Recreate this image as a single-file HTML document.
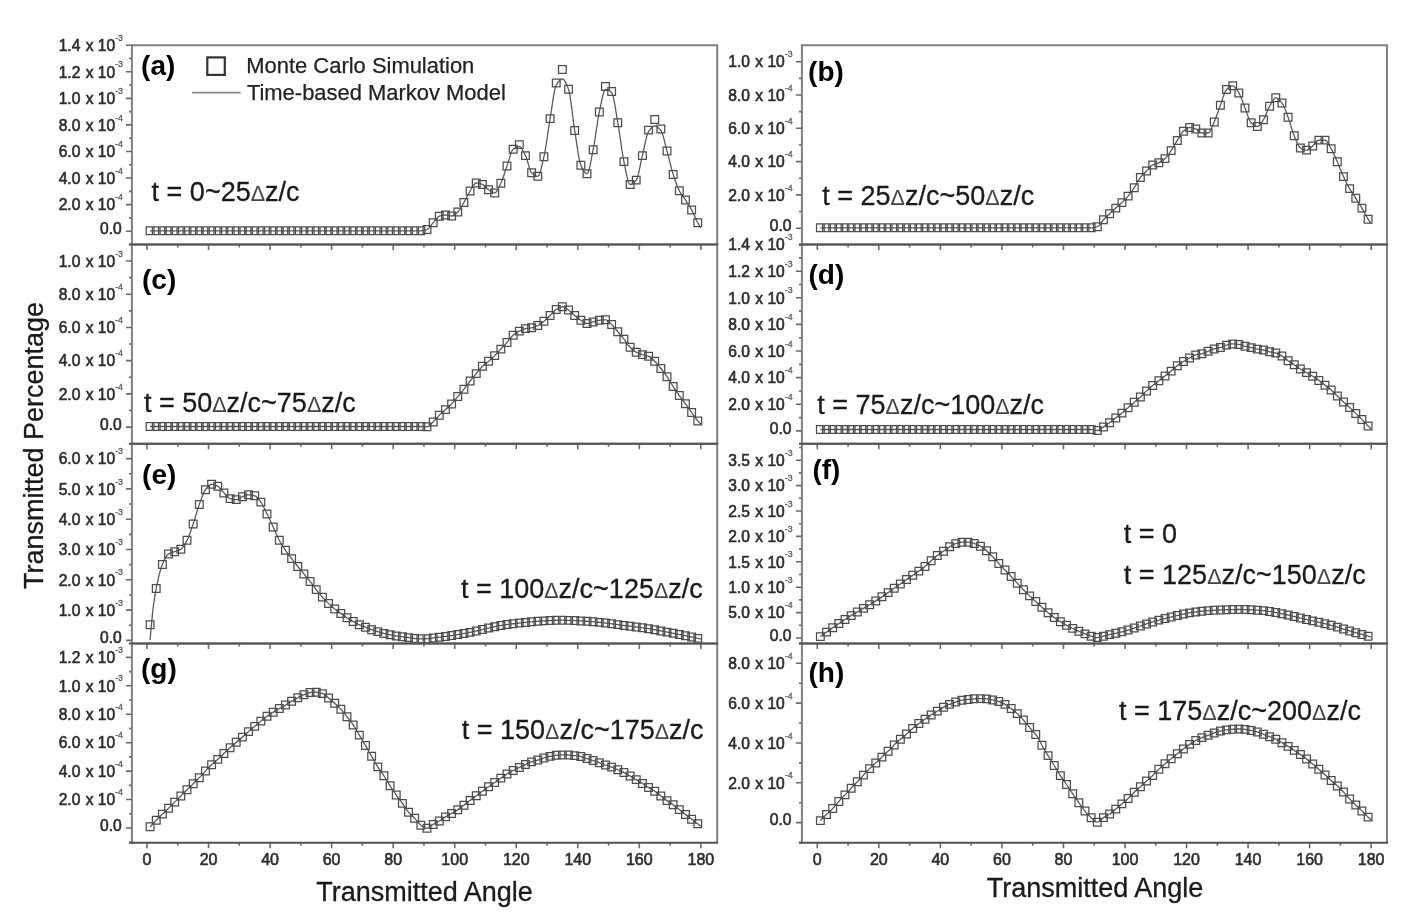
<!DOCTYPE html>
<html><head><meta charset="utf-8"><style>html,body{margin:0;padding:0;background:#fff;width:1410px;height:917px;overflow:hidden}svg{display:block;filter:blur(0.35px)}</style></head>
<body><svg width="1410" height="917" viewBox="0 0 1410 917" font-family='"Liberation Sans", sans-serif'>
<rect width="1410" height="917" fill="#fff"/>
<g><path d="M150.08,230.80 L150.85,230.80 L151.62,230.80 L152.38,230.80 L153.15,230.80 L153.92,230.80 L154.69,230.80 L155.46,230.80 L156.23,230.80 L157.00,230.80 L157.77,230.80 L158.54,230.80 L159.31,230.80 L160.08,230.80 L160.85,230.80 L161.62,230.80 L162.38,230.80 L163.15,230.80 L163.92,230.80 L164.69,230.80 L165.46,230.80 L166.23,230.80 L167.00,230.80 L167.77,230.80 L168.54,230.80 L169.31,230.80 L170.08,230.80 L170.85,230.80 L171.62,230.80 L172.39,230.80 L173.15,230.80 L173.92,230.80 L174.69,230.80 L175.46,230.80 L176.23,230.80 L177.00,230.80 L177.77,230.80 L178.54,230.80 L179.31,230.80 L180.08,230.80 L180.85,230.80 L181.62,230.80 L182.39,230.80 L183.15,230.80 L183.92,230.80 L184.69,230.80 L185.46,230.80 L186.23,230.80 L187.00,230.80 L187.77,230.80 L188.54,230.80 L189.31,230.80 L190.08,230.80 L190.85,230.80 L191.62,230.80 L192.39,230.80 L193.16,230.80 L193.92,230.80 L194.69,230.80 L195.46,230.80 L196.23,230.80 L197.00,230.80 L197.77,230.80 L198.54,230.80 L199.31,230.80 L200.08,230.80 L200.85,230.80 L201.62,230.80 L202.39,230.80 L203.16,230.80 L203.92,230.80 L204.69,230.80 L205.46,230.80 L206.23,230.80 L207.00,230.80 L207.77,230.80 L208.54,230.80 L209.31,230.80 L210.08,230.80 L210.85,230.80 L211.62,230.80 L212.39,230.80 L213.16,230.80 L213.92,230.80 L214.69,230.80 L215.46,230.80 L216.23,230.80 L217.00,230.80 L217.77,230.80 L218.54,230.80 L219.31,230.80 L220.08,230.80 L220.85,230.80 L221.62,230.80 L222.39,230.80 L223.16,230.80 L223.93,230.80 L224.69,230.80 L225.46,230.80 L226.23,230.80 L227.00,230.80 L227.77,230.80 L228.54,230.80 L229.31,230.80 L230.08,230.80 L230.85,230.80 L231.62,230.80 L232.39,230.80 L233.16,230.80 L233.93,230.80 L234.69,230.80 L235.46,230.80 L236.23,230.80 L237.00,230.80 L237.77,230.80 L238.54,230.80 L239.31,230.80 L240.08,230.80 L240.85,230.80 L241.62,230.80 L242.39,230.80 L243.16,230.80 L243.93,230.80 L244.69,230.80 L245.46,230.80 L246.23,230.80 L247.00,230.80 L247.77,230.80 L248.54,230.80 L249.31,230.80 L250.08,230.80 L250.85,230.80 L251.62,230.80 L252.39,230.80 L253.16,230.80 L253.93,230.80 L254.69,230.80 L255.46,230.80 L256.23,230.80 L257.00,230.80 L257.77,230.80 L258.54,230.80 L259.31,230.80 L260.08,230.80 L260.85,230.80 L261.62,230.80 L262.39,230.80 L263.16,230.80 L263.93,230.80 L264.70,230.80 L265.46,230.80 L266.23,230.80 L267.00,230.80 L267.77,230.80 L268.54,230.80 L269.31,230.80 L270.08,230.80 L270.85,230.80 L271.62,230.80 L272.39,230.80 L273.16,230.80 L273.93,230.80 L274.70,230.80 L275.46,230.80 L276.23,230.80 L277.00,230.80 L277.77,230.80 L278.54,230.80 L279.31,230.80 L280.08,230.80 L280.85,230.80 L281.62,230.80 L282.39,230.80 L283.16,230.80 L283.93,230.80 L284.70,230.80 L285.47,230.80 L286.23,230.80 L287.00,230.80 L287.77,230.80 L288.54,230.80 L289.31,230.80 L290.08,230.80 L290.85,230.80 L291.62,230.80 L292.39,230.80 L293.16,230.80 L293.93,230.80 L294.70,230.80 L295.47,230.80 L296.23,230.80 L297.00,230.80 L297.77,230.80 L298.54,230.80 L299.31,230.80 L300.08,230.80 L300.85,230.80 L301.62,230.80 L302.39,230.80 L303.16,230.80 L303.93,230.80 L304.70,230.80 L305.47,230.80 L306.23,230.80 L307.00,230.80 L307.77,230.80 L308.54,230.80 L309.31,230.80 L310.08,230.80 L310.85,230.80 L311.62,230.80 L312.39,230.80 L313.16,230.80 L313.93,230.80 L314.70,230.80 L315.47,230.80 L316.24,230.80 L317.00,230.80 L317.77,230.80 L318.54,230.80 L319.31,230.80 L320.08,230.80 L320.85,230.80 L321.62,230.80 L322.39,230.80 L323.16,230.80 L323.93,230.80 L324.70,230.80 L325.47,230.80 L326.24,230.80 L327.00,230.80 L327.77,230.80 L328.54,230.80 L329.31,230.80 L330.08,230.80 L330.85,230.80 L331.62,230.80 L332.39,230.80 L333.16,230.80 L333.93,230.80 L334.70,230.80 L335.47,230.80 L336.24,230.80 L337.00,230.80 L337.77,230.80 L338.54,230.80 L339.31,230.80 L340.08,230.80 L340.85,230.80 L341.62,230.80 L342.39,230.80 L343.16,230.80 L343.93,230.80 L344.70,230.80 L345.47,230.80 L346.24,230.80 L347.00,230.80 L347.77,230.80 L348.54,230.80 L349.31,230.80 L350.08,230.80 L350.85,230.80 L351.62,230.80 L352.39,230.80 L353.16,230.80 L353.93,230.80 L354.70,230.80 L355.47,230.80 L356.24,230.80 L357.01,230.80 L357.77,230.80 L358.54,230.80 L359.31,230.80 L360.08,230.80 L360.85,230.80 L361.62,230.80 L362.39,230.80 L363.16,230.80 L363.93,230.80 L364.70,230.80 L365.47,230.80 L366.24,230.80 L367.01,230.80 L367.77,230.80 L368.54,230.80 L369.31,230.80 L370.08,230.80 L370.85,230.80 L371.62,230.80 L372.39,230.80 L373.16,230.80 L373.93,230.80 L374.70,230.80 L375.47,230.80 L376.24,230.80 L377.01,230.80 L377.77,230.80 L378.54,230.80 L379.31,230.80 L380.08,230.80 L380.85,230.80 L381.62,230.80 L382.39,230.80 L383.16,230.80 L383.93,230.80 L384.70,230.80 L385.47,230.80 L386.24,230.80 L387.01,230.80 L387.78,230.80 L388.54,230.80 L389.31,230.80 L390.08,230.80 L390.85,230.80 L391.62,230.80 L392.39,230.80 L393.16,230.80 L393.93,230.80 L394.70,230.80 L395.47,230.80 L396.24,230.80 L397.01,230.80 L397.78,230.80 L398.54,230.80 L399.31,230.80 L400.08,230.80 L400.85,230.80 L401.62,230.80 L402.39,230.80 L403.16,230.80 L403.93,230.80 L404.70,230.80 L405.47,230.80 L406.24,230.80 L407.01,230.80 L407.78,230.80 L408.55,230.80 L409.31,230.80 L410.08,230.80 L410.85,230.80 L411.62,230.80 L412.39,230.80 L413.16,230.80 L413.93,230.80 L414.70,230.80 L415.47,230.80 L416.24,230.80 L417.01,230.80 L417.78,230.80 L418.55,230.80 L419.31,230.80 L420.08,230.80 L420.85,230.80 L421.62,230.77 L422.39,230.70 L423.16,230.58 L423.93,230.42 L424.70,230.23 L425.47,230.01 L426.24,229.76 L427.01,229.50 L427.78,229.09 L428.55,228.44 L429.31,227.61 L430.08,226.66 L430.85,225.63 L431.62,224.59 L432.39,223.60 L433.16,222.70 L433.93,221.81 L434.70,220.84 L435.47,219.85 L436.24,218.87 L437.01,217.97 L437.78,217.19 L438.55,216.58 L439.31,216.20 L440.08,215.95 L440.85,215.73 L441.62,215.52 L442.39,215.35 L443.16,215.20 L443.93,215.09 L444.70,215.02 L445.47,215.00 L446.24,215.04 L447.01,215.16 L447.78,215.32 L448.55,215.50 L449.32,215.68 L450.08,215.84 L450.85,215.96 L451.62,216.00 L452.39,215.91 L453.16,215.64 L453.93,215.23 L454.70,214.71 L455.47,214.09 L456.24,213.42 L457.01,212.71 L457.78,212.00 L458.55,211.19 L459.32,210.19 L460.08,209.05 L460.85,207.80 L461.62,206.47 L462.39,205.10 L463.16,203.73 L463.93,202.40 L464.70,201.04 L465.47,199.59 L466.24,198.09 L467.01,196.57 L467.78,195.07 L468.55,193.61 L469.32,192.25 L470.08,191.00 L470.85,189.76 L471.62,188.43 L472.39,187.09 L473.16,185.82 L473.93,184.70 L474.70,183.81 L475.47,183.22 L476.24,183.00 L477.01,183.03 L477.78,183.11 L478.55,183.25 L479.32,183.42 L480.09,183.63 L480.85,183.87 L481.62,184.13 L482.39,184.40 L483.16,184.79 L483.93,185.35 L484.70,186.05 L485.47,186.83 L486.24,187.63 L487.01,188.41 L487.78,189.12 L488.55,189.70 L489.32,190.22 L490.09,190.76 L490.85,191.30 L491.62,191.80 L492.39,192.24 L493.16,192.59 L493.93,192.82 L494.70,192.90 L495.47,192.66 L496.24,191.98 L497.01,190.95 L497.78,189.65 L498.55,188.15 L499.32,186.54 L500.09,184.90 L500.86,183.30 L501.62,181.60 L502.39,179.64 L503.16,177.48 L503.93,175.18 L504.70,172.81 L505.47,170.43 L506.24,168.10 L507.01,165.90 L507.78,163.63 L508.55,161.14 L509.32,158.58 L510.09,156.08 L510.86,153.76 L511.62,151.77 L512.39,150.24 L513.16,149.30 L513.93,148.72 L514.70,148.19 L515.47,147.71 L516.24,147.30 L517.01,146.96 L517.78,146.71 L518.55,146.55 L519.32,146.50 L520.09,146.73 L520.86,147.37 L521.62,148.34 L522.39,149.57 L523.16,150.98 L523.93,152.51 L524.70,154.07 L525.47,155.60 L526.24,157.39 L527.01,159.66 L527.78,162.23 L528.55,164.89 L529.32,167.46 L530.09,169.75 L530.86,171.56 L531.62,172.70 L532.39,173.42 L533.16,174.10 L533.93,174.71 L534.70,175.24 L535.47,175.68 L536.24,176.02 L537.01,176.23 L537.78,176.30 L538.55,175.81 L539.32,174.45 L540.09,172.37 L540.86,169.74 L541.63,166.69 L542.39,163.40 L543.16,160.02 L543.93,156.70 L544.70,153.07 L545.47,148.78 L546.24,143.99 L547.01,138.88 L547.78,133.61 L548.55,128.36 L549.32,123.30 L550.09,118.60 L550.86,113.88 L551.63,108.81 L552.39,103.63 L553.16,98.61 L553.93,93.98 L554.70,90.01 L555.47,86.93 L556.24,85.00 L557.01,83.77 L557.78,82.63 L558.55,81.61 L559.32,80.73 L560.09,80.00 L560.86,79.46 L561.63,79.12 L562.39,79.00 L563.16,79.22 L563.93,79.86 L564.70,80.85 L565.47,82.16 L566.24,83.73 L567.01,85.51 L567.78,87.45 L568.55,89.50 L569.32,92.35 L570.09,96.50 L570.86,101.62 L571.63,107.39 L572.40,113.49 L573.16,119.59 L573.93,125.37 L574.70,130.50 L575.47,135.40 L576.24,140.57 L577.01,145.79 L577.78,150.84 L578.55,155.52 L579.32,159.62 L580.09,162.92 L580.86,165.20 L581.63,166.87 L582.40,168.45 L583.16,169.89 L583.93,171.16 L584.70,172.21 L585.47,173.01 L586.24,173.52 L587.01,173.70 L587.78,173.07 L588.55,171.32 L589.32,168.68 L590.09,165.37 L590.86,161.59 L591.63,157.57 L592.40,153.54 L593.16,149.70 L593.93,145.66 L594.70,141.01 L595.47,135.95 L596.24,130.71 L597.01,125.48 L597.78,120.48 L598.55,115.92 L599.32,112.00 L600.09,108.34 L600.86,104.52 L601.63,100.75 L602.40,97.23 L603.17,94.14 L603.93,91.69 L604.70,90.08 L605.47,89.50 L606.24,89.55 L607.01,89.71 L607.78,89.97 L608.55,90.32 L609.32,90.75 L610.09,91.26 L610.86,91.85 L611.63,92.50 L612.40,93.86 L613.17,96.39 L613.93,99.87 L614.70,104.03 L615.47,108.64 L616.24,113.46 L617.01,118.22 L617.78,122.70 L618.55,127.23 L619.32,132.21 L620.09,137.46 L620.86,142.81 L621.63,148.07 L622.40,153.07 L623.17,157.64 L623.93,161.60 L624.70,165.33 L625.47,169.21 L626.24,173.03 L627.01,176.59 L627.78,179.71 L628.55,182.19 L629.32,183.81 L630.09,184.40 L630.86,184.32 L631.63,184.07 L632.40,183.68 L633.17,183.16 L633.94,182.53 L634.70,181.80 L635.47,180.98 L636.24,180.10 L637.01,178.68 L637.78,176.38 L638.55,173.41 L639.32,169.97 L640.09,166.27 L640.86,162.50 L641.63,158.88 L642.40,155.60 L643.17,152.36 L643.94,148.84 L644.70,145.20 L645.47,141.63 L646.24,138.30 L647.01,135.39 L647.78,133.06 L648.55,131.50 L649.32,130.41 L650.09,129.38 L650.86,128.45 L651.63,127.63 L652.40,126.95 L653.17,126.44 L653.94,126.11 L654.70,126.00 L655.47,126.09 L656.24,126.36 L657.01,126.78 L657.78,127.33 L658.55,128.00 L659.32,128.76 L660.09,129.60 L660.86,130.50 L661.63,131.79 L662.40,133.72 L663.17,136.15 L663.94,138.94 L664.71,141.96 L665.47,145.07 L666.24,148.13 L667.01,151.00 L667.78,153.83 L668.55,156.83 L669.32,159.92 L670.09,163.03 L670.86,166.10 L671.63,169.07 L672.40,171.85 L673.17,174.40 L673.94,176.78 L674.71,179.10 L675.47,181.34 L676.24,183.48 L677.01,185.51 L677.78,187.40 L678.55,189.14 L679.32,190.70 L680.09,192.09 L680.86,193.34 L681.63,194.49 L682.40,195.57 L683.17,196.62 L683.94,197.67 L684.71,198.75 L685.48,199.90 L686.24,201.09 L687.01,202.28 L687.78,203.48 L688.55,204.69 L689.32,205.93 L690.09,207.21 L690.86,208.53 L691.63,209.90 L692.40,211.37 L693.17,212.94 L693.94,214.59 L694.71,216.27 L695.48,217.96 L696.24,219.61 L697.01,221.21 L697.78,222.70 L698.55,224.10 L699.32,225.45 L700.09,226.75 L700.86,228.00" fill="none" stroke="#5a5a5a" stroke-width="1.3" stroke-linejoin="round"/><path d="M146.23,226.95h7.7v7.7h-7.7zM152.38,226.95h7.7v7.7h-7.7zM158.53,226.95h7.7v7.7h-7.7zM164.69,226.95h7.7v7.7h-7.7zM170.84,226.95h7.7v7.7h-7.7zM177.00,226.95h7.7v7.7h-7.7zM183.15,226.95h7.7v7.7h-7.7zM189.31,226.95h7.7v7.7h-7.7zM195.46,226.95h7.7v7.7h-7.7zM201.61,226.95h7.7v7.7h-7.7zM207.77,226.95h7.7v7.7h-7.7zM213.92,226.95h7.7v7.7h-7.7zM220.08,226.95h7.7v7.7h-7.7zM226.23,226.95h7.7v7.7h-7.7zM232.38,226.95h7.7v7.7h-7.7zM238.54,226.95h7.7v7.7h-7.7zM244.69,226.95h7.7v7.7h-7.7zM250.84,226.95h7.7v7.7h-7.7zM257.00,226.95h7.7v7.7h-7.7zM263.15,226.95h7.7v7.7h-7.7zM269.31,226.95h7.7v7.7h-7.7zM275.46,226.95h7.7v7.7h-7.7zM281.62,226.95h7.7v7.7h-7.7zM287.77,226.95h7.7v7.7h-7.7zM293.92,226.95h7.7v7.7h-7.7zM300.08,226.95h7.7v7.7h-7.7zM306.23,226.95h7.7v7.7h-7.7zM312.38,226.95h7.7v7.7h-7.7zM318.54,226.95h7.7v7.7h-7.7zM324.69,226.95h7.7v7.7h-7.7zM330.85,226.95h7.7v7.7h-7.7zM337.00,226.95h7.7v7.7h-7.7zM343.15,226.95h7.7v7.7h-7.7zM349.31,226.95h7.7v7.7h-7.7zM355.46,226.95h7.7v7.7h-7.7zM361.62,226.95h7.7v7.7h-7.7zM367.77,226.95h7.7v7.7h-7.7zM373.92,226.95h7.7v7.7h-7.7zM380.08,226.95h7.7v7.7h-7.7zM386.23,226.95h7.7v7.7h-7.7zM392.39,226.95h7.7v7.7h-7.7zM398.54,226.95h7.7v7.7h-7.7zM404.69,226.95h7.7v7.7h-7.7zM410.85,226.95h7.7v7.7h-7.7zM417.00,226.95h7.7v7.7h-7.7zM423.16,225.65h7.7v7.7h-7.7zM429.31,218.85h7.7v7.7h-7.7zM435.46,212.35h7.7v7.7h-7.7zM441.62,211.15h7.7v7.7h-7.7zM447.77,212.15h7.7v7.7h-7.7zM453.93,208.15h7.7v7.7h-7.7zM460.08,198.55h7.7v7.7h-7.7zM466.23,187.15h7.7v7.7h-7.7zM472.39,179.15h7.7v7.7h-7.7zM478.54,180.55h7.7v7.7h-7.7zM484.70,185.85h7.7v7.7h-7.7zM490.85,189.05h7.7v7.7h-7.7zM497.00,179.45h7.7v7.7h-7.7zM503.16,162.05h7.7v7.7h-7.7zM509.31,145.45h7.7v7.7h-7.7zM515.47,140.75h7.7v7.7h-7.7zM521.62,151.75h7.7v7.7h-7.7zM527.77,168.85h7.7v7.7h-7.7zM533.93,172.45h7.7v7.7h-7.7zM540.08,152.85h7.7v7.7h-7.7zM546.24,114.75h7.7v7.7h-7.7zM552.39,79.05h7.7v7.7h-7.7zM558.54,65.65h7.7v7.7h-7.7zM564.70,85.45h7.7v7.7h-7.7zM570.85,126.65h7.7v7.7h-7.7zM577.01,161.35h7.7v7.7h-7.7zM583.16,169.85h7.7v7.7h-7.7zM589.31,145.85h7.7v7.7h-7.7zM595.47,108.15h7.7v7.7h-7.7zM601.62,82.65h7.7v7.7h-7.7zM607.78,87.55h7.7v7.7h-7.7zM613.93,118.85h7.7v7.7h-7.7zM620.08,157.75h7.7v7.7h-7.7zM626.24,180.55h7.7v7.7h-7.7zM632.39,176.25h7.7v7.7h-7.7zM638.55,151.75h7.7v7.7h-7.7zM644.70,126.25h7.7v7.7h-7.7zM650.85,115.65h7.7v7.7h-7.7zM657.01,125.15h7.7v7.7h-7.7zM663.16,147.15h7.7v7.7h-7.7zM669.32,170.55h7.7v7.7h-7.7zM675.47,186.85h7.7v7.7h-7.7zM681.62,196.05h7.7v7.7h-7.7zM687.78,206.05h7.7v7.7h-7.7zM693.93,218.85h7.7v7.7h-7.7z" fill="none" stroke="#4d4d4d" stroke-width="1.25"/><path d="M131.9,45.2H717.2V244.6" fill="none" stroke="#808080" stroke-width="2"/><path d="M131.9,44.2V245.6" fill="none" stroke="#808080" stroke-width="2"/><path d="M147.00,244.6v5.5M177.77,244.6v3.0M208.54,244.6v5.5M239.31,244.6v3.0M270.08,244.6v5.5M300.85,244.6v3.0M331.62,244.6v5.5M362.39,244.6v3.0M393.16,244.6v5.5M423.93,244.6v3.0M454.70,244.6v5.5M485.47,244.6v3.0M516.24,244.6v5.5M547.01,244.6v3.0M577.78,244.6v5.5M608.55,244.6v3.0M639.32,244.6v5.5M670.09,244.6v3.0M700.86,244.6v5.5M131.90,244.48h-2.9M131.90,231.20h-6M131.90,217.91h-2.9M131.90,204.63h-6M131.90,191.34h-2.9M131.90,178.06h-6M131.90,164.77h-2.9M131.90,151.49h-6M131.90,138.20h-2.9M131.90,124.92h-6M131.90,111.63h-2.9M131.90,98.35h-6M131.90,85.06h-2.9M131.90,71.78h-6M131.90,58.49h-2.9M131.90,45.21h-6" fill="none" stroke="#6a6a6a" stroke-width="1.6"/><text x="121.8" y="233.9" font-size="15.6" text-anchor="end" fill="#2e2e2e" stroke="#2e2e2e" stroke-width="0.6">0.0</text><text x="123.0" y="210.3" font-size="15.6" text-anchor="end" fill="#2e2e2e" stroke="#2e2e2e" stroke-width="0.6">2.0 <tspan dx="1">x</tspan> 10<tspan font-size="8.8" dy="-10.1" fill="#5a5a5a" stroke="#5a5a5a" stroke-width="0.3">-4</tspan></text><text x="123.0" y="183.8" font-size="15.6" text-anchor="end" fill="#2e2e2e" stroke="#2e2e2e" stroke-width="0.6">4.0 <tspan dx="1">x</tspan> 10<tspan font-size="8.8" dy="-10.1" fill="#5a5a5a" stroke="#5a5a5a" stroke-width="0.3">-4</tspan></text><text x="123.0" y="157.2" font-size="15.6" text-anchor="end" fill="#2e2e2e" stroke="#2e2e2e" stroke-width="0.6">6.0 <tspan dx="1">x</tspan> 10<tspan font-size="8.8" dy="-10.1" fill="#5a5a5a" stroke="#5a5a5a" stroke-width="0.3">-4</tspan></text><text x="123.0" y="130.6" font-size="15.6" text-anchor="end" fill="#2e2e2e" stroke="#2e2e2e" stroke-width="0.6">8.0 <tspan dx="1">x</tspan> 10<tspan font-size="8.8" dy="-10.1" fill="#5a5a5a" stroke="#5a5a5a" stroke-width="0.3">-4</tspan></text><text x="123.0" y="104.0" font-size="15.6" text-anchor="end" fill="#2e2e2e" stroke="#2e2e2e" stroke-width="0.6">1.0 <tspan dx="1">x</tspan> 10<tspan font-size="8.8" dy="-10.1" fill="#5a5a5a" stroke="#5a5a5a" stroke-width="0.3">-3</tspan></text><text x="123.0" y="77.5" font-size="15.6" text-anchor="end" fill="#2e2e2e" stroke="#2e2e2e" stroke-width="0.6">1.2 <tspan dx="1">x</tspan> 10<tspan font-size="8.8" dy="-10.1" fill="#5a5a5a" stroke="#5a5a5a" stroke-width="0.3">-3</tspan></text><text x="123.0" y="50.9" font-size="15.6" text-anchor="end" fill="#2e2e2e" stroke="#2e2e2e" stroke-width="0.6">1.4 <tspan dx="1">x</tspan> 10<tspan font-size="8.8" dy="-10.1" fill="#5a5a5a" stroke="#5a5a5a" stroke-width="0.3">-3</tspan></text></g>
<g><path d="M820.38,227.80 L821.15,227.80 L821.92,227.80 L822.68,227.80 L823.45,227.80 L824.22,227.80 L824.99,227.80 L825.76,227.80 L826.53,227.80 L827.30,227.80 L828.07,227.80 L828.84,227.80 L829.61,227.80 L830.38,227.80 L831.15,227.80 L831.92,227.80 L832.68,227.80 L833.45,227.80 L834.22,227.80 L834.99,227.80 L835.76,227.80 L836.53,227.80 L837.30,227.80 L838.07,227.80 L838.84,227.80 L839.61,227.80 L840.38,227.80 L841.15,227.80 L841.92,227.80 L842.69,227.80 L843.45,227.80 L844.22,227.80 L844.99,227.80 L845.76,227.80 L846.53,227.80 L847.30,227.80 L848.07,227.80 L848.84,227.80 L849.61,227.80 L850.38,227.80 L851.15,227.80 L851.92,227.80 L852.69,227.80 L853.45,227.80 L854.22,227.80 L854.99,227.80 L855.76,227.80 L856.53,227.80 L857.30,227.80 L858.07,227.80 L858.84,227.80 L859.61,227.80 L860.38,227.80 L861.15,227.80 L861.92,227.80 L862.69,227.80 L863.45,227.80 L864.22,227.80 L864.99,227.80 L865.76,227.80 L866.53,227.80 L867.30,227.80 L868.07,227.80 L868.84,227.80 L869.61,227.80 L870.38,227.80 L871.15,227.80 L871.92,227.80 L872.69,227.80 L873.46,227.80 L874.22,227.80 L874.99,227.80 L875.76,227.80 L876.53,227.80 L877.30,227.80 L878.07,227.80 L878.84,227.80 L879.61,227.80 L880.38,227.80 L881.15,227.80 L881.92,227.80 L882.69,227.80 L883.46,227.80 L884.22,227.80 L884.99,227.80 L885.76,227.80 L886.53,227.80 L887.30,227.80 L888.07,227.80 L888.84,227.80 L889.61,227.80 L890.38,227.80 L891.15,227.80 L891.92,227.80 L892.69,227.80 L893.46,227.80 L894.22,227.80 L894.99,227.80 L895.76,227.80 L896.53,227.80 L897.30,227.80 L898.07,227.80 L898.84,227.80 L899.61,227.80 L900.38,227.80 L901.15,227.80 L901.92,227.80 L902.69,227.80 L903.46,227.80 L904.23,227.80 L904.99,227.80 L905.76,227.80 L906.53,227.80 L907.30,227.80 L908.07,227.80 L908.84,227.80 L909.61,227.80 L910.38,227.80 L911.15,227.80 L911.92,227.80 L912.69,227.80 L913.46,227.80 L914.23,227.80 L914.99,227.80 L915.76,227.80 L916.53,227.80 L917.30,227.80 L918.07,227.80 L918.84,227.80 L919.61,227.80 L920.38,227.80 L921.15,227.80 L921.92,227.80 L922.69,227.80 L923.46,227.80 L924.23,227.80 L924.99,227.80 L925.76,227.80 L926.53,227.80 L927.30,227.80 L928.07,227.80 L928.84,227.80 L929.61,227.80 L930.38,227.80 L931.15,227.80 L931.92,227.80 L932.69,227.80 L933.46,227.80 L934.23,227.80 L935.00,227.80 L935.76,227.80 L936.53,227.80 L937.30,227.80 L938.07,227.80 L938.84,227.80 L939.61,227.80 L940.38,227.80 L941.15,227.80 L941.92,227.80 L942.69,227.80 L943.46,227.80 L944.23,227.80 L945.00,227.80 L945.76,227.80 L946.53,227.80 L947.30,227.80 L948.07,227.80 L948.84,227.80 L949.61,227.80 L950.38,227.80 L951.15,227.80 L951.92,227.80 L952.69,227.80 L953.46,227.80 L954.23,227.80 L955.00,227.80 L955.76,227.80 L956.53,227.80 L957.30,227.80 L958.07,227.80 L958.84,227.80 L959.61,227.80 L960.38,227.80 L961.15,227.80 L961.92,227.80 L962.69,227.80 L963.46,227.80 L964.23,227.80 L965.00,227.80 L965.77,227.80 L966.53,227.80 L967.30,227.80 L968.07,227.80 L968.84,227.80 L969.61,227.80 L970.38,227.80 L971.15,227.80 L971.92,227.80 L972.69,227.80 L973.46,227.80 L974.23,227.80 L975.00,227.80 L975.77,227.80 L976.53,227.80 L977.30,227.80 L978.07,227.80 L978.84,227.80 L979.61,227.80 L980.38,227.80 L981.15,227.80 L981.92,227.80 L982.69,227.80 L983.46,227.80 L984.23,227.80 L985.00,227.80 L985.77,227.80 L986.53,227.80 L987.30,227.80 L988.07,227.80 L988.84,227.80 L989.61,227.80 L990.38,227.80 L991.15,227.80 L991.92,227.80 L992.69,227.80 L993.46,227.80 L994.23,227.80 L995.00,227.80 L995.77,227.80 L996.54,227.80 L997.30,227.80 L998.07,227.80 L998.84,227.80 L999.61,227.80 L1000.38,227.80 L1001.15,227.80 L1001.92,227.80 L1002.69,227.80 L1003.46,227.80 L1004.23,227.80 L1005.00,227.80 L1005.77,227.80 L1006.54,227.80 L1007.30,227.80 L1008.07,227.80 L1008.84,227.80 L1009.61,227.80 L1010.38,227.80 L1011.15,227.80 L1011.92,227.80 L1012.69,227.80 L1013.46,227.80 L1014.23,227.80 L1015.00,227.80 L1015.77,227.80 L1016.54,227.80 L1017.30,227.80 L1018.07,227.80 L1018.84,227.80 L1019.61,227.80 L1020.38,227.80 L1021.15,227.80 L1021.92,227.80 L1022.69,227.80 L1023.46,227.80 L1024.23,227.80 L1025.00,227.80 L1025.77,227.80 L1026.54,227.80 L1027.31,227.80 L1028.07,227.80 L1028.84,227.80 L1029.61,227.80 L1030.38,227.80 L1031.15,227.80 L1031.92,227.80 L1032.69,227.80 L1033.46,227.80 L1034.23,227.80 L1035.00,227.80 L1035.77,227.80 L1036.54,227.80 L1037.31,227.80 L1038.07,227.80 L1038.84,227.80 L1039.61,227.80 L1040.38,227.80 L1041.15,227.80 L1041.92,227.80 L1042.69,227.80 L1043.46,227.80 L1044.23,227.80 L1045.00,227.80 L1045.77,227.80 L1046.54,227.80 L1047.31,227.80 L1048.08,227.80 L1048.84,227.80 L1049.61,227.80 L1050.38,227.80 L1051.15,227.80 L1051.92,227.80 L1052.69,227.80 L1053.46,227.80 L1054.23,227.80 L1055.00,227.80 L1055.77,227.80 L1056.54,227.80 L1057.31,227.80 L1058.08,227.80 L1058.84,227.80 L1059.61,227.80 L1060.38,227.80 L1061.15,227.80 L1061.92,227.80 L1062.69,227.80 L1063.46,227.80 L1064.23,227.80 L1065.00,227.80 L1065.77,227.80 L1066.54,227.80 L1067.31,227.80 L1068.08,227.80 L1068.84,227.80 L1069.61,227.80 L1070.38,227.80 L1071.15,227.80 L1071.92,227.80 L1072.69,227.80 L1073.46,227.80 L1074.23,227.80 L1075.00,227.80 L1075.77,227.80 L1076.54,227.80 L1077.31,227.80 L1078.08,227.80 L1078.85,227.80 L1079.61,227.80 L1080.38,227.80 L1081.15,227.80 L1081.92,227.80 L1082.69,227.80 L1083.46,227.80 L1084.23,227.80 L1085.00,227.80 L1085.77,227.80 L1086.54,227.80 L1087.31,227.80 L1088.08,227.80 L1088.85,227.80 L1089.61,227.80 L1090.38,227.80 L1091.15,227.80 L1091.92,227.78 L1092.69,227.72 L1093.46,227.62 L1094.23,227.49 L1095.00,227.33 L1095.77,227.14 L1096.54,226.93 L1097.31,226.70 L1098.08,226.31 L1098.85,225.66 L1099.61,224.81 L1100.38,223.82 L1101.15,222.76 L1101.92,221.70 L1102.69,220.69 L1103.46,219.80 L1104.23,219.00 L1105.00,218.21 L1105.77,217.43 L1106.54,216.67 L1107.31,215.92 L1108.08,215.17 L1108.85,214.43 L1109.62,213.70 L1110.38,212.98 L1111.15,212.26 L1111.92,211.56 L1112.69,210.86 L1113.46,210.17 L1114.23,209.48 L1115.00,208.79 L1115.77,208.10 L1116.54,207.41 L1117.31,206.74 L1118.08,206.07 L1118.85,205.40 L1119.62,204.73 L1120.38,204.04 L1121.15,203.33 L1121.92,202.60 L1122.69,201.85 L1123.46,201.09 L1124.23,200.31 L1125.00,199.52 L1125.77,198.71 L1126.54,197.87 L1127.31,197.00 L1128.08,196.10 L1128.85,195.16 L1129.62,194.19 L1130.38,193.18 L1131.15,192.14 L1131.92,191.06 L1132.69,189.96 L1133.46,188.84 L1134.23,187.70 L1135.00,186.49 L1135.77,185.18 L1136.54,183.82 L1137.31,182.44 L1138.08,181.08 L1138.85,179.78 L1139.62,178.57 L1140.38,177.50 L1141.15,176.55 L1141.92,175.66 L1142.69,174.83 L1143.46,174.04 L1144.23,173.28 L1145.00,172.53 L1145.77,171.77 L1146.54,171.00 L1147.31,170.18 L1148.08,169.31 L1148.85,168.43 L1149.62,167.57 L1150.39,166.75 L1151.15,166.01 L1151.92,165.39 L1152.69,164.90 L1153.46,164.54 L1154.23,164.24 L1155.00,163.98 L1155.77,163.75 L1156.54,163.53 L1157.31,163.29 L1158.08,163.02 L1158.85,162.70 L1159.62,162.32 L1160.39,161.91 L1161.15,161.46 L1161.92,160.97 L1162.69,160.44 L1163.46,159.87 L1164.23,159.26 L1165.00,158.60 L1165.77,157.86 L1166.54,157.01 L1167.31,156.06 L1168.08,155.04 L1168.85,153.97 L1169.62,152.86 L1170.39,151.73 L1171.15,150.60 L1171.92,149.44 L1172.69,148.20 L1173.46,146.91 L1174.23,145.59 L1175.00,144.26 L1175.77,142.93 L1176.54,141.64 L1177.31,140.40 L1178.08,139.15 L1178.85,137.85 L1179.62,136.54 L1180.39,135.25 L1181.16,134.03 L1181.92,132.93 L1182.69,131.97 L1183.46,131.20 L1184.23,130.54 L1185.00,129.88 L1185.77,129.26 L1186.54,128.69 L1187.31,128.21 L1188.08,127.83 L1188.85,127.59 L1189.62,127.50 L1190.39,127.53 L1191.16,127.63 L1191.92,127.78 L1192.69,127.98 L1193.46,128.21 L1194.23,128.46 L1195.00,128.73 L1195.77,129.00 L1196.54,129.38 L1197.31,129.93 L1198.08,130.59 L1198.85,131.27 L1199.62,131.93 L1200.39,132.48 L1201.16,132.86 L1201.92,133.00 L1202.69,133.00 L1203.46,133.00 L1204.23,133.00 L1205.00,133.00 L1205.77,133.00 L1206.54,133.00 L1207.31,133.00 L1208.08,133.00 L1208.85,132.71 L1209.62,131.89 L1210.39,130.66 L1211.16,129.12 L1211.93,127.37 L1212.69,125.51 L1213.46,123.65 L1214.23,121.90 L1215.00,120.13 L1215.77,118.17 L1216.54,116.08 L1217.31,113.91 L1218.08,111.68 L1218.85,109.46 L1219.62,107.28 L1220.39,105.20 L1221.16,103.06 L1221.93,100.75 L1222.69,98.39 L1223.46,96.08 L1224.23,93.92 L1225.00,92.04 L1225.77,90.53 L1226.54,89.50 L1227.31,88.77 L1228.08,88.08 L1228.85,87.45 L1229.62,86.90 L1230.39,86.44 L1231.16,86.10 L1231.93,85.88 L1232.69,85.80 L1233.46,85.97 L1234.23,86.46 L1235.00,87.20 L1235.77,88.14 L1236.54,89.24 L1237.31,90.43 L1238.08,91.67 L1238.85,92.90 L1239.62,94.27 L1240.39,95.92 L1241.16,97.78 L1241.93,99.79 L1242.70,101.88 L1243.46,103.99 L1244.23,106.05 L1245.00,108.00 L1245.77,109.99 L1246.54,112.14 L1247.31,114.35 L1248.08,116.53 L1248.85,118.56 L1249.62,120.36 L1250.39,121.80 L1251.16,122.80 L1251.93,123.53 L1252.70,124.21 L1253.46,124.84 L1254.23,125.39 L1255.00,125.85 L1255.77,126.20 L1256.54,126.42 L1257.31,126.50 L1258.08,126.33 L1258.85,125.86 L1259.62,125.14 L1260.39,124.23 L1261.16,123.18 L1261.93,122.03 L1262.70,120.86 L1263.46,119.70 L1264.23,118.40 L1265.00,116.80 L1265.77,115.01 L1266.54,113.11 L1267.31,111.19 L1268.08,109.34 L1268.85,107.65 L1269.62,106.20 L1270.39,104.85 L1271.16,103.43 L1271.93,102.03 L1272.70,100.71 L1273.47,99.55 L1274.23,98.63 L1275.00,98.02 L1275.77,97.80 L1276.54,97.92 L1277.31,98.25 L1278.08,98.78 L1278.85,99.45 L1279.62,100.24 L1280.39,101.11 L1281.16,102.05 L1281.93,103.00 L1282.70,104.12 L1283.47,105.55 L1284.23,107.22 L1285.00,109.09 L1285.77,111.08 L1286.54,113.15 L1287.31,115.25 L1288.08,117.30 L1288.85,119.44 L1289.62,121.77 L1290.39,124.23 L1291.16,126.74 L1291.93,129.22 L1292.70,131.61 L1293.47,133.83 L1294.23,135.80 L1295.00,137.67 L1295.77,139.57 L1296.54,141.44 L1297.31,143.21 L1298.08,144.81 L1298.85,146.17 L1299.62,147.22 L1300.39,147.90 L1301.16,148.35 L1301.93,148.77 L1302.70,149.14 L1303.47,149.47 L1304.24,149.73 L1305.00,149.93 L1305.77,150.06 L1306.54,150.10 L1307.31,149.99 L1308.08,149.69 L1308.85,149.23 L1309.62,148.65 L1310.39,148.01 L1311.16,147.32 L1311.93,146.64 L1312.70,146.00 L1313.47,145.28 L1314.24,144.40 L1315.00,143.42 L1315.77,142.45 L1316.54,141.54 L1317.31,140.80 L1318.08,140.29 L1318.85,140.10 L1319.62,140.10 L1320.39,140.10 L1321.16,140.10 L1321.93,140.10 L1322.70,140.10 L1323.47,140.10 L1324.24,140.10 L1325.00,140.10 L1325.77,140.33 L1326.54,140.97 L1327.31,141.94 L1328.08,143.15 L1328.85,144.52 L1329.62,145.97 L1330.39,147.43 L1331.16,148.80 L1331.93,150.17 L1332.70,151.65 L1333.47,153.22 L1334.24,154.87 L1335.01,156.58 L1335.77,158.31 L1336.54,160.06 L1337.31,161.80 L1338.08,163.58 L1338.85,165.44 L1339.62,167.35 L1340.39,169.27 L1341.16,171.19 L1341.93,173.07 L1342.70,174.88 L1343.47,176.60 L1344.24,178.24 L1345.01,179.84 L1345.77,181.40 L1346.54,182.92 L1347.31,184.40 L1348.08,185.84 L1348.85,187.24 L1349.62,188.60 L1350.39,189.91 L1351.16,191.17 L1351.93,192.38 L1352.70,193.57 L1353.47,194.75 L1354.24,195.92 L1355.01,197.10 L1355.78,198.30 L1356.54,199.51 L1357.31,200.71 L1358.08,201.91 L1358.85,203.12 L1359.62,204.33 L1360.39,205.56 L1361.16,206.82 L1361.93,208.10 L1362.70,209.44 L1363.47,210.83 L1364.24,212.25 L1365.01,213.69 L1365.78,215.13 L1366.54,216.54 L1367.31,217.90 L1368.08,219.20 L1368.85,220.44 L1369.62,221.63 L1370.39,222.78 L1371.16,223.90" fill="none" stroke="#5a5a5a" stroke-width="1.3" stroke-linejoin="round"/><path d="M816.53,223.95h7.7v7.7h-7.7zM822.68,223.95h7.7v7.7h-7.7zM828.83,223.95h7.7v7.7h-7.7zM834.99,223.95h7.7v7.7h-7.7zM841.14,223.95h7.7v7.7h-7.7zM847.30,223.95h7.7v7.7h-7.7zM853.45,223.95h7.7v7.7h-7.7zM859.60,223.95h7.7v7.7h-7.7zM865.76,223.95h7.7v7.7h-7.7zM871.91,223.95h7.7v7.7h-7.7zM878.07,223.95h7.7v7.7h-7.7zM884.22,223.95h7.7v7.7h-7.7zM890.37,223.95h7.7v7.7h-7.7zM896.53,223.95h7.7v7.7h-7.7zM902.68,223.95h7.7v7.7h-7.7zM908.84,223.95h7.7v7.7h-7.7zM914.99,223.95h7.7v7.7h-7.7zM921.14,223.95h7.7v7.7h-7.7zM927.30,223.95h7.7v7.7h-7.7zM933.45,223.95h7.7v7.7h-7.7zM939.61,223.95h7.7v7.7h-7.7zM945.76,223.95h7.7v7.7h-7.7zM951.91,223.95h7.7v7.7h-7.7zM958.07,223.95h7.7v7.7h-7.7zM964.22,223.95h7.7v7.7h-7.7zM970.38,223.95h7.7v7.7h-7.7zM976.53,223.95h7.7v7.7h-7.7zM982.68,223.95h7.7v7.7h-7.7zM988.84,223.95h7.7v7.7h-7.7zM994.99,223.95h7.7v7.7h-7.7zM1001.15,223.95h7.7v7.7h-7.7zM1007.30,223.95h7.7v7.7h-7.7zM1013.45,223.95h7.7v7.7h-7.7zM1019.61,223.95h7.7v7.7h-7.7zM1025.76,223.95h7.7v7.7h-7.7zM1031.92,223.95h7.7v7.7h-7.7zM1038.07,223.95h7.7v7.7h-7.7zM1044.23,223.95h7.7v7.7h-7.7zM1050.38,223.95h7.7v7.7h-7.7zM1056.53,223.95h7.7v7.7h-7.7zM1062.69,223.95h7.7v7.7h-7.7zM1068.84,223.95h7.7v7.7h-7.7zM1075.00,223.95h7.7v7.7h-7.7zM1081.15,223.95h7.7v7.7h-7.7zM1087.30,223.95h7.7v7.7h-7.7zM1093.46,222.85h7.7v7.7h-7.7zM1099.61,215.95h7.7v7.7h-7.7zM1105.77,209.85h7.7v7.7h-7.7zM1111.92,204.25h7.7v7.7h-7.7zM1118.07,198.75h7.7v7.7h-7.7zM1124.23,192.25h7.7v7.7h-7.7zM1130.38,183.85h7.7v7.7h-7.7zM1136.54,173.65h7.7v7.7h-7.7zM1142.69,167.15h7.7v7.7h-7.7zM1148.84,161.05h7.7v7.7h-7.7zM1155.00,158.85h7.7v7.7h-7.7zM1161.15,154.75h7.7v7.7h-7.7zM1167.31,146.75h7.7v7.7h-7.7zM1173.46,136.55h7.7v7.7h-7.7zM1179.61,127.35h7.7v7.7h-7.7zM1185.77,123.65h7.7v7.7h-7.7zM1191.92,125.15h7.7v7.7h-7.7zM1198.08,129.15h7.7v7.7h-7.7zM1204.23,129.15h7.7v7.7h-7.7zM1210.38,118.05h7.7v7.7h-7.7zM1216.54,101.35h7.7v7.7h-7.7zM1222.69,85.65h7.7v7.7h-7.7zM1228.85,81.95h7.7v7.7h-7.7zM1235.00,89.05h7.7v7.7h-7.7zM1241.15,104.15h7.7v7.7h-7.7zM1247.31,118.95h7.7v7.7h-7.7zM1253.46,122.65h7.7v7.7h-7.7zM1259.62,115.85h7.7v7.7h-7.7zM1265.77,102.35h7.7v7.7h-7.7zM1271.92,93.95h7.7v7.7h-7.7zM1278.08,99.15h7.7v7.7h-7.7zM1284.23,113.45h7.7v7.7h-7.7zM1290.38,131.95h7.7v7.7h-7.7zM1296.54,144.05h7.7v7.7h-7.7zM1302.69,146.25h7.7v7.7h-7.7zM1308.85,142.15h7.7v7.7h-7.7zM1315.00,136.25h7.7v7.7h-7.7zM1321.15,136.25h7.7v7.7h-7.7zM1327.31,144.95h7.7v7.7h-7.7zM1333.46,157.95h7.7v7.7h-7.7zM1339.62,172.75h7.7v7.7h-7.7zM1345.77,184.75h7.7v7.7h-7.7zM1351.93,194.45h7.7v7.7h-7.7zM1358.08,204.25h7.7v7.7h-7.7zM1364.23,215.35h7.7v7.7h-7.7z" fill="none" stroke="#4d4d4d" stroke-width="1.25"/><path d="M801.9,45.2H1387.0V244.6" fill="none" stroke="#808080" stroke-width="2"/><path d="M801.9,44.2V245.6" fill="none" stroke="#808080" stroke-width="2"/><path d="M817.30,244.6v5.5M848.07,244.6v3.0M878.84,244.6v5.5M909.61,244.6v3.0M940.38,244.6v5.5M971.15,244.6v3.0M1001.92,244.6v5.5M1032.69,244.6v3.0M1063.46,244.6v5.5M1094.23,244.6v3.0M1125.00,244.6v5.5M1155.77,244.6v3.0M1186.54,244.6v5.5M1217.31,244.6v3.0M1248.08,244.6v5.5M1278.85,244.6v3.0M1309.62,244.6v5.5M1340.39,244.6v3.0M1371.16,244.6v5.5M801.90,244.85h-2.9M801.90,228.20h-6M801.90,211.55h-2.9M801.90,194.90h-6M801.90,178.25h-2.9M801.90,161.60h-6M801.90,144.95h-2.9M801.90,128.30h-6M801.90,111.65h-2.9M801.90,95.00h-6M801.90,78.35h-2.9M801.90,61.70h-6" fill="none" stroke="#6a6a6a" stroke-width="1.6"/><text x="791.4" y="230.9" font-size="15.6" text-anchor="end" fill="#2e2e2e" stroke="#2e2e2e" stroke-width="0.6">0.0</text><text x="792.6" y="200.6" font-size="15.6" text-anchor="end" fill="#2e2e2e" stroke="#2e2e2e" stroke-width="0.6">2.0 <tspan dx="1">x</tspan> 10<tspan font-size="8.8" dy="-10.1" fill="#5a5a5a" stroke="#5a5a5a" stroke-width="0.3">-4</tspan></text><text x="792.6" y="167.3" font-size="15.6" text-anchor="end" fill="#2e2e2e" stroke="#2e2e2e" stroke-width="0.6">4.0 <tspan dx="1">x</tspan> 10<tspan font-size="8.8" dy="-10.1" fill="#5a5a5a" stroke="#5a5a5a" stroke-width="0.3">-4</tspan></text><text x="792.6" y="134.0" font-size="15.6" text-anchor="end" fill="#2e2e2e" stroke="#2e2e2e" stroke-width="0.6">6.0 <tspan dx="1">x</tspan> 10<tspan font-size="8.8" dy="-10.1" fill="#5a5a5a" stroke="#5a5a5a" stroke-width="0.3">-4</tspan></text><text x="792.6" y="100.7" font-size="15.6" text-anchor="end" fill="#2e2e2e" stroke="#2e2e2e" stroke-width="0.6">8.0 <tspan dx="1">x</tspan> 10<tspan font-size="8.8" dy="-10.1" fill="#5a5a5a" stroke="#5a5a5a" stroke-width="0.3">-4</tspan></text><text x="792.6" y="67.4" font-size="15.6" text-anchor="end" fill="#2e2e2e" stroke="#2e2e2e" stroke-width="0.6">1.0 <tspan dx="1">x</tspan> 10<tspan font-size="8.8" dy="-10.1" fill="#5a5a5a" stroke="#5a5a5a" stroke-width="0.3">-3</tspan></text></g>
<g><path d="M150.08,426.50 L150.85,426.50 L151.62,426.50 L152.38,426.50 L153.15,426.50 L153.92,426.50 L154.69,426.50 L155.46,426.50 L156.23,426.50 L157.00,426.50 L157.77,426.50 L158.54,426.50 L159.31,426.50 L160.08,426.50 L160.85,426.50 L161.62,426.50 L162.38,426.50 L163.15,426.50 L163.92,426.50 L164.69,426.50 L165.46,426.50 L166.23,426.50 L167.00,426.50 L167.77,426.50 L168.54,426.50 L169.31,426.50 L170.08,426.50 L170.85,426.50 L171.62,426.50 L172.39,426.50 L173.15,426.50 L173.92,426.50 L174.69,426.50 L175.46,426.50 L176.23,426.50 L177.00,426.50 L177.77,426.50 L178.54,426.50 L179.31,426.50 L180.08,426.50 L180.85,426.50 L181.62,426.50 L182.39,426.50 L183.15,426.50 L183.92,426.50 L184.69,426.50 L185.46,426.50 L186.23,426.50 L187.00,426.50 L187.77,426.50 L188.54,426.50 L189.31,426.50 L190.08,426.50 L190.85,426.50 L191.62,426.50 L192.39,426.50 L193.16,426.50 L193.92,426.50 L194.69,426.50 L195.46,426.50 L196.23,426.50 L197.00,426.50 L197.77,426.50 L198.54,426.50 L199.31,426.50 L200.08,426.50 L200.85,426.50 L201.62,426.50 L202.39,426.50 L203.16,426.50 L203.92,426.50 L204.69,426.50 L205.46,426.50 L206.23,426.50 L207.00,426.50 L207.77,426.50 L208.54,426.50 L209.31,426.50 L210.08,426.50 L210.85,426.50 L211.62,426.50 L212.39,426.50 L213.16,426.50 L213.92,426.50 L214.69,426.50 L215.46,426.50 L216.23,426.50 L217.00,426.50 L217.77,426.50 L218.54,426.50 L219.31,426.50 L220.08,426.50 L220.85,426.50 L221.62,426.50 L222.39,426.50 L223.16,426.50 L223.93,426.50 L224.69,426.50 L225.46,426.50 L226.23,426.50 L227.00,426.50 L227.77,426.50 L228.54,426.50 L229.31,426.50 L230.08,426.50 L230.85,426.50 L231.62,426.50 L232.39,426.50 L233.16,426.50 L233.93,426.50 L234.69,426.50 L235.46,426.50 L236.23,426.50 L237.00,426.50 L237.77,426.50 L238.54,426.50 L239.31,426.50 L240.08,426.50 L240.85,426.50 L241.62,426.50 L242.39,426.50 L243.16,426.50 L243.93,426.50 L244.69,426.50 L245.46,426.50 L246.23,426.50 L247.00,426.50 L247.77,426.50 L248.54,426.50 L249.31,426.50 L250.08,426.50 L250.85,426.50 L251.62,426.50 L252.39,426.50 L253.16,426.50 L253.93,426.50 L254.69,426.50 L255.46,426.50 L256.23,426.50 L257.00,426.50 L257.77,426.50 L258.54,426.50 L259.31,426.50 L260.08,426.50 L260.85,426.50 L261.62,426.50 L262.39,426.50 L263.16,426.50 L263.93,426.50 L264.70,426.50 L265.46,426.50 L266.23,426.50 L267.00,426.50 L267.77,426.50 L268.54,426.50 L269.31,426.50 L270.08,426.50 L270.85,426.50 L271.62,426.50 L272.39,426.50 L273.16,426.50 L273.93,426.50 L274.70,426.50 L275.46,426.50 L276.23,426.50 L277.00,426.50 L277.77,426.50 L278.54,426.50 L279.31,426.50 L280.08,426.50 L280.85,426.50 L281.62,426.50 L282.39,426.50 L283.16,426.50 L283.93,426.50 L284.70,426.50 L285.47,426.50 L286.23,426.50 L287.00,426.50 L287.77,426.50 L288.54,426.50 L289.31,426.50 L290.08,426.50 L290.85,426.50 L291.62,426.50 L292.39,426.50 L293.16,426.50 L293.93,426.50 L294.70,426.50 L295.47,426.50 L296.23,426.50 L297.00,426.50 L297.77,426.50 L298.54,426.50 L299.31,426.50 L300.08,426.50 L300.85,426.50 L301.62,426.50 L302.39,426.50 L303.16,426.50 L303.93,426.50 L304.70,426.50 L305.47,426.50 L306.23,426.50 L307.00,426.50 L307.77,426.50 L308.54,426.50 L309.31,426.50 L310.08,426.50 L310.85,426.50 L311.62,426.50 L312.39,426.50 L313.16,426.50 L313.93,426.50 L314.70,426.50 L315.47,426.50 L316.24,426.50 L317.00,426.50 L317.77,426.50 L318.54,426.50 L319.31,426.50 L320.08,426.50 L320.85,426.50 L321.62,426.50 L322.39,426.50 L323.16,426.50 L323.93,426.50 L324.70,426.50 L325.47,426.50 L326.24,426.50 L327.00,426.50 L327.77,426.50 L328.54,426.50 L329.31,426.50 L330.08,426.50 L330.85,426.50 L331.62,426.50 L332.39,426.50 L333.16,426.50 L333.93,426.50 L334.70,426.50 L335.47,426.50 L336.24,426.50 L337.00,426.50 L337.77,426.50 L338.54,426.50 L339.31,426.50 L340.08,426.50 L340.85,426.50 L341.62,426.50 L342.39,426.50 L343.16,426.50 L343.93,426.50 L344.70,426.50 L345.47,426.50 L346.24,426.50 L347.00,426.50 L347.77,426.50 L348.54,426.50 L349.31,426.50 L350.08,426.50 L350.85,426.50 L351.62,426.50 L352.39,426.50 L353.16,426.50 L353.93,426.50 L354.70,426.50 L355.47,426.50 L356.24,426.50 L357.01,426.50 L357.77,426.50 L358.54,426.50 L359.31,426.50 L360.08,426.50 L360.85,426.50 L361.62,426.50 L362.39,426.50 L363.16,426.50 L363.93,426.50 L364.70,426.50 L365.47,426.50 L366.24,426.50 L367.01,426.50 L367.77,426.50 L368.54,426.50 L369.31,426.50 L370.08,426.50 L370.85,426.50 L371.62,426.50 L372.39,426.50 L373.16,426.50 L373.93,426.50 L374.70,426.50 L375.47,426.50 L376.24,426.50 L377.01,426.50 L377.77,426.50 L378.54,426.50 L379.31,426.50 L380.08,426.50 L380.85,426.50 L381.62,426.50 L382.39,426.50 L383.16,426.50 L383.93,426.50 L384.70,426.50 L385.47,426.50 L386.24,426.50 L387.01,426.50 L387.78,426.50 L388.54,426.50 L389.31,426.50 L390.08,426.50 L390.85,426.50 L391.62,426.50 L392.39,426.50 L393.16,426.50 L393.93,426.50 L394.70,426.50 L395.47,426.50 L396.24,426.50 L397.01,426.50 L397.78,426.50 L398.54,426.50 L399.31,426.50 L400.08,426.50 L400.85,426.50 L401.62,426.50 L402.39,426.50 L403.16,426.50 L403.93,426.50 L404.70,426.50 L405.47,426.50 L406.24,426.50 L407.01,426.50 L407.78,426.50 L408.55,426.50 L409.31,426.50 L410.08,426.50 L410.85,426.50 L411.62,426.50 L412.39,426.50 L413.16,426.50 L413.93,426.50 L414.70,426.50 L415.47,426.50 L416.24,426.50 L417.01,426.50 L417.78,426.50 L418.55,426.50 L419.31,426.50 L420.08,426.50 L420.85,426.50 L421.62,426.51 L422.39,426.55 L423.16,426.59 L423.93,426.65 L424.70,426.71 L425.47,426.75 L426.24,426.79 L427.01,426.80 L427.78,426.67 L428.55,426.30 L429.31,425.74 L430.08,425.05 L430.85,424.27 L431.62,423.46 L432.39,422.65 L433.16,421.90 L433.93,421.16 L434.70,420.36 L435.47,419.53 L436.24,418.66 L437.01,417.79 L437.78,416.93 L438.55,416.09 L439.31,415.30 L440.08,414.55 L440.85,413.82 L441.62,413.10 L442.39,412.40 L443.16,411.70 L443.93,411.01 L444.70,410.31 L445.47,409.60 L446.24,408.90 L447.01,408.21 L447.78,407.53 L448.55,406.84 L449.32,406.15 L450.08,405.43 L450.85,404.68 L451.62,403.90 L452.39,403.07 L453.16,402.18 L453.93,401.26 L454.70,400.31 L455.47,399.35 L456.24,398.39 L457.01,397.43 L457.78,396.50 L458.55,395.59 L459.32,394.69 L460.08,393.79 L460.85,392.90 L461.62,392.00 L462.39,391.08 L463.16,390.15 L463.93,389.20 L464.70,388.21 L465.47,387.20 L466.24,386.16 L467.01,385.11 L467.78,384.06 L468.55,383.01 L469.32,381.99 L470.08,381.00 L470.85,380.04 L471.62,379.09 L472.39,378.16 L473.16,377.25 L473.93,376.33 L474.70,375.43 L475.47,374.51 L476.24,373.60 L477.01,372.66 L477.78,371.70 L478.55,370.74 L479.32,369.77 L480.09,368.83 L480.85,367.93 L481.62,367.08 L482.39,366.30 L483.16,365.59 L483.93,364.93 L484.70,364.32 L485.47,363.72 L486.24,363.14 L487.01,362.55 L487.78,361.94 L488.55,361.30 L489.32,360.63 L490.09,359.94 L490.85,359.25 L491.62,358.54 L492.39,357.83 L493.16,357.10 L493.93,356.35 L494.70,355.60 L495.47,354.83 L496.24,354.04 L497.01,353.23 L497.78,352.41 L498.55,351.58 L499.32,350.75 L500.09,349.92 L500.86,349.10 L501.62,348.28 L502.39,347.47 L503.16,346.66 L503.93,345.85 L504.70,345.03 L505.47,344.20 L506.24,343.36 L507.01,342.50 L507.78,341.59 L508.55,340.63 L509.32,339.64 L510.09,338.64 L510.86,337.67 L511.62,336.75 L512.39,335.92 L513.16,335.20 L513.93,334.56 L514.70,333.97 L515.47,333.41 L516.24,332.88 L517.01,332.39 L517.78,331.93 L518.55,331.50 L519.32,331.10 L520.09,330.71 L520.86,330.33 L521.62,329.96 L522.39,329.61 L523.16,329.30 L523.93,329.02 L524.70,328.78 L525.47,328.60 L526.24,328.47 L527.01,328.36 L527.78,328.27 L528.55,328.20 L529.32,328.12 L530.09,328.04 L530.86,327.93 L531.62,327.80 L532.39,327.62 L533.16,327.40 L533.93,327.13 L534.70,326.83 L535.47,326.50 L536.24,326.14 L537.01,325.78 L537.78,325.40 L538.55,325.00 L539.32,324.56 L540.09,324.08 L540.86,323.57 L541.63,323.03 L542.39,322.47 L543.16,321.89 L543.93,321.30 L544.70,320.67 L545.47,320.00 L546.24,319.28 L547.01,318.54 L547.78,317.78 L548.55,317.02 L549.32,316.25 L550.09,315.50 L550.86,314.72 L551.63,313.89 L552.39,313.03 L553.16,312.17 L553.93,311.36 L554.70,310.60 L555.47,309.94 L556.24,309.40 L557.01,308.93 L557.78,308.45 L558.55,308.00 L559.32,307.58 L560.09,307.23 L560.86,306.95 L561.63,306.76 L562.39,306.70 L563.16,306.79 L563.93,307.02 L564.70,307.38 L565.47,307.84 L566.24,308.36 L567.01,308.91 L567.78,309.47 L568.55,310.00 L569.32,310.55 L570.09,311.18 L570.86,311.86 L571.63,312.57 L572.40,313.30 L573.16,314.03 L573.93,314.73 L574.70,315.40 L575.47,316.05 L576.24,316.71 L577.01,317.36 L577.78,318.01 L578.55,318.63 L579.32,319.23 L580.09,319.79 L580.86,320.30 L581.63,320.81 L582.40,321.34 L583.16,321.88 L583.93,322.38 L584.70,322.83 L585.47,323.18 L586.24,323.42 L587.01,323.50 L587.78,323.45 L588.55,323.32 L589.32,323.13 L590.09,322.90 L590.86,322.64 L591.63,322.37 L592.40,322.12 L593.16,321.90 L593.93,321.69 L594.70,321.46 L595.47,321.23 L596.24,321.00 L597.01,320.78 L597.78,320.58 L598.55,320.42 L599.32,320.30 L600.09,320.21 L600.86,320.11 L601.63,320.03 L602.40,319.95 L603.17,319.89 L603.93,319.84 L604.70,319.81 L605.47,319.80 L606.24,319.92 L607.01,320.25 L607.78,320.76 L608.55,321.39 L609.32,322.12 L610.09,322.89 L610.86,323.66 L611.63,324.40 L612.40,325.15 L613.17,325.99 L613.93,326.89 L614.70,327.84 L615.47,328.81 L616.24,329.79 L617.01,330.76 L617.78,331.70 L618.55,332.61 L619.32,333.53 L620.09,334.43 L620.86,335.35 L621.63,336.26 L622.40,337.19 L623.17,338.14 L623.93,339.10 L624.70,340.11 L625.47,341.19 L626.24,342.29 L627.01,343.41 L627.78,344.49 L628.55,345.52 L629.32,346.47 L630.09,347.30 L630.86,348.05 L631.63,348.78 L632.40,349.47 L633.17,350.11 L633.94,350.72 L634.70,351.27 L635.47,351.76 L636.24,352.20 L637.01,352.58 L637.78,352.93 L638.55,353.26 L639.32,353.55 L640.09,353.83 L640.86,354.10 L641.63,354.35 L642.40,354.60 L643.17,354.83 L643.94,355.03 L644.70,355.21 L645.47,355.38 L646.24,355.57 L647.01,355.77 L647.78,356.01 L648.55,356.30 L649.32,356.67 L650.09,357.15 L650.86,357.70 L651.63,358.33 L652.40,359.01 L653.17,359.73 L653.94,360.46 L654.70,361.20 L655.47,361.97 L656.24,362.80 L657.01,363.69 L657.78,364.62 L658.55,365.57 L659.32,366.55 L660.09,367.53 L660.86,368.50 L661.63,369.47 L662.40,370.45 L663.17,371.44 L663.94,372.45 L664.71,373.48 L665.47,374.53 L666.24,375.60 L667.01,376.70 L667.78,377.85 L668.55,379.05 L669.32,380.28 L670.09,381.54 L670.86,382.81 L671.63,384.07 L672.40,385.30 L673.17,386.50 L673.94,387.67 L674.71,388.82 L675.47,389.97 L676.24,391.10 L677.01,392.22 L677.78,393.33 L678.55,394.42 L679.32,395.50 L680.09,396.56 L680.86,397.59 L681.63,398.61 L682.40,399.62 L683.17,400.62 L683.94,401.63 L684.71,402.66 L685.48,403.70 L686.24,404.76 L687.01,405.84 L687.78,406.93 L688.55,408.03 L689.32,409.13 L690.09,410.23 L690.86,411.32 L691.63,412.40 L692.40,413.49 L693.17,414.61 L693.94,415.73 L694.71,416.84 L695.48,417.93 L696.24,418.98 L697.01,419.98 L697.78,420.90 L698.55,421.75 L699.32,422.55 L700.09,423.30 L700.86,424.00" fill="none" stroke="#5a5a5a" stroke-width="1.3" stroke-linejoin="round"/><path d="M146.23,422.65h7.7v7.7h-7.7zM152.38,422.65h7.7v7.7h-7.7zM158.53,422.65h7.7v7.7h-7.7zM164.69,422.65h7.7v7.7h-7.7zM170.84,422.65h7.7v7.7h-7.7zM177.00,422.65h7.7v7.7h-7.7zM183.15,422.65h7.7v7.7h-7.7zM189.31,422.65h7.7v7.7h-7.7zM195.46,422.65h7.7v7.7h-7.7zM201.61,422.65h7.7v7.7h-7.7zM207.77,422.65h7.7v7.7h-7.7zM213.92,422.65h7.7v7.7h-7.7zM220.08,422.65h7.7v7.7h-7.7zM226.23,422.65h7.7v7.7h-7.7zM232.38,422.65h7.7v7.7h-7.7zM238.54,422.65h7.7v7.7h-7.7zM244.69,422.65h7.7v7.7h-7.7zM250.84,422.65h7.7v7.7h-7.7zM257.00,422.65h7.7v7.7h-7.7zM263.15,422.65h7.7v7.7h-7.7zM269.31,422.65h7.7v7.7h-7.7zM275.46,422.65h7.7v7.7h-7.7zM281.62,422.65h7.7v7.7h-7.7zM287.77,422.65h7.7v7.7h-7.7zM293.92,422.65h7.7v7.7h-7.7zM300.08,422.65h7.7v7.7h-7.7zM306.23,422.65h7.7v7.7h-7.7zM312.38,422.65h7.7v7.7h-7.7zM318.54,422.65h7.7v7.7h-7.7zM324.69,422.65h7.7v7.7h-7.7zM330.85,422.65h7.7v7.7h-7.7zM337.00,422.65h7.7v7.7h-7.7zM343.15,422.65h7.7v7.7h-7.7zM349.31,422.65h7.7v7.7h-7.7zM355.46,422.65h7.7v7.7h-7.7zM361.62,422.65h7.7v7.7h-7.7zM367.77,422.65h7.7v7.7h-7.7zM373.92,422.65h7.7v7.7h-7.7zM380.08,422.65h7.7v7.7h-7.7zM386.23,422.65h7.7v7.7h-7.7zM392.39,422.65h7.7v7.7h-7.7zM398.54,422.65h7.7v7.7h-7.7zM404.69,422.65h7.7v7.7h-7.7zM410.85,422.65h7.7v7.7h-7.7zM417.00,422.65h7.7v7.7h-7.7zM423.16,422.95h7.7v7.7h-7.7zM429.31,418.05h7.7v7.7h-7.7zM435.46,411.45h7.7v7.7h-7.7zM441.62,405.75h7.7v7.7h-7.7zM447.77,400.05h7.7v7.7h-7.7zM453.93,392.65h7.7v7.7h-7.7zM460.08,385.35h7.7v7.7h-7.7zM466.23,377.15h7.7v7.7h-7.7zM472.39,369.75h7.7v7.7h-7.7zM478.54,362.45h7.7v7.7h-7.7zM484.70,357.45h7.7v7.7h-7.7zM490.85,351.75h7.7v7.7h-7.7zM497.00,345.25h7.7v7.7h-7.7zM503.16,338.65h7.7v7.7h-7.7zM509.31,331.35h7.7v7.7h-7.7zM515.47,327.25h7.7v7.7h-7.7zM521.62,324.75h7.7v7.7h-7.7zM527.77,323.95h7.7v7.7h-7.7zM533.93,321.55h7.7v7.7h-7.7zM540.08,317.45h7.7v7.7h-7.7zM546.24,311.65h7.7v7.7h-7.7zM552.39,305.55h7.7v7.7h-7.7zM558.54,302.85h7.7v7.7h-7.7zM564.70,306.15h7.7v7.7h-7.7zM570.85,311.55h7.7v7.7h-7.7zM577.01,316.45h7.7v7.7h-7.7zM583.16,319.65h7.7v7.7h-7.7zM589.31,318.05h7.7v7.7h-7.7zM595.47,316.45h7.7v7.7h-7.7zM601.62,315.95h7.7v7.7h-7.7zM607.78,320.55h7.7v7.7h-7.7zM613.93,327.85h7.7v7.7h-7.7zM620.08,335.25h7.7v7.7h-7.7zM626.24,343.45h7.7v7.7h-7.7zM632.39,348.35h7.7v7.7h-7.7zM638.55,350.75h7.7v7.7h-7.7zM644.70,352.45h7.7v7.7h-7.7zM650.85,357.35h7.7v7.7h-7.7zM657.01,364.65h7.7v7.7h-7.7zM663.16,372.85h7.7v7.7h-7.7zM669.32,382.65h7.7v7.7h-7.7zM675.47,391.65h7.7v7.7h-7.7zM681.62,399.85h7.7v7.7h-7.7zM687.78,408.55h7.7v7.7h-7.7zM693.93,417.05h7.7v7.7h-7.7z" fill="none" stroke="#4d4d4d" stroke-width="1.25"/><path d="M131.9,244.6H717.2V443.7" fill="none" stroke="#808080" stroke-width="2"/><path d="M131.9,243.6V444.7" fill="none" stroke="#808080" stroke-width="2"/><path d="M147.00,443.7v5.5M177.77,443.7v3.0M208.54,443.7v5.5M239.31,443.7v3.0M270.08,443.7v5.5M300.85,443.7v3.0M331.62,443.7v5.5M362.39,443.7v3.0M393.16,443.7v5.5M423.93,443.7v3.0M454.70,443.7v5.5M485.47,443.7v3.0M516.24,443.7v5.5M547.01,443.7v3.0M577.78,443.7v5.5M608.55,443.7v3.0M639.32,443.7v5.5M670.09,443.7v3.0M700.86,443.7v5.5M131.90,443.71h-2.9M131.90,427.10h-6M131.90,410.49h-2.9M131.90,393.88h-6M131.90,377.27h-2.9M131.90,360.66h-6M131.90,344.05h-2.9M131.90,327.44h-6M131.90,310.83h-2.9M131.90,294.22h-6M131.90,277.61h-2.9M131.90,261.00h-6" fill="none" stroke="#6a6a6a" stroke-width="1.6"/><text x="121.8" y="429.8" font-size="15.6" text-anchor="end" fill="#2e2e2e" stroke="#2e2e2e" stroke-width="0.6">0.0</text><text x="123.0" y="399.6" font-size="15.6" text-anchor="end" fill="#2e2e2e" stroke="#2e2e2e" stroke-width="0.6">2.0 <tspan dx="1">x</tspan> 10<tspan font-size="8.8" dy="-10.1" fill="#5a5a5a" stroke="#5a5a5a" stroke-width="0.3">-4</tspan></text><text x="123.0" y="366.4" font-size="15.6" text-anchor="end" fill="#2e2e2e" stroke="#2e2e2e" stroke-width="0.6">4.0 <tspan dx="1">x</tspan> 10<tspan font-size="8.8" dy="-10.1" fill="#5a5a5a" stroke="#5a5a5a" stroke-width="0.3">-4</tspan></text><text x="123.0" y="333.1" font-size="15.6" text-anchor="end" fill="#2e2e2e" stroke="#2e2e2e" stroke-width="0.6">6.0 <tspan dx="1">x</tspan> 10<tspan font-size="8.8" dy="-10.1" fill="#5a5a5a" stroke="#5a5a5a" stroke-width="0.3">-4</tspan></text><text x="123.0" y="299.9" font-size="15.6" text-anchor="end" fill="#2e2e2e" stroke="#2e2e2e" stroke-width="0.6">8.0 <tspan dx="1">x</tspan> 10<tspan font-size="8.8" dy="-10.1" fill="#5a5a5a" stroke="#5a5a5a" stroke-width="0.3">-4</tspan></text><text x="123.0" y="266.7" font-size="15.6" text-anchor="end" fill="#2e2e2e" stroke="#2e2e2e" stroke-width="0.6">1.0 <tspan dx="1">x</tspan> 10<tspan font-size="8.8" dy="-10.1" fill="#5a5a5a" stroke="#5a5a5a" stroke-width="0.3">-3</tspan></text></g>
<g><path d="M820.38,429.50 L821.15,429.50 L821.92,429.50 L822.68,429.50 L823.45,429.50 L824.22,429.50 L824.99,429.50 L825.76,429.50 L826.53,429.50 L827.30,429.50 L828.07,429.50 L828.84,429.50 L829.61,429.50 L830.38,429.50 L831.15,429.50 L831.92,429.50 L832.68,429.50 L833.45,429.50 L834.22,429.50 L834.99,429.50 L835.76,429.50 L836.53,429.50 L837.30,429.50 L838.07,429.50 L838.84,429.50 L839.61,429.50 L840.38,429.50 L841.15,429.50 L841.92,429.50 L842.69,429.50 L843.45,429.50 L844.22,429.50 L844.99,429.50 L845.76,429.50 L846.53,429.50 L847.30,429.50 L848.07,429.50 L848.84,429.50 L849.61,429.50 L850.38,429.50 L851.15,429.50 L851.92,429.50 L852.69,429.50 L853.45,429.50 L854.22,429.50 L854.99,429.50 L855.76,429.50 L856.53,429.50 L857.30,429.50 L858.07,429.50 L858.84,429.50 L859.61,429.50 L860.38,429.50 L861.15,429.50 L861.92,429.50 L862.69,429.50 L863.45,429.50 L864.22,429.50 L864.99,429.50 L865.76,429.50 L866.53,429.50 L867.30,429.50 L868.07,429.50 L868.84,429.50 L869.61,429.50 L870.38,429.50 L871.15,429.50 L871.92,429.50 L872.69,429.50 L873.46,429.50 L874.22,429.50 L874.99,429.50 L875.76,429.50 L876.53,429.50 L877.30,429.50 L878.07,429.50 L878.84,429.50 L879.61,429.50 L880.38,429.50 L881.15,429.50 L881.92,429.50 L882.69,429.50 L883.46,429.50 L884.22,429.50 L884.99,429.50 L885.76,429.50 L886.53,429.50 L887.30,429.50 L888.07,429.50 L888.84,429.50 L889.61,429.50 L890.38,429.50 L891.15,429.50 L891.92,429.50 L892.69,429.50 L893.46,429.50 L894.22,429.50 L894.99,429.50 L895.76,429.50 L896.53,429.50 L897.30,429.50 L898.07,429.50 L898.84,429.50 L899.61,429.50 L900.38,429.50 L901.15,429.50 L901.92,429.50 L902.69,429.50 L903.46,429.50 L904.23,429.50 L904.99,429.50 L905.76,429.50 L906.53,429.50 L907.30,429.50 L908.07,429.50 L908.84,429.50 L909.61,429.50 L910.38,429.50 L911.15,429.50 L911.92,429.50 L912.69,429.50 L913.46,429.50 L914.23,429.50 L914.99,429.50 L915.76,429.50 L916.53,429.50 L917.30,429.50 L918.07,429.50 L918.84,429.50 L919.61,429.50 L920.38,429.50 L921.15,429.50 L921.92,429.50 L922.69,429.50 L923.46,429.50 L924.23,429.50 L924.99,429.50 L925.76,429.50 L926.53,429.50 L927.30,429.50 L928.07,429.50 L928.84,429.50 L929.61,429.50 L930.38,429.50 L931.15,429.50 L931.92,429.50 L932.69,429.50 L933.46,429.50 L934.23,429.50 L935.00,429.50 L935.76,429.50 L936.53,429.50 L937.30,429.50 L938.07,429.50 L938.84,429.50 L939.61,429.50 L940.38,429.50 L941.15,429.50 L941.92,429.50 L942.69,429.50 L943.46,429.50 L944.23,429.50 L945.00,429.50 L945.76,429.50 L946.53,429.50 L947.30,429.50 L948.07,429.50 L948.84,429.50 L949.61,429.50 L950.38,429.50 L951.15,429.50 L951.92,429.50 L952.69,429.50 L953.46,429.50 L954.23,429.50 L955.00,429.50 L955.76,429.50 L956.53,429.50 L957.30,429.50 L958.07,429.50 L958.84,429.50 L959.61,429.50 L960.38,429.50 L961.15,429.50 L961.92,429.50 L962.69,429.50 L963.46,429.50 L964.23,429.50 L965.00,429.50 L965.77,429.50 L966.53,429.50 L967.30,429.50 L968.07,429.50 L968.84,429.50 L969.61,429.50 L970.38,429.50 L971.15,429.50 L971.92,429.50 L972.69,429.50 L973.46,429.50 L974.23,429.50 L975.00,429.50 L975.77,429.50 L976.53,429.50 L977.30,429.50 L978.07,429.50 L978.84,429.50 L979.61,429.50 L980.38,429.50 L981.15,429.50 L981.92,429.50 L982.69,429.50 L983.46,429.50 L984.23,429.50 L985.00,429.50 L985.77,429.50 L986.53,429.50 L987.30,429.50 L988.07,429.50 L988.84,429.50 L989.61,429.50 L990.38,429.50 L991.15,429.50 L991.92,429.50 L992.69,429.50 L993.46,429.50 L994.23,429.50 L995.00,429.50 L995.77,429.50 L996.54,429.50 L997.30,429.50 L998.07,429.50 L998.84,429.50 L999.61,429.50 L1000.38,429.50 L1001.15,429.50 L1001.92,429.50 L1002.69,429.50 L1003.46,429.50 L1004.23,429.50 L1005.00,429.50 L1005.77,429.50 L1006.54,429.50 L1007.30,429.50 L1008.07,429.50 L1008.84,429.50 L1009.61,429.50 L1010.38,429.50 L1011.15,429.50 L1011.92,429.50 L1012.69,429.50 L1013.46,429.50 L1014.23,429.50 L1015.00,429.50 L1015.77,429.50 L1016.54,429.50 L1017.30,429.50 L1018.07,429.50 L1018.84,429.50 L1019.61,429.50 L1020.38,429.50 L1021.15,429.50 L1021.92,429.50 L1022.69,429.50 L1023.46,429.50 L1024.23,429.50 L1025.00,429.50 L1025.77,429.50 L1026.54,429.50 L1027.31,429.50 L1028.07,429.50 L1028.84,429.50 L1029.61,429.50 L1030.38,429.50 L1031.15,429.50 L1031.92,429.50 L1032.69,429.50 L1033.46,429.50 L1034.23,429.50 L1035.00,429.50 L1035.77,429.50 L1036.54,429.50 L1037.31,429.50 L1038.07,429.50 L1038.84,429.50 L1039.61,429.50 L1040.38,429.50 L1041.15,429.50 L1041.92,429.50 L1042.69,429.50 L1043.46,429.50 L1044.23,429.50 L1045.00,429.50 L1045.77,429.50 L1046.54,429.50 L1047.31,429.50 L1048.08,429.50 L1048.84,429.50 L1049.61,429.50 L1050.38,429.50 L1051.15,429.50 L1051.92,429.50 L1052.69,429.50 L1053.46,429.50 L1054.23,429.50 L1055.00,429.50 L1055.77,429.50 L1056.54,429.50 L1057.31,429.50 L1058.08,429.50 L1058.84,429.50 L1059.61,429.50 L1060.38,429.50 L1061.15,429.50 L1061.92,429.50 L1062.69,429.50 L1063.46,429.50 L1064.23,429.50 L1065.00,429.50 L1065.77,429.50 L1066.54,429.50 L1067.31,429.50 L1068.08,429.50 L1068.84,429.50 L1069.61,429.50 L1070.38,429.50 L1071.15,429.50 L1071.92,429.50 L1072.69,429.50 L1073.46,429.50 L1074.23,429.50 L1075.00,429.50 L1075.77,429.50 L1076.54,429.50 L1077.31,429.50 L1078.08,429.50 L1078.85,429.50 L1079.61,429.50 L1080.38,429.50 L1081.15,429.50 L1081.92,429.50 L1082.69,429.50 L1083.46,429.50 L1084.23,429.50 L1085.00,429.50 L1085.77,429.50 L1086.54,429.50 L1087.31,429.50 L1088.08,429.50 L1088.85,429.50 L1089.61,429.50 L1090.38,429.50 L1091.15,429.50 L1091.92,429.54 L1092.69,429.66 L1093.46,429.82 L1094.23,430.00 L1095.00,430.18 L1095.77,430.34 L1096.54,430.46 L1097.31,430.50 L1098.08,430.40 L1098.85,430.12 L1099.61,429.70 L1100.38,429.18 L1101.15,428.61 L1101.92,428.01 L1102.69,427.43 L1103.46,426.90 L1104.23,426.41 L1105.00,425.91 L1105.77,425.40 L1106.54,424.88 L1107.31,424.34 L1108.08,423.80 L1108.85,423.26 L1109.62,422.70 L1110.38,422.13 L1111.15,421.54 L1111.92,420.95 L1112.69,420.34 L1113.46,419.73 L1114.23,419.11 L1115.00,418.50 L1115.77,417.90 L1116.54,417.30 L1117.31,416.71 L1118.08,416.12 L1118.85,415.54 L1119.62,414.94 L1120.38,414.34 L1121.15,413.73 L1121.92,413.10 L1122.69,412.46 L1123.46,411.79 L1124.23,411.12 L1125.00,410.44 L1125.77,409.75 L1126.54,409.06 L1127.31,408.38 L1128.08,407.70 L1128.85,407.02 L1129.62,406.35 L1130.38,405.68 L1131.15,405.00 L1131.92,404.33 L1132.69,403.65 L1133.46,402.97 L1134.23,402.30 L1135.00,401.63 L1135.77,400.96 L1136.54,400.30 L1137.31,399.64 L1138.08,398.97 L1138.85,398.29 L1139.62,397.60 L1140.38,396.90 L1141.15,396.18 L1141.92,395.43 L1142.69,394.67 L1143.46,393.90 L1144.23,393.13 L1145.00,392.37 L1145.77,391.62 L1146.54,390.90 L1147.31,390.19 L1148.08,389.50 L1148.85,388.81 L1149.62,388.12 L1150.39,387.45 L1151.15,386.79 L1151.92,386.14 L1152.69,385.50 L1153.46,384.87 L1154.23,384.26 L1155.00,383.66 L1155.77,383.06 L1156.54,382.48 L1157.31,381.89 L1158.08,381.30 L1158.85,380.70 L1159.62,380.10 L1160.39,379.50 L1161.15,378.90 L1161.92,378.30 L1162.69,377.70 L1163.46,377.10 L1164.23,376.50 L1165.00,375.90 L1165.77,375.30 L1166.54,374.71 L1167.31,374.12 L1168.08,373.54 L1168.85,372.94 L1169.62,372.34 L1170.39,371.73 L1171.15,371.10 L1171.92,370.45 L1172.69,369.76 L1173.46,369.06 L1174.23,368.36 L1175.00,367.65 L1175.77,366.97 L1176.54,366.31 L1177.31,365.70 L1178.08,365.12 L1178.85,364.56 L1179.62,364.02 L1180.39,363.49 L1181.16,362.98 L1181.92,362.48 L1182.69,361.99 L1183.46,361.50 L1184.23,361.02 L1185.00,360.55 L1185.77,360.08 L1186.54,359.62 L1187.31,359.18 L1188.08,358.74 L1188.85,358.31 L1189.62,357.90 L1190.39,357.48 L1191.16,357.05 L1191.92,356.62 L1192.69,356.21 L1193.46,355.81 L1194.23,355.46 L1195.00,355.15 L1195.77,354.90 L1196.54,354.71 L1197.31,354.55 L1198.08,354.41 L1198.85,354.29 L1199.62,354.16 L1200.39,354.03 L1201.16,353.88 L1201.92,353.70 L1202.69,353.48 L1203.46,353.21 L1204.23,352.92 L1205.00,352.60 L1205.77,352.27 L1206.54,351.94 L1207.31,351.61 L1208.08,351.30 L1208.85,350.99 L1209.62,350.67 L1210.39,350.34 L1211.16,350.02 L1211.93,349.71 L1212.69,349.41 L1213.46,349.14 L1214.23,348.90 L1215.00,348.69 L1215.77,348.52 L1216.54,348.35 L1217.31,348.20 L1218.08,348.05 L1218.85,347.88 L1219.62,347.71 L1220.39,347.50 L1221.16,347.25 L1221.93,346.95 L1222.69,346.62 L1223.46,346.28 L1224.23,345.94 L1225.00,345.62 L1225.77,345.33 L1226.54,345.10 L1227.31,344.90 L1228.08,344.69 L1228.85,344.49 L1229.62,344.30 L1230.39,344.14 L1231.16,344.01 L1231.93,343.93 L1232.69,343.90 L1233.46,343.91 L1234.23,343.94 L1235.00,343.99 L1235.77,344.05 L1236.54,344.13 L1237.31,344.21 L1238.08,344.30 L1238.85,344.40 L1239.62,344.54 L1240.39,344.74 L1241.16,344.98 L1241.93,345.26 L1242.70,345.54 L1243.46,345.82 L1244.23,346.08 L1245.00,346.30 L1245.77,346.48 L1246.54,346.65 L1247.31,346.82 L1248.08,346.97 L1248.85,347.12 L1249.62,347.27 L1250.39,347.43 L1251.16,347.60 L1251.93,347.78 L1252.70,347.98 L1253.46,348.18 L1254.23,348.38 L1255.00,348.58 L1255.77,348.77 L1256.54,348.95 L1257.31,349.10 L1258.08,349.23 L1258.85,349.34 L1259.62,349.44 L1260.39,349.54 L1261.16,349.64 L1261.93,349.74 L1262.70,349.86 L1263.46,350.00 L1264.23,350.17 L1265.00,350.38 L1265.77,350.62 L1266.54,350.87 L1267.31,351.13 L1268.08,351.37 L1268.85,351.60 L1269.62,351.80 L1270.39,351.97 L1271.16,352.11 L1271.93,352.24 L1272.70,352.37 L1273.47,352.50 L1274.23,352.64 L1275.00,352.80 L1275.77,353.00 L1276.54,353.24 L1277.31,353.54 L1278.08,353.88 L1278.85,354.26 L1279.62,354.66 L1280.39,355.10 L1281.16,355.54 L1281.93,356.00 L1282.70,356.49 L1283.47,357.04 L1284.23,357.64 L1285.00,358.26 L1285.77,358.89 L1286.54,359.52 L1287.31,360.13 L1288.08,360.70 L1288.85,361.24 L1289.62,361.76 L1290.39,362.27 L1291.16,362.78 L1291.93,363.28 L1292.70,363.78 L1293.47,364.29 L1294.23,364.80 L1295.00,365.32 L1295.77,365.86 L1296.54,366.40 L1297.31,366.93 L1298.08,367.47 L1298.85,367.99 L1299.62,368.51 L1300.39,369.00 L1301.16,369.48 L1301.93,369.94 L1302.70,370.39 L1303.47,370.83 L1304.24,371.27 L1305.00,371.71 L1305.77,372.15 L1306.54,372.60 L1307.31,373.05 L1308.08,373.49 L1308.85,373.93 L1309.62,374.37 L1310.39,374.81 L1311.16,375.26 L1311.93,375.72 L1312.70,376.20 L1313.47,376.69 L1314.24,377.19 L1315.00,377.70 L1315.77,378.22 L1316.54,378.76 L1317.31,379.30 L1318.08,379.84 L1318.85,380.40 L1319.62,380.97 L1320.39,381.56 L1321.16,382.15 L1321.93,382.76 L1322.70,383.37 L1323.47,383.99 L1324.24,384.60 L1325.00,385.20 L1325.77,385.79 L1326.54,386.37 L1327.31,386.95 L1328.08,387.53 L1328.85,388.12 L1329.62,388.73 L1330.39,389.35 L1331.16,390.00 L1331.93,390.69 L1332.70,391.41 L1333.47,392.15 L1334.24,392.92 L1335.01,393.69 L1335.77,394.47 L1336.54,395.24 L1337.31,396.00 L1338.08,396.75 L1338.85,397.51 L1339.62,398.28 L1340.39,399.04 L1341.16,399.80 L1341.93,400.54 L1342.70,401.28 L1343.47,402.00 L1344.24,402.70 L1345.01,403.38 L1345.77,404.04 L1346.54,404.70 L1347.31,405.36 L1348.08,406.02 L1348.85,406.70 L1349.62,407.40 L1350.39,408.12 L1351.16,408.86 L1351.93,409.60 L1352.70,410.36 L1353.47,411.12 L1354.24,411.89 L1355.01,412.65 L1355.78,413.40 L1356.54,414.15 L1357.31,414.89 L1358.08,415.62 L1358.85,416.36 L1359.62,417.11 L1360.39,417.86 L1361.16,418.62 L1361.93,419.40 L1362.70,420.20 L1363.47,421.02 L1364.24,421.86 L1365.01,422.70 L1365.78,423.55 L1366.54,424.38 L1367.31,425.20 L1368.08,426.00 L1368.85,426.77 L1369.62,427.53 L1370.39,428.27 L1371.16,429.00" fill="none" stroke="#5a5a5a" stroke-width="1.3" stroke-linejoin="round"/><path d="M816.53,425.65h7.7v7.7h-7.7zM822.68,425.65h7.7v7.7h-7.7zM828.83,425.65h7.7v7.7h-7.7zM834.99,425.65h7.7v7.7h-7.7zM841.14,425.65h7.7v7.7h-7.7zM847.30,425.65h7.7v7.7h-7.7zM853.45,425.65h7.7v7.7h-7.7zM859.60,425.65h7.7v7.7h-7.7zM865.76,425.65h7.7v7.7h-7.7zM871.91,425.65h7.7v7.7h-7.7zM878.07,425.65h7.7v7.7h-7.7zM884.22,425.65h7.7v7.7h-7.7zM890.37,425.65h7.7v7.7h-7.7zM896.53,425.65h7.7v7.7h-7.7zM902.68,425.65h7.7v7.7h-7.7zM908.84,425.65h7.7v7.7h-7.7zM914.99,425.65h7.7v7.7h-7.7zM921.14,425.65h7.7v7.7h-7.7zM927.30,425.65h7.7v7.7h-7.7zM933.45,425.65h7.7v7.7h-7.7zM939.61,425.65h7.7v7.7h-7.7zM945.76,425.65h7.7v7.7h-7.7zM951.91,425.65h7.7v7.7h-7.7zM958.07,425.65h7.7v7.7h-7.7zM964.22,425.65h7.7v7.7h-7.7zM970.38,425.65h7.7v7.7h-7.7zM976.53,425.65h7.7v7.7h-7.7zM982.68,425.65h7.7v7.7h-7.7zM988.84,425.65h7.7v7.7h-7.7zM994.99,425.65h7.7v7.7h-7.7zM1001.15,425.65h7.7v7.7h-7.7zM1007.30,425.65h7.7v7.7h-7.7zM1013.45,425.65h7.7v7.7h-7.7zM1019.61,425.65h7.7v7.7h-7.7zM1025.76,425.65h7.7v7.7h-7.7zM1031.92,425.65h7.7v7.7h-7.7zM1038.07,425.65h7.7v7.7h-7.7zM1044.23,425.65h7.7v7.7h-7.7zM1050.38,425.65h7.7v7.7h-7.7zM1056.53,425.65h7.7v7.7h-7.7zM1062.69,425.65h7.7v7.7h-7.7zM1068.84,425.65h7.7v7.7h-7.7zM1075.00,425.65h7.7v7.7h-7.7zM1081.15,425.65h7.7v7.7h-7.7zM1087.30,425.65h7.7v7.7h-7.7zM1093.46,426.65h7.7v7.7h-7.7zM1099.61,423.05h7.7v7.7h-7.7zM1105.77,418.85h7.7v7.7h-7.7zM1111.92,414.05h7.7v7.7h-7.7zM1118.07,409.25h7.7v7.7h-7.7zM1124.23,403.85h7.7v7.7h-7.7zM1130.38,398.45h7.7v7.7h-7.7zM1136.54,393.05h7.7v7.7h-7.7zM1142.69,387.05h7.7v7.7h-7.7zM1148.84,381.65h7.7v7.7h-7.7zM1155.00,376.85h7.7v7.7h-7.7zM1161.15,372.05h7.7v7.7h-7.7zM1167.31,367.25h7.7v7.7h-7.7zM1173.46,361.85h7.7v7.7h-7.7zM1179.61,357.65h7.7v7.7h-7.7zM1185.77,354.05h7.7v7.7h-7.7zM1191.92,351.05h7.7v7.7h-7.7zM1198.08,349.85h7.7v7.7h-7.7zM1204.23,347.45h7.7v7.7h-7.7zM1210.38,345.05h7.7v7.7h-7.7zM1216.54,343.65h7.7v7.7h-7.7zM1222.69,341.25h7.7v7.7h-7.7zM1228.85,340.05h7.7v7.7h-7.7zM1235.00,340.55h7.7v7.7h-7.7zM1241.15,342.45h7.7v7.7h-7.7zM1247.31,343.75h7.7v7.7h-7.7zM1253.46,345.25h7.7v7.7h-7.7zM1259.62,346.15h7.7v7.7h-7.7zM1265.77,347.95h7.7v7.7h-7.7zM1271.92,349.15h7.7v7.7h-7.7zM1278.08,352.15h7.7v7.7h-7.7zM1284.23,356.85h7.7v7.7h-7.7zM1290.38,360.95h7.7v7.7h-7.7zM1296.54,365.15h7.7v7.7h-7.7zM1302.69,368.75h7.7v7.7h-7.7zM1308.85,372.35h7.7v7.7h-7.7zM1315.00,376.55h7.7v7.7h-7.7zM1321.15,381.35h7.7v7.7h-7.7zM1327.31,386.15h7.7v7.7h-7.7zM1333.46,392.15h7.7v7.7h-7.7zM1339.62,398.15h7.7v7.7h-7.7zM1345.77,403.55h7.7v7.7h-7.7zM1351.93,409.55h7.7v7.7h-7.7zM1358.08,415.55h7.7v7.7h-7.7zM1364.23,422.15h7.7v7.7h-7.7z" fill="none" stroke="#4d4d4d" stroke-width="1.25"/><path d="M801.9,244.6H1387.0V443.7" fill="none" stroke="#808080" stroke-width="2"/><path d="M801.9,243.6V444.7" fill="none" stroke="#808080" stroke-width="2"/><path d="M817.30,443.7v5.5M848.07,443.7v3.0M878.84,443.7v5.5M909.61,443.7v3.0M940.38,443.7v5.5M971.15,443.7v3.0M1001.92,443.7v5.5M1032.69,443.7v3.0M1063.46,443.7v5.5M1094.23,443.7v3.0M1125.00,443.7v5.5M1155.77,443.7v3.0M1186.54,443.7v5.5M1217.31,443.7v3.0M1248.08,443.7v5.5M1278.85,443.7v3.0M1309.62,443.7v5.5M1340.39,443.7v3.0M1371.16,443.7v5.5M801.90,430.90h-6M801.90,417.59h-2.9M801.90,404.28h-6M801.90,390.97h-2.9M801.90,377.66h-6M801.90,364.35h-2.9M801.90,351.04h-6M801.90,337.73h-2.9M801.90,324.42h-6M801.90,311.11h-2.9M801.90,297.80h-6M801.90,284.49h-2.9M801.90,271.18h-6M801.90,257.87h-2.9" fill="none" stroke="#6a6a6a" stroke-width="1.6"/><text x="791.4" y="433.6" font-size="15.6" text-anchor="end" fill="#2e2e2e" stroke="#2e2e2e" stroke-width="0.6">0.0</text><text x="792.6" y="410.0" font-size="15.6" text-anchor="end" fill="#2e2e2e" stroke="#2e2e2e" stroke-width="0.6">2.0 <tspan dx="1">x</tspan> 10<tspan font-size="8.8" dy="-10.1" fill="#5a5a5a" stroke="#5a5a5a" stroke-width="0.3">-4</tspan></text><text x="792.6" y="383.4" font-size="15.6" text-anchor="end" fill="#2e2e2e" stroke="#2e2e2e" stroke-width="0.6">4.0 <tspan dx="1">x</tspan> 10<tspan font-size="8.8" dy="-10.1" fill="#5a5a5a" stroke="#5a5a5a" stroke-width="0.3">-4</tspan></text><text x="792.6" y="356.7" font-size="15.6" text-anchor="end" fill="#2e2e2e" stroke="#2e2e2e" stroke-width="0.6">6.0 <tspan dx="1">x</tspan> 10<tspan font-size="8.8" dy="-10.1" fill="#5a5a5a" stroke="#5a5a5a" stroke-width="0.3">-4</tspan></text><text x="792.6" y="330.1" font-size="15.6" text-anchor="end" fill="#2e2e2e" stroke="#2e2e2e" stroke-width="0.6">8.0 <tspan dx="1">x</tspan> 10<tspan font-size="8.8" dy="-10.1" fill="#5a5a5a" stroke="#5a5a5a" stroke-width="0.3">-4</tspan></text><text x="792.6" y="303.5" font-size="15.6" text-anchor="end" fill="#2e2e2e" stroke="#2e2e2e" stroke-width="0.6">1.0 <tspan dx="1">x</tspan> 10<tspan font-size="8.8" dy="-10.1" fill="#5a5a5a" stroke="#5a5a5a" stroke-width="0.3">-3</tspan></text><text x="792.6" y="276.9" font-size="15.6" text-anchor="end" fill="#2e2e2e" stroke="#2e2e2e" stroke-width="0.6">1.2 <tspan dx="1">x</tspan> 10<tspan font-size="8.8" dy="-10.1" fill="#5a5a5a" stroke="#5a5a5a" stroke-width="0.3">-3</tspan></text><text x="792.6" y="250.3" font-size="15.6" text-anchor="end" fill="#2e2e2e" stroke="#2e2e2e" stroke-width="0.6">1.4 <tspan dx="1">x</tspan> 10<tspan font-size="8.8" dy="-10.1" fill="#5a5a5a" stroke="#5a5a5a" stroke-width="0.3">-3</tspan></text></g>
<g><path d="M150.08,640.00 L150.85,631.03 L151.62,622.75 L152.38,614.85 L153.15,608.00 L153.92,602.26 L154.69,597.09 L155.46,592.48 L156.23,588.40 L157.00,584.65 L157.77,581.06 L158.54,577.65 L159.31,574.46 L160.08,571.52 L160.85,568.86 L161.62,566.51 L162.38,564.50 L163.15,562.70 L163.92,560.98 L164.69,559.37 L165.46,557.90 L166.23,556.59 L167.00,555.49 L167.77,554.61 L168.54,554.00 L169.31,553.57 L170.08,553.22 L170.85,552.93 L171.62,552.68 L172.39,552.45 L173.15,552.22 L173.92,551.98 L174.69,551.70 L175.46,551.42 L176.23,551.16 L177.00,550.90 L177.77,550.64 L178.54,550.35 L179.31,550.03 L180.08,549.65 L180.85,549.20 L181.62,548.60 L182.39,547.80 L183.15,546.82 L183.92,545.70 L184.69,544.46 L185.46,543.13 L186.23,541.73 L187.00,540.30 L187.77,538.74 L188.54,536.97 L189.31,535.02 L190.08,532.94 L190.85,530.75 L191.62,528.51 L192.39,526.25 L193.16,524.00 L193.92,521.68 L194.69,519.22 L195.46,516.67 L196.23,514.08 L197.00,511.50 L197.77,508.99 L198.54,506.61 L199.31,504.40 L200.08,502.27 L200.85,500.11 L201.62,497.98 L202.39,495.94 L203.16,494.03 L203.92,492.32 L204.69,490.86 L205.46,489.70 L206.23,488.71 L207.00,487.75 L207.77,486.83 L208.54,486.01 L209.31,485.31 L210.08,484.77 L210.85,484.42 L211.62,484.30 L212.39,484.34 L213.16,484.46 L213.92,484.64 L214.69,484.88 L215.46,485.17 L216.23,485.49 L217.00,485.84 L217.77,486.20 L218.54,486.69 L219.31,487.37 L220.08,488.21 L220.85,489.15 L221.62,490.14 L222.39,491.13 L223.16,492.06 L223.93,492.90 L224.69,493.71 L225.46,494.58 L226.23,495.46 L227.00,496.31 L227.77,497.09 L228.54,497.76 L229.31,498.28 L230.08,498.60 L230.85,498.81 L231.62,499.00 L232.39,499.17 L233.16,499.31 L233.93,499.43 L234.69,499.52 L235.46,499.58 L236.23,499.60 L237.00,499.51 L237.77,499.25 L238.54,498.88 L239.31,498.44 L240.08,497.95 L240.85,497.48 L241.62,497.04 L242.39,496.70 L243.16,496.40 L243.93,496.08 L244.69,495.76 L245.46,495.46 L246.23,495.20 L247.00,494.99 L247.77,494.85 L248.54,494.80 L249.31,494.82 L250.08,494.88 L250.85,494.96 L251.62,495.08 L252.39,495.23 L253.16,495.40 L253.93,495.59 L254.69,495.80 L255.46,496.12 L256.23,496.64 L257.00,497.32 L257.77,498.14 L258.54,499.06 L259.31,500.04 L260.08,501.07 L260.85,502.10 L261.62,503.22 L262.39,504.52 L263.16,505.95 L263.93,507.48 L264.70,509.08 L265.46,510.70 L266.23,512.32 L267.00,513.90 L267.77,515.46 L268.54,517.05 L269.31,518.67 L270.08,520.30 L270.85,521.94 L271.62,523.59 L272.39,525.25 L273.16,526.90 L273.93,528.58 L274.70,530.32 L275.46,532.07 L276.23,533.83 L277.00,535.55 L277.77,537.22 L278.54,538.81 L279.31,540.30 L280.08,541.69 L280.85,543.02 L281.62,544.30 L282.39,545.54 L283.16,546.74 L283.93,547.91 L284.70,549.06 L285.47,550.20 L286.23,551.32 L287.00,552.41 L287.77,553.48 L288.54,554.52 L289.31,555.56 L290.08,556.58 L290.85,557.59 L291.62,558.60 L292.39,559.60 L293.16,560.60 L293.93,561.58 L294.70,562.56 L295.47,563.52 L296.23,564.49 L297.00,565.44 L297.77,566.40 L298.54,567.35 L299.31,568.30 L300.08,569.23 L300.85,570.17 L301.62,571.10 L302.39,572.03 L303.16,572.96 L303.93,573.90 L304.70,574.83 L305.47,575.76 L306.23,576.68 L307.00,577.61 L307.77,578.54 L308.54,579.48 L309.31,580.43 L310.08,581.40 L310.85,582.40 L311.62,583.42 L312.39,584.45 L313.16,585.50 L313.93,586.55 L314.70,587.58 L315.47,588.60 L316.24,589.60 L317.00,590.58 L317.77,591.55 L318.54,592.52 L319.31,593.47 L320.08,594.41 L320.85,595.33 L321.62,596.23 L322.39,597.10 L323.16,597.94 L323.93,598.77 L324.70,599.58 L325.47,600.36 L326.24,601.14 L327.00,601.90 L327.77,602.66 L328.54,603.40 L329.31,604.14 L330.08,604.88 L330.85,605.61 L331.62,606.33 L332.39,607.03 L333.16,607.71 L333.93,608.37 L334.70,609.00 L335.47,609.60 L336.24,610.17 L337.00,610.73 L337.77,611.27 L338.54,611.80 L339.31,612.32 L340.08,612.86 L340.85,613.40 L341.62,613.96 L342.39,614.52 L343.16,615.08 L343.93,615.65 L344.70,616.21 L345.47,616.75 L346.24,617.29 L347.00,617.80 L347.77,618.30 L348.54,618.78 L349.31,619.26 L350.08,619.72 L350.85,620.18 L351.62,620.63 L352.39,621.07 L353.16,621.50 L353.93,621.93 L354.70,622.35 L355.47,622.77 L356.24,623.18 L357.01,623.58 L357.77,623.97 L358.54,624.34 L359.31,624.70 L360.08,625.04 L360.85,625.37 L361.62,625.68 L362.39,625.99 L363.16,626.29 L363.93,626.59 L364.70,626.89 L365.47,627.20 L366.24,627.52 L367.01,627.84 L367.77,628.17 L368.54,628.49 L369.31,628.81 L370.08,629.12 L370.85,629.42 L371.62,629.70 L372.39,629.96 L373.16,630.21 L373.93,630.45 L374.70,630.69 L375.47,630.92 L376.24,631.14 L377.01,631.37 L377.77,631.60 L378.54,631.83 L379.31,632.07 L380.08,632.31 L380.85,632.54 L381.62,632.77 L382.39,632.99 L383.16,633.20 L383.93,633.40 L384.70,633.58 L385.47,633.75 L386.24,633.92 L387.01,634.08 L387.78,634.23 L388.54,634.38 L389.31,634.54 L390.08,634.70 L390.85,634.87 L391.62,635.04 L392.39,635.21 L393.16,635.39 L393.93,635.56 L394.70,635.72 L395.47,635.87 L396.24,636.00 L397.01,636.12 L397.78,636.23 L398.54,636.33 L399.31,636.42 L400.08,636.52 L400.85,636.61 L401.62,636.70 L402.39,636.80 L403.16,636.90 L403.93,637.00 L404.70,637.10 L405.47,637.19 L406.24,637.29 L407.01,637.39 L407.78,637.50 L408.55,637.60 L409.31,637.71 L410.08,637.84 L410.85,637.97 L411.62,638.10 L412.39,638.22 L413.16,638.34 L413.93,638.43 L414.70,638.50 L415.47,638.56 L416.24,638.61 L417.01,638.66 L417.78,638.71 L418.55,638.74 L419.31,638.77 L420.08,638.79 L420.85,638.80 L421.62,638.80 L422.39,638.79 L423.16,638.78 L423.93,638.77 L424.70,638.76 L425.47,638.74 L426.24,638.72 L427.01,638.70 L427.78,638.66 L428.55,638.59 L429.31,638.49 L430.08,638.37 L430.85,638.25 L431.62,638.12 L432.39,638.01 L433.16,637.90 L433.93,637.81 L434.70,637.71 L435.47,637.62 L436.24,637.53 L437.01,637.44 L437.78,637.35 L438.55,637.26 L439.31,637.17 L440.08,637.07 L440.85,636.98 L441.62,636.89 L442.39,636.79 L443.16,636.70 L443.93,636.60 L444.70,636.50 L445.47,636.40 L446.24,636.30 L447.01,636.19 L447.78,636.08 L448.55,635.97 L449.32,635.86 L450.08,635.75 L450.85,635.63 L451.62,635.52 L452.39,635.40 L453.16,635.28 L453.93,635.16 L454.70,635.05 L455.47,634.92 L456.24,634.80 L457.01,634.68 L457.78,634.55 L458.55,634.43 L459.32,634.30 L460.08,634.17 L460.85,634.04 L461.62,633.91 L462.39,633.78 L463.16,633.64 L463.93,633.50 L464.70,633.37 L465.47,633.23 L466.24,633.09 L467.01,632.95 L467.78,632.81 L468.55,632.66 L469.32,632.51 L470.08,632.36 L470.85,632.20 L471.62,632.04 L472.39,631.88 L473.16,631.71 L473.93,631.54 L474.70,631.37 L475.47,631.20 L476.24,631.02 L477.01,630.84 L477.78,630.66 L478.55,630.47 L479.32,630.28 L480.09,630.09 L480.85,629.89 L481.62,629.70 L482.39,629.52 L483.16,629.33 L483.93,629.15 L484.70,628.97 L485.47,628.78 L486.24,628.60 L487.01,628.42 L487.78,628.24 L488.55,628.06 L489.32,627.88 L490.09,627.70 L490.85,627.52 L491.62,627.34 L492.39,627.16 L493.16,626.99 L493.93,626.82 L494.70,626.65 L495.47,626.49 L496.24,626.33 L497.01,626.17 L497.78,626.01 L498.55,625.86 L499.32,625.72 L500.09,625.58 L500.86,625.44 L501.62,625.32 L502.39,625.20 L503.16,625.08 L503.93,624.97 L504.70,624.86 L505.47,624.75 L506.24,624.65 L507.01,624.54 L507.78,624.44 L508.55,624.33 L509.32,624.23 L510.09,624.13 L510.86,624.03 L511.62,623.93 L512.39,623.83 L513.16,623.74 L513.93,623.64 L514.70,623.55 L515.47,623.45 L516.24,623.36 L517.01,623.27 L517.78,623.18 L518.55,623.09 L519.32,623.01 L520.09,622.93 L520.86,622.85 L521.62,622.77 L522.39,622.69 L523.16,622.62 L523.93,622.54 L524.70,622.47 L525.47,622.40 L526.24,622.32 L527.01,622.25 L527.78,622.18 L528.55,622.10 L529.32,622.03 L530.09,621.96 L530.86,621.89 L531.62,621.82 L532.39,621.76 L533.16,621.69 L533.93,621.62 L534.70,621.55 L535.47,621.49 L536.24,621.42 L537.01,621.36 L537.78,621.30 L538.55,621.24 L539.32,621.18 L540.09,621.12 L540.86,621.06 L541.63,621.01 L542.39,620.96 L543.16,620.90 L543.93,620.86 L544.70,620.81 L545.47,620.76 L546.24,620.72 L547.01,620.68 L547.78,620.64 L548.55,620.60 L549.32,620.56 L550.09,620.53 L550.86,620.49 L551.63,620.45 L552.39,620.42 L553.16,620.38 L553.93,620.35 L554.70,620.32 L555.47,620.30 L556.24,620.28 L557.01,620.27 L557.78,620.26 L558.55,620.24 L559.32,620.23 L560.09,620.22 L560.86,620.21 L561.63,620.21 L562.39,620.21 L563.16,620.21 L563.93,620.22 L564.70,620.24 L565.47,620.26 L566.24,620.28 L567.01,620.31 L567.78,620.33 L568.55,620.35 L569.32,620.38 L570.09,620.40 L570.86,620.43 L571.63,620.45 L572.40,620.48 L573.16,620.51 L573.93,620.54 L574.70,620.57 L575.47,620.61 L576.24,620.64 L577.01,620.68 L577.78,620.72 L578.55,620.77 L579.32,620.81 L580.09,620.86 L580.86,620.90 L581.63,620.95 L582.40,621.00 L583.16,621.05 L583.93,621.10 L584.70,621.15 L585.47,621.20 L586.24,621.26 L587.01,621.31 L587.78,621.37 L588.55,621.42 L589.32,621.48 L590.09,621.53 L590.86,621.59 L591.63,621.65 L592.40,621.71 L593.16,621.78 L593.93,621.84 L594.70,621.91 L595.47,621.98 L596.24,622.05 L597.01,622.12 L597.78,622.19 L598.55,622.27 L599.32,622.35 L600.09,622.43 L600.86,622.51 L601.63,622.60 L602.40,622.69 L603.17,622.78 L603.93,622.87 L604.70,622.96 L605.47,623.05 L606.24,623.15 L607.01,623.24 L607.78,623.33 L608.55,623.42 L609.32,623.52 L610.09,623.61 L610.86,623.71 L611.63,623.81 L612.40,623.91 L613.17,624.01 L613.93,624.11 L614.70,624.22 L615.47,624.33 L616.24,624.43 L617.01,624.54 L617.78,624.64 L618.55,624.75 L619.32,624.85 L620.09,624.96 L620.86,625.07 L621.63,625.17 L622.40,625.28 L623.17,625.38 L623.93,625.48 L624.70,625.58 L625.47,625.68 L626.24,625.77 L627.01,625.87 L627.78,625.96 L628.55,626.06 L629.32,626.15 L630.09,626.25 L630.86,626.34 L631.63,626.43 L632.40,626.53 L633.17,626.62 L633.94,626.71 L634.70,626.80 L635.47,626.90 L636.24,626.99 L637.01,627.09 L637.78,627.19 L638.55,627.28 L639.32,627.38 L640.09,627.48 L640.86,627.58 L641.63,627.68 L642.40,627.78 L643.17,627.89 L643.94,628.00 L644.70,628.11 L645.47,628.22 L646.24,628.33 L647.01,628.45 L647.78,628.57 L648.55,628.69 L649.32,628.81 L650.09,628.94 L650.86,629.07 L651.63,629.20 L652.40,629.33 L653.17,629.47 L653.94,629.60 L654.70,629.74 L655.47,629.88 L656.24,630.02 L657.01,630.17 L657.78,630.31 L658.55,630.46 L659.32,630.61 L660.09,630.75 L660.86,630.90 L661.63,631.05 L662.40,631.20 L663.17,631.35 L663.94,631.50 L664.71,631.65 L665.47,631.80 L666.24,631.95 L667.01,632.10 L667.78,632.25 L668.55,632.40 L669.32,632.55 L670.09,632.70 L670.86,632.85 L671.63,633.00 L672.40,633.15 L673.17,633.30 L673.94,633.45 L674.71,633.60 L675.47,633.75 L676.24,633.90 L677.01,634.06 L677.78,634.21 L678.55,634.36 L679.32,634.52 L680.09,634.67 L680.86,634.83 L681.63,634.98 L682.40,635.14 L683.17,635.30 L683.94,635.45 L684.71,635.61 L685.48,635.77 L686.24,635.93 L687.01,636.09 L687.78,636.24 L688.55,636.40 L689.32,636.56 L690.09,636.72 L690.86,636.88 L691.63,637.05 L692.40,637.21 L693.17,637.38 L693.94,637.54 L694.71,637.71 L695.48,637.88 L696.24,638.04 L697.01,638.21 L697.78,638.37 L698.55,638.53 L699.32,638.69 L700.09,638.84 L700.86,639.00" fill="none" stroke="#5a5a5a" stroke-width="1.3" stroke-linejoin="round"/><path d="M146.23,620.85h7.7v7.7h-7.7zM152.38,584.55h7.7v7.7h-7.7zM158.53,560.65h7.7v7.7h-7.7zM164.69,550.15h7.7v7.7h-7.7zM170.84,547.85h7.7v7.7h-7.7zM177.00,545.35h7.7v7.7h-7.7zM183.15,536.45h7.7v7.7h-7.7zM189.31,520.15h7.7v7.7h-7.7zM195.46,500.55h7.7v7.7h-7.7zM201.61,485.85h7.7v7.7h-7.7zM207.77,480.45h7.7v7.7h-7.7zM213.92,482.35h7.7v7.7h-7.7zM220.08,489.05h7.7v7.7h-7.7zM226.23,494.75h7.7v7.7h-7.7zM232.38,495.75h7.7v7.7h-7.7zM238.54,492.85h7.7v7.7h-7.7zM244.69,490.95h7.7v7.7h-7.7zM250.84,491.95h7.7v7.7h-7.7zM257.00,498.25h7.7v7.7h-7.7zM263.15,510.05h7.7v7.7h-7.7zM269.31,523.05h7.7v7.7h-7.7zM275.46,536.45h7.7v7.7h-7.7zM281.62,546.35h7.7v7.7h-7.7zM287.77,554.75h7.7v7.7h-7.7zM293.92,562.55h7.7v7.7h-7.7zM300.08,570.05h7.7v7.7h-7.7zM306.23,577.55h7.7v7.7h-7.7zM312.38,585.75h7.7v7.7h-7.7zM318.54,593.25h7.7v7.7h-7.7zM324.69,599.55h7.7v7.7h-7.7zM330.85,605.15h7.7v7.7h-7.7zM337.00,609.55h7.7v7.7h-7.7zM343.15,613.95h7.7v7.7h-7.7zM349.31,617.65h7.7v7.7h-7.7zM355.46,620.85h7.7v7.7h-7.7zM361.62,623.35h7.7v7.7h-7.7zM367.77,625.85h7.7v7.7h-7.7zM373.92,627.75h7.7v7.7h-7.7zM380.08,629.55h7.7v7.7h-7.7zM386.23,630.85h7.7v7.7h-7.7zM392.39,632.15h7.7v7.7h-7.7zM398.54,632.95h7.7v7.7h-7.7zM404.69,633.75h7.7v7.7h-7.7zM410.85,634.65h7.7v7.7h-7.7zM417.00,634.95h7.7v7.7h-7.7zM423.16,634.85h7.7v7.7h-7.7zM429.31,634.05h7.7v7.7h-7.7zM435.46,633.32h7.7v7.7h-7.7zM441.62,632.55h7.7v7.7h-7.7zM447.77,631.67h7.7v7.7h-7.7zM453.93,630.70h7.7v7.7h-7.7zM460.08,629.65h7.7v7.7h-7.7zM466.23,628.51h7.7v7.7h-7.7zM472.39,627.17h7.7v7.7h-7.7zM478.54,625.67h7.7v7.7h-7.7zM484.70,624.21h7.7v7.7h-7.7zM490.85,622.80h7.7v7.7h-7.7zM497.00,621.59h7.7v7.7h-7.7zM503.16,620.69h7.7v7.7h-7.7zM509.31,619.89h7.7v7.7h-7.7zM515.47,619.16h7.7v7.7h-7.7zM521.62,618.55h7.7v7.7h-7.7zM527.77,617.97h7.7v7.7h-7.7zM533.93,617.45h7.7v7.7h-7.7zM540.08,617.01h7.7v7.7h-7.7zM546.24,616.68h7.7v7.7h-7.7zM552.39,616.43h7.7v7.7h-7.7zM558.54,616.36h7.7v7.7h-7.7zM564.70,616.50h7.7v7.7h-7.7zM570.85,616.72h7.7v7.7h-7.7zM577.01,617.05h7.7v7.7h-7.7zM583.16,617.46h7.7v7.7h-7.7zM589.31,617.93h7.7v7.7h-7.7zM595.47,618.50h7.7v7.7h-7.7zM601.62,619.20h7.7v7.7h-7.7zM607.78,619.96h7.7v7.7h-7.7zM613.93,620.79h7.7v7.7h-7.7zM620.08,621.63h7.7v7.7h-7.7zM626.24,622.40h7.7v7.7h-7.7zM632.39,623.14h7.7v7.7h-7.7zM638.55,623.93h7.7v7.7h-7.7zM644.70,624.84h7.7v7.7h-7.7zM650.85,625.89h7.7v7.7h-7.7zM657.01,627.05h7.7v7.7h-7.7zM663.16,628.25h7.7v7.7h-7.7zM669.32,629.45h7.7v7.7h-7.7zM675.47,630.67h7.7v7.7h-7.7zM681.62,631.92h7.7v7.7h-7.7zM687.78,633.20h7.7v7.7h-7.7zM693.93,634.52h7.7v7.7h-7.7z" fill="none" stroke="#4d4d4d" stroke-width="1.25"/><path d="M131.9,443.7H717.2V643.4" fill="none" stroke="#808080" stroke-width="2"/><path d="M131.9,442.7V644.4" fill="none" stroke="#808080" stroke-width="2"/><path d="M147.00,643.4v5.5M177.77,643.4v3.0M208.54,643.4v5.5M239.31,643.4v3.0M270.08,643.4v5.5M300.85,643.4v3.0M331.62,643.4v5.5M362.39,643.4v3.0M393.16,643.4v5.5M423.93,643.4v3.0M454.70,643.4v5.5M485.47,643.4v3.0M516.24,643.4v5.5M547.01,643.4v3.0M577.78,643.4v5.5M608.55,643.4v3.0M639.32,643.4v5.5M670.09,643.4v3.0M700.86,643.4v5.5M131.90,640.40h-6M131.90,625.25h-2.9M131.90,610.10h-6M131.90,594.95h-2.9M131.90,579.80h-6M131.90,564.65h-2.9M131.90,549.50h-6M131.90,534.35h-2.9M131.90,519.20h-6M131.90,504.05h-2.9M131.90,488.90h-6M131.90,473.75h-2.9M131.90,458.60h-6" fill="none" stroke="#6a6a6a" stroke-width="1.6"/><text x="121.8" y="643.1" font-size="15.6" text-anchor="end" fill="#2e2e2e" stroke="#2e2e2e" stroke-width="0.6">0.0</text><text x="123.0" y="615.8" font-size="15.6" text-anchor="end" fill="#2e2e2e" stroke="#2e2e2e" stroke-width="0.6">1.0 <tspan dx="1">x</tspan> 10<tspan font-size="8.8" dy="-10.1" fill="#5a5a5a" stroke="#5a5a5a" stroke-width="0.3">-3</tspan></text><text x="123.0" y="585.5" font-size="15.6" text-anchor="end" fill="#2e2e2e" stroke="#2e2e2e" stroke-width="0.6">2.0 <tspan dx="1">x</tspan> 10<tspan font-size="8.8" dy="-10.1" fill="#5a5a5a" stroke="#5a5a5a" stroke-width="0.3">-3</tspan></text><text x="123.0" y="555.2" font-size="15.6" text-anchor="end" fill="#2e2e2e" stroke="#2e2e2e" stroke-width="0.6">3.0 <tspan dx="1">x</tspan> 10<tspan font-size="8.8" dy="-10.1" fill="#5a5a5a" stroke="#5a5a5a" stroke-width="0.3">-3</tspan></text><text x="123.0" y="524.9" font-size="15.6" text-anchor="end" fill="#2e2e2e" stroke="#2e2e2e" stroke-width="0.6">4.0 <tspan dx="1">x</tspan> 10<tspan font-size="8.8" dy="-10.1" fill="#5a5a5a" stroke="#5a5a5a" stroke-width="0.3">-3</tspan></text><text x="123.0" y="494.6" font-size="15.6" text-anchor="end" fill="#2e2e2e" stroke="#2e2e2e" stroke-width="0.6">5.0 <tspan dx="1">x</tspan> 10<tspan font-size="8.8" dy="-10.1" fill="#5a5a5a" stroke="#5a5a5a" stroke-width="0.3">-3</tspan></text><text x="123.0" y="464.3" font-size="15.6" text-anchor="end" fill="#2e2e2e" stroke="#2e2e2e" stroke-width="0.6">6.0 <tspan dx="1">x</tspan> 10<tspan font-size="8.8" dy="-10.1" fill="#5a5a5a" stroke="#5a5a5a" stroke-width="0.3">-3</tspan></text></g>
<g><path d="M820.38,636.60 L821.15,636.03 L821.92,635.46 L822.68,634.89 L823.45,634.32 L824.22,633.76 L824.99,633.21 L825.76,632.65 L826.53,632.10 L827.30,631.55 L828.07,631.01 L828.84,630.47 L829.61,629.93 L830.38,629.39 L831.15,628.86 L831.92,628.33 L832.68,627.80 L833.45,627.27 L834.22,626.74 L834.99,626.22 L835.76,625.69 L836.53,625.16 L837.30,624.64 L838.07,624.11 L838.84,623.59 L839.61,623.07 L840.38,622.55 L841.15,622.04 L841.92,621.52 L842.69,621.01 L843.45,620.50 L844.22,619.99 L844.99,619.49 L845.76,618.99 L846.53,618.49 L847.30,618.00 L848.07,617.51 L848.84,617.03 L849.61,616.55 L850.38,616.07 L851.15,615.60 L851.92,615.13 L852.69,614.66 L853.45,614.20 L854.22,613.74 L854.99,613.29 L855.76,612.83 L856.53,612.38 L857.30,611.93 L858.07,611.48 L858.84,611.03 L859.61,610.58 L860.38,610.14 L861.15,609.69 L861.92,609.24 L862.69,608.80 L863.45,608.35 L864.22,607.90 L864.99,607.45 L865.76,607.00 L866.53,606.55 L867.30,606.09 L868.07,605.64 L868.84,605.18 L869.61,604.72 L870.38,604.25 L871.15,603.79 L871.92,603.32 L872.69,602.84 L873.46,602.36 L874.22,601.88 L874.99,601.39 L875.76,600.90 L876.53,600.40 L877.30,599.90 L878.07,599.40 L878.84,598.89 L879.61,598.39 L880.38,597.87 L881.15,597.36 L881.92,596.84 L882.69,596.32 L883.46,595.80 L884.22,595.27 L884.99,594.75 L885.76,594.22 L886.53,593.68 L887.30,593.15 L888.07,592.62 L888.84,592.08 L889.61,591.54 L890.38,591.00 L891.15,590.46 L891.92,589.92 L892.69,589.38 L893.46,588.84 L894.22,588.29 L894.99,587.75 L895.76,587.20 L896.53,586.66 L897.30,586.11 L898.07,585.56 L898.84,585.02 L899.61,584.47 L900.38,583.93 L901.15,583.38 L901.92,582.84 L902.69,582.29 L903.46,581.74 L904.23,581.18 L904.99,580.62 L905.76,580.06 L906.53,579.51 L907.30,578.96 L908.07,578.41 L908.84,577.88 L909.61,577.36 L910.38,576.85 L911.15,576.35 L911.92,575.85 L912.69,575.34 L913.46,574.83 L914.23,574.32 L914.99,573.79 L915.76,573.26 L916.53,572.73 L917.30,572.20 L918.07,571.65 L918.84,571.11 L919.61,570.55 L920.38,569.99 L921.15,569.42 L921.92,568.83 L922.69,568.24 L923.46,567.64 L924.23,567.04 L924.99,566.42 L925.76,565.78 L926.53,565.13 L927.30,564.46 L928.07,563.76 L928.84,563.02 L929.61,562.26 L930.38,561.49 L931.15,560.72 L931.92,559.98 L932.69,559.27 L933.46,558.60 L934.23,557.95 L935.00,557.31 L935.76,556.69 L936.53,556.08 L937.30,555.49 L938.07,554.91 L938.84,554.34 L939.61,553.79 L940.38,553.26 L941.15,552.76 L941.92,552.26 L942.69,551.78 L943.46,551.30 L944.23,550.82 L945.00,550.32 L945.76,549.81 L946.53,549.26 L947.30,548.66 L948.07,548.04 L948.84,547.42 L949.61,546.81 L950.38,546.25 L951.15,545.74 L951.92,545.32 L952.69,544.94 L953.46,544.57 L954.23,544.23 L955.00,543.90 L955.76,543.61 L956.53,543.35 L957.30,543.12 L958.07,542.93 L958.84,542.77 L959.61,542.62 L960.38,542.47 L961.15,542.33 L961.92,542.22 L962.69,542.12 L963.46,542.05 L964.23,542.01 L965.00,542.00 L965.77,542.02 L966.53,542.05 L967.30,542.10 L968.07,542.15 L968.84,542.22 L969.61,542.30 L970.38,542.38 L971.15,542.49 L971.92,542.66 L972.69,542.88 L973.46,543.14 L974.23,543.44 L975.00,543.75 L975.77,544.08 L976.53,544.41 L977.30,544.73 L978.07,545.06 L978.84,545.41 L979.61,545.78 L980.38,546.17 L981.15,546.58 L981.92,547.02 L982.69,547.50 L983.46,548.00 L984.23,548.57 L985.00,549.22 L985.77,549.94 L986.53,550.70 L987.30,551.48 L988.07,552.27 L988.84,553.05 L989.61,553.80 L990.38,554.54 L991.15,555.27 L991.92,556.02 L992.69,556.76 L993.46,557.52 L994.23,558.30 L995.00,559.09 L995.77,559.90 L996.54,560.75 L997.30,561.64 L998.07,562.56 L998.84,563.49 L999.61,564.41 L1000.38,565.32 L1001.15,566.20 L1001.92,567.03 L1002.69,567.82 L1003.46,568.59 L1004.23,569.33 L1005.00,570.07 L1005.77,570.81 L1006.54,571.55 L1007.30,572.31 L1008.07,573.10 L1008.84,573.91 L1009.61,574.74 L1010.38,575.59 L1011.15,576.44 L1011.92,577.30 L1012.69,578.15 L1013.46,579.00 L1014.23,579.83 L1015.00,580.66 L1015.77,581.50 L1016.54,582.33 L1017.30,583.17 L1018.07,584.00 L1018.84,584.84 L1019.61,585.67 L1020.38,586.49 L1021.15,587.32 L1021.92,588.14 L1022.69,588.95 L1023.46,589.75 L1024.23,590.55 L1025.00,591.34 L1025.77,592.12 L1026.54,592.89 L1027.31,593.66 L1028.07,594.41 L1028.84,595.15 L1029.61,595.88 L1030.38,596.61 L1031.15,597.33 L1031.92,598.05 L1032.69,598.76 L1033.46,599.47 L1034.23,600.17 L1035.00,600.87 L1035.77,601.57 L1036.54,602.27 L1037.31,602.96 L1038.07,603.66 L1038.84,604.36 L1039.61,605.06 L1040.38,605.77 L1041.15,606.48 L1041.92,607.19 L1042.69,607.90 L1043.46,608.61 L1044.23,609.31 L1045.00,610.01 L1045.77,610.70 L1046.54,611.38 L1047.31,612.05 L1048.08,612.71 L1048.84,613.36 L1049.61,613.99 L1050.38,614.60 L1051.15,615.20 L1051.92,615.78 L1052.69,616.36 L1053.46,616.93 L1054.23,617.49 L1055.00,618.04 L1055.77,618.58 L1056.54,619.11 L1057.31,619.64 L1058.08,620.16 L1058.84,620.67 L1059.61,621.17 L1060.38,621.66 L1061.15,622.14 L1061.92,622.61 L1062.69,623.07 L1063.46,623.52 L1064.23,623.96 L1065.00,624.40 L1065.77,624.83 L1066.54,625.25 L1067.31,625.66 L1068.08,626.07 L1068.84,626.47 L1069.61,626.86 L1070.38,627.25 L1071.15,627.63 L1071.92,628.01 L1072.69,628.38 L1073.46,628.75 L1074.23,629.11 L1075.00,629.47 L1075.77,629.83 L1076.54,630.18 L1077.31,630.52 L1078.08,630.87 L1078.85,631.21 L1079.61,631.55 L1080.38,631.89 L1081.15,632.23 L1081.92,632.56 L1082.69,632.89 L1083.46,633.21 L1084.23,633.53 L1085.00,633.85 L1085.77,634.16 L1086.54,634.47 L1087.31,634.77 L1088.08,635.07 L1088.85,635.36 L1089.61,635.64 L1090.38,635.92 L1091.15,636.19 L1091.92,636.45 L1092.69,636.72 L1093.46,637.03 L1094.23,637.31 L1095.00,637.52 L1095.77,637.60 L1096.54,637.58 L1097.31,637.52 L1098.08,637.43 L1098.85,637.30 L1099.61,637.16 L1100.38,636.98 L1101.15,636.79 L1101.92,636.59 L1102.69,636.38 L1103.46,636.16 L1104.23,635.93 L1105.00,635.71 L1105.77,635.50 L1106.54,635.30 L1107.31,635.11 L1108.08,634.93 L1108.85,634.76 L1109.62,634.60 L1110.38,634.43 L1111.15,634.26 L1111.92,634.10 L1112.69,633.93 L1113.46,633.77 L1114.23,633.60 L1115.00,633.43 L1115.77,633.27 L1116.54,633.10 L1117.31,632.92 L1118.08,632.75 L1118.85,632.57 L1119.62,632.39 L1120.38,632.20 L1121.15,632.01 L1121.92,631.82 L1122.69,631.62 L1123.46,631.42 L1124.23,631.21 L1125.00,630.99 L1125.77,630.76 L1126.54,630.53 L1127.31,630.30 L1128.08,630.06 L1128.85,629.81 L1129.62,629.57 L1130.38,629.31 L1131.15,629.06 L1131.92,628.80 L1132.69,628.55 L1133.46,628.29 L1134.23,628.03 L1135.00,627.77 L1135.77,627.51 L1136.54,627.26 L1137.31,627.00 L1138.08,626.75 L1138.85,626.50 L1139.62,626.25 L1140.38,626.00 L1141.15,625.74 L1141.92,625.49 L1142.69,625.23 L1143.46,624.97 L1144.23,624.71 L1145.00,624.45 L1145.77,624.19 L1146.54,623.93 L1147.31,623.67 L1148.08,623.41 L1148.85,623.16 L1149.62,622.90 L1150.39,622.65 L1151.15,622.40 L1151.92,622.16 L1152.69,621.91 L1153.46,621.68 L1154.23,621.44 L1155.00,621.21 L1155.77,620.99 L1156.54,620.77 L1157.31,620.55 L1158.08,620.34 L1158.85,620.13 L1159.62,619.92 L1160.39,619.72 L1161.15,619.52 L1161.92,619.32 L1162.69,619.12 L1163.46,618.93 L1164.23,618.73 L1165.00,618.54 L1165.77,618.35 L1166.54,618.16 L1167.31,617.97 L1168.08,617.79 L1168.85,617.60 L1169.62,617.41 L1170.39,617.23 L1171.15,617.04 L1171.92,616.86 L1172.69,616.67 L1173.46,616.49 L1174.23,616.30 L1175.00,616.11 L1175.77,615.91 L1176.54,615.72 L1177.31,615.52 L1178.08,615.33 L1178.85,615.13 L1179.62,614.94 L1180.39,614.75 L1181.16,614.56 L1181.92,614.38 L1182.69,614.20 L1183.46,614.02 L1184.23,613.85 L1185.00,613.69 L1185.77,613.53 L1186.54,613.38 L1187.31,613.23 L1188.08,613.10 L1188.85,612.98 L1189.62,612.85 L1190.39,612.73 L1191.16,612.62 L1191.92,612.50 L1192.69,612.38 L1193.46,612.27 L1194.23,612.16 L1195.00,612.05 L1195.77,611.94 L1196.54,611.83 L1197.31,611.73 L1198.08,611.63 L1198.85,611.53 L1199.62,611.44 L1200.39,611.34 L1201.16,611.25 L1201.92,611.17 L1202.69,611.08 L1203.46,611.01 L1204.23,610.93 L1205.00,610.86 L1205.77,610.79 L1206.54,610.73 L1207.31,610.67 L1208.08,610.61 L1208.85,610.56 L1209.62,610.52 L1210.39,610.48 L1211.16,610.43 L1211.93,610.39 L1212.69,610.35 L1213.46,610.31 L1214.23,610.27 L1215.00,610.23 L1215.77,610.20 L1216.54,610.16 L1217.31,610.12 L1218.08,610.08 L1218.85,610.05 L1219.62,610.01 L1220.39,609.98 L1221.16,609.95 L1221.93,609.91 L1222.69,609.88 L1223.46,609.85 L1224.23,609.82 L1225.00,609.79 L1225.77,609.77 L1226.54,609.74 L1227.31,609.71 L1228.08,609.69 L1228.85,609.67 L1229.62,609.65 L1230.39,609.63 L1231.16,609.61 L1231.93,609.59 L1232.69,609.57 L1233.46,609.56 L1234.23,609.55 L1235.00,609.53 L1235.77,609.52 L1236.54,609.52 L1237.31,609.51 L1238.08,609.50 L1238.85,609.50 L1239.62,609.50 L1240.39,609.50 L1241.16,609.51 L1241.93,609.51 L1242.70,609.52 L1243.46,609.54 L1244.23,609.55 L1245.00,609.57 L1245.77,609.60 L1246.54,609.62 L1247.31,609.65 L1248.08,609.68 L1248.85,609.71 L1249.62,609.74 L1250.39,609.78 L1251.16,609.82 L1251.93,609.86 L1252.70,609.90 L1253.46,609.94 L1254.23,609.99 L1255.00,610.04 L1255.77,610.08 L1256.54,610.13 L1257.31,610.18 L1258.08,610.23 L1258.85,610.29 L1259.62,610.34 L1260.39,610.39 L1261.16,610.45 L1261.93,610.50 L1262.70,610.56 L1263.46,610.63 L1264.23,610.70 L1265.00,610.79 L1265.77,610.88 L1266.54,610.97 L1267.31,611.08 L1268.08,611.19 L1268.85,611.31 L1269.62,611.43 L1270.39,611.55 L1271.16,611.69 L1271.93,611.82 L1272.70,611.96 L1273.47,612.11 L1274.23,612.25 L1275.00,612.40 L1275.77,612.55 L1276.54,612.71 L1277.31,612.86 L1278.08,613.02 L1278.85,613.18 L1279.62,613.33 L1280.39,613.49 L1281.16,613.65 L1281.93,613.81 L1282.70,613.96 L1283.47,614.12 L1284.23,614.27 L1285.00,614.42 L1285.77,614.58 L1286.54,614.74 L1287.31,614.90 L1288.08,615.07 L1288.85,615.24 L1289.62,615.41 L1290.39,615.59 L1291.16,615.77 L1291.93,615.95 L1292.70,616.13 L1293.47,616.31 L1294.23,616.50 L1295.00,616.69 L1295.77,616.87 L1296.54,617.06 L1297.31,617.25 L1298.08,617.44 L1298.85,617.63 L1299.62,617.82 L1300.39,618.01 L1301.16,618.20 L1301.93,618.39 L1302.70,618.58 L1303.47,618.77 L1304.24,618.95 L1305.00,619.14 L1305.77,619.32 L1306.54,619.50 L1307.31,619.68 L1308.08,619.86 L1308.85,620.03 L1309.62,620.20 L1310.39,620.38 L1311.16,620.55 L1311.93,620.72 L1312.70,620.89 L1313.47,621.06 L1314.24,621.23 L1315.00,621.40 L1315.77,621.57 L1316.54,621.74 L1317.31,621.91 L1318.08,622.09 L1318.85,622.26 L1319.62,622.43 L1320.39,622.61 L1321.16,622.78 L1321.93,622.96 L1322.70,623.14 L1323.47,623.32 L1324.24,623.51 L1325.00,623.69 L1325.77,623.88 L1326.54,624.07 L1327.31,624.26 L1328.08,624.46 L1328.85,624.66 L1329.62,624.86 L1330.39,625.07 L1331.16,625.28 L1331.93,625.50 L1332.70,625.72 L1333.47,625.94 L1334.24,626.17 L1335.01,626.40 L1335.77,626.63 L1336.54,626.86 L1337.31,627.10 L1338.08,627.34 L1338.85,627.58 L1339.62,627.82 L1340.39,628.06 L1341.16,628.30 L1341.93,628.55 L1342.70,628.79 L1343.47,629.03 L1344.24,629.27 L1345.01,629.52 L1345.77,629.76 L1346.54,630.00 L1347.31,630.24 L1348.08,630.47 L1348.85,630.71 L1349.62,630.94 L1350.39,631.17 L1351.16,631.40 L1351.93,631.62 L1352.70,631.85 L1353.47,632.07 L1354.24,632.29 L1355.01,632.50 L1355.78,632.72 L1356.54,632.94 L1357.31,633.15 L1358.08,633.36 L1358.85,633.58 L1359.62,633.79 L1360.39,634.01 L1361.16,634.22 L1361.93,634.44 L1362.70,634.65 L1363.47,634.87 L1364.24,635.09 L1365.01,635.31 L1365.78,635.54 L1366.54,635.76 L1367.31,635.99 L1368.08,636.22 L1368.85,636.46 L1369.62,636.70 L1370.39,636.95 L1371.16,637.20" fill="none" stroke="#5a5a5a" stroke-width="1.3" stroke-linejoin="round"/><path d="M816.53,632.75h7.7v7.7h-7.7zM822.68,628.25h7.7v7.7h-7.7zM828.83,623.95h7.7v7.7h-7.7zM834.99,619.74h7.7v7.7h-7.7zM841.14,615.64h7.7v7.7h-7.7zM847.30,611.75h7.7v7.7h-7.7zM853.45,608.08h7.7v7.7h-7.7zM859.60,604.50h7.7v7.7h-7.7zM865.76,600.87h7.7v7.7h-7.7zM871.91,597.05h7.7v7.7h-7.7zM878.07,592.99h7.7v7.7h-7.7zM884.22,588.77h7.7v7.7h-7.7zM890.37,584.44h7.7v7.7h-7.7zM896.53,580.08h7.7v7.7h-7.7zM902.68,575.66h7.7v7.7h-7.7zM908.84,571.49h7.7v7.7h-7.7zM914.99,567.26h7.7v7.7h-7.7zM921.14,562.57h7.7v7.7h-7.7zM927.30,556.87h7.7v7.7h-7.7zM933.45,551.64h7.7v7.7h-7.7zM939.61,547.45h7.7v7.7h-7.7zM945.76,542.96h7.7v7.7h-7.7zM951.91,539.76h7.7v7.7h-7.7zM958.07,538.37h7.7v7.7h-7.7zM964.22,538.30h7.7v7.7h-7.7zM970.38,539.59h7.7v7.7h-7.7zM976.53,542.32h7.7v7.7h-7.7zM982.68,546.85h7.7v7.7h-7.7zM988.84,552.91h7.7v7.7h-7.7zM994.99,559.64h7.7v7.7h-7.7zM1001.15,566.22h7.7v7.7h-7.7zM1007.30,572.59h7.7v7.7h-7.7zM1013.45,579.32h7.7v7.7h-7.7zM1019.61,585.90h7.7v7.7h-7.7zM1025.76,592.03h7.7v7.7h-7.7zM1031.92,597.72h7.7v7.7h-7.7zM1038.07,603.34h7.7v7.7h-7.7zM1044.23,608.86h7.7v7.7h-7.7zM1050.38,613.64h7.7v7.7h-7.7zM1056.53,617.81h7.7v7.7h-7.7zM1062.69,621.40h7.7v7.7h-7.7zM1068.84,624.53h7.7v7.7h-7.7zM1075.00,627.36h7.7v7.7h-7.7zM1081.15,630.00h7.7v7.7h-7.7zM1087.30,632.34h7.7v7.7h-7.7zM1093.46,633.67h7.7v7.7h-7.7zM1099.61,632.31h7.7v7.7h-7.7zM1105.77,630.75h7.7v7.7h-7.7zM1111.92,629.42h7.7v7.7h-7.7zM1118.07,627.97h7.7v7.7h-7.7zM1124.23,626.21h7.7v7.7h-7.7zM1130.38,624.18h7.7v7.7h-7.7zM1136.54,622.15h7.7v7.7h-7.7zM1142.69,620.08h7.7v7.7h-7.7zM1148.84,618.06h7.7v7.7h-7.7zM1155.00,616.28h7.7v7.7h-7.7zM1161.15,614.69h7.7v7.7h-7.7zM1167.31,613.19h7.7v7.7h-7.7zM1173.46,611.67h7.7v7.7h-7.7zM1179.61,610.17h7.7v7.7h-7.7zM1185.77,609.00h7.7v7.7h-7.7zM1191.92,608.09h7.7v7.7h-7.7zM1198.08,607.32h7.7v7.7h-7.7zM1204.23,606.76h7.7v7.7h-7.7zM1210.38,606.42h7.7v7.7h-7.7zM1216.54,606.13h7.7v7.7h-7.7zM1222.69,605.89h7.7v7.7h-7.7zM1228.85,605.72h7.7v7.7h-7.7zM1235.00,605.65h7.7v7.7h-7.7zM1241.15,605.72h7.7v7.7h-7.7zM1247.31,605.97h7.7v7.7h-7.7zM1253.46,606.33h7.7v7.7h-7.7zM1259.62,606.78h7.7v7.7h-7.7zM1265.77,607.58h7.7v7.7h-7.7zM1271.92,608.70h7.7v7.7h-7.7zM1278.08,609.96h7.7v7.7h-7.7zM1284.23,611.22h7.7v7.7h-7.7zM1290.38,612.65h7.7v7.7h-7.7zM1296.54,614.16h7.7v7.7h-7.7zM1302.69,615.65h7.7v7.7h-7.7zM1308.85,617.04h7.7v7.7h-7.7zM1315.00,618.41h7.7v7.7h-7.7zM1321.15,619.84h7.7v7.7h-7.7zM1327.31,621.43h7.7v7.7h-7.7zM1333.46,623.25h7.7v7.7h-7.7zM1339.62,625.18h7.7v7.7h-7.7zM1345.77,627.09h7.7v7.7h-7.7zM1351.93,628.87h7.7v7.7h-7.7zM1358.08,630.59h7.7v7.7h-7.7zM1364.23,632.37h7.7v7.7h-7.7z" fill="none" stroke="#4d4d4d" stroke-width="1.25"/><path d="M801.9,443.7H1387.0V643.4" fill="none" stroke="#808080" stroke-width="2"/><path d="M801.9,442.7V644.4" fill="none" stroke="#808080" stroke-width="2"/><path d="M817.30,643.4v5.5M848.07,643.4v3.0M878.84,643.4v5.5M909.61,643.4v3.0M940.38,643.4v5.5M971.15,643.4v3.0M1001.92,643.4v5.5M1032.69,643.4v3.0M1063.46,643.4v5.5M1094.23,643.4v3.0M1125.00,643.4v5.5M1155.77,643.4v3.0M1186.54,643.4v5.5M1217.31,643.4v3.0M1248.08,643.4v5.5M1278.85,643.4v3.0M1309.62,643.4v5.5M1340.39,643.4v3.0M1371.16,643.4v5.5M801.90,638.00h-6M801.90,625.30h-2.9M801.90,612.60h-6M801.90,599.90h-2.9M801.90,587.20h-6M801.90,574.50h-2.9M801.90,561.80h-6M801.90,549.10h-2.9M801.90,536.40h-6M801.90,523.70h-2.9M801.90,511.00h-6M801.90,498.30h-2.9M801.90,485.60h-6M801.90,472.90h-2.9M801.90,460.20h-6M801.90,447.50h-2.9" fill="none" stroke="#6a6a6a" stroke-width="1.6"/><text x="791.4" y="640.7" font-size="15.6" text-anchor="end" fill="#2e2e2e" stroke="#2e2e2e" stroke-width="0.6">0.0</text><text x="792.6" y="618.3" font-size="15.6" text-anchor="end" fill="#2e2e2e" stroke="#2e2e2e" stroke-width="0.6">5.0 <tspan dx="1">x</tspan> 10<tspan font-size="8.8" dy="-10.1" fill="#5a5a5a" stroke="#5a5a5a" stroke-width="0.3">-4</tspan></text><text x="792.6" y="592.9" font-size="15.6" text-anchor="end" fill="#2e2e2e" stroke="#2e2e2e" stroke-width="0.6">1.0 <tspan dx="1">x</tspan> 10<tspan font-size="8.8" dy="-10.1" fill="#5a5a5a" stroke="#5a5a5a" stroke-width="0.3">-3</tspan></text><text x="792.6" y="567.5" font-size="15.6" text-anchor="end" fill="#2e2e2e" stroke="#2e2e2e" stroke-width="0.6">1.5 <tspan dx="1">x</tspan> 10<tspan font-size="8.8" dy="-10.1" fill="#5a5a5a" stroke="#5a5a5a" stroke-width="0.3">-3</tspan></text><text x="792.6" y="542.1" font-size="15.6" text-anchor="end" fill="#2e2e2e" stroke="#2e2e2e" stroke-width="0.6">2.0 <tspan dx="1">x</tspan> 10<tspan font-size="8.8" dy="-10.1" fill="#5a5a5a" stroke="#5a5a5a" stroke-width="0.3">-3</tspan></text><text x="792.6" y="516.7" font-size="15.6" text-anchor="end" fill="#2e2e2e" stroke="#2e2e2e" stroke-width="0.6">2.5 <tspan dx="1">x</tspan> 10<tspan font-size="8.8" dy="-10.1" fill="#5a5a5a" stroke="#5a5a5a" stroke-width="0.3">-3</tspan></text><text x="792.6" y="491.3" font-size="15.6" text-anchor="end" fill="#2e2e2e" stroke="#2e2e2e" stroke-width="0.6">3.0 <tspan dx="1">x</tspan> 10<tspan font-size="8.8" dy="-10.1" fill="#5a5a5a" stroke="#5a5a5a" stroke-width="0.3">-3</tspan></text><text x="792.6" y="465.9" font-size="15.6" text-anchor="end" fill="#2e2e2e" stroke="#2e2e2e" stroke-width="0.6">3.5 <tspan dx="1">x</tspan> 10<tspan font-size="8.8" dy="-10.1" fill="#5a5a5a" stroke="#5a5a5a" stroke-width="0.3">-3</tspan></text></g>
<g><path d="M150.08,826.80 L150.85,825.98 L151.62,825.17 L152.38,824.35 L153.15,823.54 L153.92,822.72 L154.69,821.90 L155.46,821.08 L156.23,820.26 L157.00,819.44 L157.77,818.64 L158.54,817.85 L159.31,817.08 L160.08,816.32 L160.85,815.59 L161.62,814.86 L162.38,814.14 L163.15,813.43 L163.92,812.71 L164.69,811.98 L165.46,811.24 L166.23,810.49 L167.00,809.72 L167.77,808.95 L168.54,808.18 L169.31,807.40 L170.08,806.63 L170.85,805.86 L171.62,805.10 L172.39,804.35 L173.15,803.60 L173.92,802.85 L174.69,802.11 L175.46,801.37 L176.23,800.62 L177.00,799.86 L177.77,799.10 L178.54,798.32 L179.31,797.54 L180.08,796.74 L180.85,795.94 L181.62,795.15 L182.39,794.35 L183.15,793.57 L183.92,792.80 L184.69,792.05 L185.46,791.30 L186.23,790.57 L187.00,789.84 L187.77,789.11 L188.54,788.38 L189.31,787.65 L190.08,786.90 L190.85,786.14 L191.62,785.38 L192.39,784.61 L193.16,783.83 L193.92,783.05 L194.69,782.27 L195.46,781.49 L196.23,780.71 L197.00,779.94 L197.77,779.17 L198.54,778.41 L199.31,777.65 L200.08,776.88 L200.85,776.11 L201.62,775.32 L202.39,774.52 L203.16,773.70 L203.92,772.84 L204.69,771.96 L205.46,771.07 L206.23,770.18 L207.00,769.31 L207.77,768.48 L208.54,767.69 L209.31,766.93 L210.08,766.20 L210.85,765.49 L211.62,764.79 L212.39,764.09 L213.16,763.40 L213.92,762.72 L214.69,762.02 L215.46,761.34 L216.23,760.67 L217.00,760.01 L217.77,759.35 L218.54,758.68 L219.31,758.00 L220.08,757.31 L220.85,756.60 L221.62,755.86 L222.39,755.09 L223.16,754.30 L223.93,753.50 L224.69,752.70 L225.46,751.91 L226.23,751.14 L227.00,750.40 L227.77,749.69 L228.54,749.00 L229.31,748.32 L230.08,747.65 L230.85,746.98 L231.62,746.33 L232.39,745.67 L233.16,745.00 L233.93,744.33 L234.69,743.67 L235.46,743.00 L236.23,742.34 L237.00,741.68 L237.77,741.02 L238.54,740.36 L239.31,739.70 L240.08,739.05 L240.85,738.40 L241.62,737.76 L242.39,737.12 L243.16,736.48 L243.93,735.83 L244.69,735.17 L245.46,734.50 L246.23,733.81 L247.00,733.09 L247.77,732.36 L248.54,731.62 L249.31,730.89 L250.08,730.17 L250.85,729.47 L251.62,728.80 L252.39,728.17 L253.16,727.56 L253.93,726.97 L254.69,726.39 L255.46,725.82 L256.23,725.23 L257.00,724.63 L257.77,724.00 L258.54,723.33 L259.31,722.62 L260.08,721.88 L260.85,721.14 L261.62,720.40 L262.39,719.69 L263.16,719.02 L263.93,718.40 L264.70,717.84 L265.46,717.31 L266.23,716.82 L267.00,716.33 L267.77,715.86 L268.54,715.39 L269.31,714.90 L270.08,714.40 L270.85,713.87 L271.62,713.31 L272.39,712.75 L273.16,712.18 L273.93,711.62 L274.70,711.08 L275.46,710.57 L276.23,710.10 L277.00,709.67 L277.77,709.27 L278.54,708.90 L279.31,708.53 L280.08,708.17 L280.85,707.80 L281.62,707.41 L282.39,707.00 L283.16,706.55 L283.93,706.08 L284.70,705.58 L285.47,705.08 L286.23,704.57 L287.00,704.07 L287.77,703.57 L288.54,703.10 L289.31,702.64 L290.08,702.20 L290.85,701.76 L291.62,701.33 L292.39,700.90 L293.16,700.47 L293.93,700.03 L294.70,699.60 L295.47,699.16 L296.23,698.70 L297.00,698.24 L297.77,697.79 L298.54,697.34 L299.31,696.90 L300.08,696.49 L300.85,696.10 L301.62,695.73 L302.39,695.36 L303.16,695.01 L303.93,694.66 L304.70,694.34 L305.47,694.03 L306.23,693.75 L307.00,693.50 L307.77,693.25 L308.54,693.00 L309.31,692.75 L310.08,692.51 L310.85,692.31 L311.62,692.15 L312.39,692.04 L313.16,692.00 L313.93,692.02 L314.70,692.07 L315.47,692.15 L316.24,692.25 L317.00,692.38 L317.77,692.51 L318.54,692.65 L319.31,692.80 L320.08,692.96 L320.85,693.15 L321.62,693.37 L322.39,693.63 L323.16,693.92 L323.93,694.24 L324.70,694.60 L325.47,695.00 L326.24,695.56 L327.00,696.31 L327.77,697.13 L328.54,697.90 L329.31,698.59 L330.08,699.26 L330.85,699.92 L331.62,700.58 L332.39,701.24 L333.16,701.90 L333.93,702.58 L334.70,703.28 L335.47,703.98 L336.24,704.68 L337.00,705.39 L337.77,706.11 L338.54,706.85 L339.31,707.60 L340.08,708.39 L340.85,709.20 L341.62,710.06 L342.39,710.96 L343.16,711.89 L343.93,712.85 L344.70,713.83 L345.47,714.82 L346.24,715.81 L347.00,716.79 L347.77,717.76 L348.54,718.73 L349.31,719.70 L350.08,720.69 L350.85,721.70 L351.62,722.73 L352.39,723.79 L353.16,724.90 L353.93,726.06 L354.70,727.28 L355.47,728.54 L356.24,729.84 L357.01,731.16 L357.77,732.48 L358.54,733.80 L359.31,735.10 L360.08,736.39 L360.85,737.68 L361.62,738.98 L362.39,740.28 L363.16,741.59 L363.93,742.90 L364.70,744.21 L365.47,745.53 L366.24,746.86 L367.01,748.19 L367.77,749.53 L368.54,750.87 L369.31,752.21 L370.08,753.56 L370.85,754.90 L371.62,756.24 L372.39,757.60 L373.16,758.97 L373.93,760.34 L374.70,761.71 L375.47,763.06 L376.24,764.38 L377.01,765.66 L377.77,766.88 L378.54,768.06 L379.31,769.20 L380.08,770.30 L380.85,771.39 L381.62,772.48 L382.39,773.57 L383.16,774.68 L383.93,775.83 L384.70,777.02 L385.47,778.25 L386.24,779.51 L387.01,780.78 L387.78,782.06 L388.54,783.34 L389.31,784.59 L390.08,785.82 L390.85,787.01 L391.62,788.19 L392.39,789.35 L393.16,790.49 L393.93,791.63 L394.70,792.75 L395.47,793.86 L396.24,794.96 L397.01,796.05 L397.78,797.12 L398.54,798.16 L399.31,799.20 L400.08,800.23 L400.85,801.27 L401.62,802.31 L402.39,803.37 L403.16,804.46 L403.93,805.59 L404.70,806.76 L405.47,807.93 L406.24,809.09 L407.01,810.20 L407.78,811.24 L408.55,812.20 L409.31,813.07 L410.08,813.87 L410.85,814.62 L411.62,815.34 L412.39,816.06 L413.16,816.78 L413.93,817.52 L414.70,818.30 L415.47,819.16 L416.24,820.09 L417.01,821.06 L417.78,822.04 L418.55,822.97 L419.31,823.84 L420.08,824.59 L420.85,825.20 L421.62,825.73 L422.39,826.26 L423.16,826.76 L423.93,827.22 L424.70,827.62 L425.47,827.93 L426.24,828.13 L427.01,828.20 L427.78,828.09 L428.55,827.77 L429.31,827.31 L430.08,826.75 L430.85,826.13 L431.62,825.50 L432.39,824.91 L433.16,824.40 L433.93,823.96 L434.70,823.54 L435.47,823.12 L436.24,822.71 L437.01,822.30 L437.78,821.88 L438.55,821.45 L439.31,821.00 L440.08,820.52 L440.85,820.02 L441.62,819.50 L442.39,818.97 L443.16,818.44 L443.93,817.91 L444.70,817.39 L445.47,816.88 L446.24,816.41 L447.01,815.95 L447.78,815.51 L448.55,815.09 L449.32,814.67 L450.08,814.26 L450.85,813.85 L451.62,813.44 L452.39,813.02 L453.16,812.59 L453.93,812.15 L454.70,811.69 L455.47,811.21 L456.24,810.71 L457.01,810.19 L457.78,809.65 L458.55,809.11 L459.32,808.56 L460.08,808.00 L460.85,807.45 L461.62,806.89 L462.39,806.33 L463.16,805.75 L463.93,805.18 L464.70,804.59 L465.47,804.01 L466.24,803.42 L467.01,802.83 L467.78,802.25 L468.55,801.66 L469.32,801.06 L470.08,800.46 L470.85,799.87 L471.62,799.27 L472.39,798.68 L473.16,798.10 L473.93,797.52 L474.70,796.95 L475.47,796.38 L476.24,795.82 L477.01,795.25 L477.78,794.69 L478.55,794.13 L479.32,793.56 L480.09,792.99 L480.85,792.41 L481.62,791.82 L482.39,791.23 L483.16,790.64 L483.93,790.06 L484.70,789.49 L485.47,788.92 L486.24,788.37 L487.01,787.83 L487.78,787.31 L488.55,786.78 L489.32,786.27 L490.09,785.75 L490.85,785.23 L491.62,784.70 L492.39,784.17 L493.16,783.64 L493.93,783.11 L494.70,782.58 L495.47,782.04 L496.24,781.50 L497.01,780.96 L497.78,780.42 L498.55,779.87 L499.32,779.30 L500.09,778.72 L500.86,778.14 L501.62,777.56 L502.39,776.99 L503.16,776.44 L503.93,775.91 L504.70,775.40 L505.47,774.90 L506.24,774.42 L507.01,773.94 L507.78,773.48 L508.55,773.02 L509.32,772.58 L510.09,772.14 L510.86,771.72 L511.62,771.30 L512.39,770.89 L513.16,770.49 L513.93,770.10 L514.70,769.71 L515.47,769.33 L516.24,768.95 L517.01,768.58 L517.78,768.21 L518.55,767.86 L519.32,767.51 L520.09,767.16 L520.86,766.81 L521.62,766.46 L522.39,766.10 L523.16,765.72 L523.93,765.33 L524.70,764.91 L525.47,764.48 L526.24,764.06 L527.01,763.65 L527.78,763.27 L528.55,762.92 L529.32,762.63 L530.09,762.36 L530.86,762.11 L531.62,761.88 L532.39,761.66 L533.16,761.44 L533.93,761.22 L534.70,760.99 L535.47,760.76 L536.24,760.52 L537.01,760.29 L537.78,760.05 L538.55,759.82 L539.32,759.58 L540.09,759.34 L540.86,759.10 L541.63,758.85 L542.39,758.58 L543.16,758.30 L543.93,758.00 L544.70,757.71 L545.47,757.44 L546.24,757.19 L547.01,756.97 L547.78,756.80 L548.55,756.64 L549.32,756.50 L550.09,756.38 L550.86,756.26 L551.63,756.14 L552.39,756.02 L553.16,755.90 L553.93,755.76 L554.70,755.61 L555.47,755.45 L556.24,755.30 L557.01,755.16 L557.78,755.04 L558.55,754.95 L559.32,754.90 L560.09,754.90 L560.86,754.90 L561.63,754.90 L562.39,754.90 L563.16,754.90 L563.93,754.90 L564.70,754.90 L565.47,754.90 L566.24,754.91 L567.01,754.94 L567.78,755.00 L568.55,755.07 L569.32,755.16 L570.09,755.25 L570.86,755.33 L571.63,755.40 L572.40,755.46 L573.16,755.51 L573.93,755.56 L574.70,755.61 L575.47,755.66 L576.24,755.72 L577.01,755.78 L577.78,755.86 L578.55,755.97 L579.32,756.13 L580.09,756.33 L580.86,756.57 L581.63,756.82 L582.40,757.09 L583.16,757.35 L583.93,757.60 L584.70,757.84 L585.47,758.09 L586.24,758.34 L587.01,758.59 L587.78,758.85 L588.55,759.10 L589.32,759.35 L590.09,759.60 L590.86,759.84 L591.63,760.08 L592.40,760.31 L593.16,760.53 L593.93,760.76 L594.70,760.99 L595.47,761.24 L596.24,761.49 L597.01,761.76 L597.78,762.05 L598.55,762.36 L599.32,762.69 L600.09,763.03 L600.86,763.36 L601.63,763.68 L602.40,763.99 L603.17,764.26 L603.93,764.52 L604.70,764.77 L605.47,765.01 L606.24,765.25 L607.01,765.49 L607.78,765.74 L608.55,765.99 L609.32,766.26 L610.09,766.54 L610.86,766.83 L611.63,767.12 L612.40,767.42 L613.17,767.72 L613.93,768.03 L614.70,768.35 L615.47,768.66 L616.24,768.99 L617.01,769.32 L617.78,769.65 L618.55,769.99 L619.32,770.34 L620.09,770.70 L620.86,771.06 L621.63,771.43 L622.40,771.80 L623.17,772.18 L623.93,772.58 L624.70,772.98 L625.47,773.38 L626.24,773.80 L627.01,774.22 L627.78,774.64 L628.55,775.07 L629.32,775.52 L630.09,775.98 L630.86,776.44 L631.63,776.91 L632.40,777.38 L633.17,777.85 L633.94,778.31 L634.70,778.76 L635.47,779.20 L636.24,779.64 L637.01,780.08 L637.78,780.52 L638.55,780.96 L639.32,781.42 L640.09,781.90 L640.86,782.39 L641.63,782.90 L642.40,783.42 L643.17,783.95 L643.94,784.47 L644.70,784.99 L645.47,785.50 L646.24,785.99 L647.01,786.48 L647.78,786.95 L648.55,787.42 L649.32,787.89 L650.09,788.36 L650.86,788.83 L651.63,789.31 L652.40,789.80 L653.17,790.29 L653.94,790.78 L654.70,791.28 L655.47,791.78 L656.24,792.29 L657.01,792.82 L657.78,793.37 L658.55,793.95 L659.32,794.58 L660.09,795.23 L660.86,795.91 L661.63,796.59 L662.40,797.25 L663.17,797.90 L663.94,798.50 L664.71,799.07 L665.47,799.61 L666.24,800.13 L667.01,800.64 L667.78,801.15 L668.55,801.65 L669.32,802.16 L670.09,802.69 L670.86,803.22 L671.63,803.76 L672.40,804.29 L673.17,804.83 L673.94,805.37 L674.71,805.92 L675.47,806.49 L676.24,807.06 L677.01,807.66 L677.78,808.29 L678.55,808.94 L679.32,809.60 L680.09,810.26 L680.86,810.93 L681.63,811.57 L682.40,812.20 L683.17,812.81 L683.94,813.40 L684.71,813.99 L685.48,814.57 L686.24,815.14 L687.01,815.71 L687.78,816.29 L688.55,816.87 L689.32,817.45 L690.09,818.04 L690.86,818.62 L691.63,819.21 L692.40,819.79 L693.17,820.38 L693.94,820.96 L694.71,821.54 L695.48,822.12 L696.24,822.69 L697.01,823.26 L697.78,823.83 L698.55,824.39 L699.32,824.94 L700.09,825.47 L700.86,826.00" fill="none" stroke="#5a5a5a" stroke-width="1.3" stroke-linejoin="round"/><path d="M146.23,822.95h7.7v7.7h-7.7zM152.38,816.41h7.7v7.7h-7.7zM158.53,810.29h7.7v7.7h-7.7zM164.69,804.33h7.7v7.7h-7.7zM170.84,798.26h7.7v7.7h-7.7zM177.00,792.09h7.7v7.7h-7.7zM183.15,785.99h7.7v7.7h-7.7zM189.31,779.98h7.7v7.7h-7.7zM195.46,773.80h7.7v7.7h-7.7zM201.61,767.22h7.7v7.7h-7.7zM207.77,760.94h7.7v7.7h-7.7zM213.92,755.50h7.7v7.7h-7.7zM220.08,749.65h7.7v7.7h-7.7zM226.23,743.80h7.7v7.7h-7.7zM232.38,738.49h7.7v7.7h-7.7zM238.54,733.27h7.7v7.7h-7.7zM244.69,727.77h7.7v7.7h-7.7zM250.84,722.54h7.7v7.7h-7.7zM257.00,717.29h7.7v7.7h-7.7zM263.15,712.48h7.7v7.7h-7.7zM269.31,708.33h7.7v7.7h-7.7zM275.46,704.68h7.7v7.7h-7.7zM281.62,701.23h7.7v7.7h-7.7zM287.77,697.48h7.7v7.7h-7.7zM293.92,693.94h7.7v7.7h-7.7zM300.08,690.81h7.7v7.7h-7.7zM306.23,688.66h7.7v7.7h-7.7zM312.38,688.40h7.7v7.7h-7.7zM318.54,689.78h7.7v7.7h-7.7zM324.69,694.05h7.7v7.7h-7.7zM330.85,699.43h7.7v7.7h-7.7zM337.00,705.35h7.7v7.7h-7.7zM343.15,712.94h7.7v7.7h-7.7zM349.31,721.05h7.7v7.7h-7.7zM355.46,731.25h7.7v7.7h-7.7zM361.62,741.68h7.7v7.7h-7.7zM367.77,752.39h7.7v7.7h-7.7zM373.92,763.03h7.7v7.7h-7.7zM380.08,771.98h7.7v7.7h-7.7zM386.23,781.97h7.7v7.7h-7.7zM392.39,791.11h7.7v7.7h-7.7zM398.54,799.52h7.7v7.7h-7.7zM404.69,808.35h7.7v7.7h-7.7zM410.85,814.45h7.7v7.7h-7.7zM417.00,821.35h7.7v7.7h-7.7zM423.16,824.35h7.7v7.7h-7.7zM429.31,820.55h7.7v7.7h-7.7zM435.46,817.15h7.7v7.7h-7.7zM441.62,813.03h7.7v7.7h-7.7zM447.77,809.59h7.7v7.7h-7.7zM453.93,805.80h7.7v7.7h-7.7zM460.08,801.33h7.7v7.7h-7.7zM466.23,796.61h7.7v7.7h-7.7zM472.39,791.97h7.7v7.7h-7.7zM478.54,787.38h7.7v7.7h-7.7zM484.70,782.93h7.7v7.7h-7.7zM490.85,778.73h7.7v7.7h-7.7zM497.00,774.29h7.7v7.7h-7.7zM503.16,770.09h7.7v7.7h-7.7zM509.31,766.64h7.7v7.7h-7.7zM515.47,763.66h7.7v7.7h-7.7zM521.62,760.63h7.7v7.7h-7.7zM527.77,758.03h7.7v7.7h-7.7zM533.93,756.20h7.7v7.7h-7.7zM540.08,754.15h7.7v7.7h-7.7zM546.24,752.53h7.7v7.7h-7.7zM552.39,751.45h7.7v7.7h-7.7zM558.54,751.05h7.7v7.7h-7.7zM564.70,751.22h7.7v7.7h-7.7zM570.85,751.76h7.7v7.7h-7.7zM577.01,752.72h7.7v7.7h-7.7zM583.16,754.74h7.7v7.7h-7.7zM589.31,756.68h7.7v7.7h-7.7zM595.47,758.84h7.7v7.7h-7.7zM601.62,761.16h7.7v7.7h-7.7zM607.78,763.27h7.7v7.7h-7.7zM613.93,765.80h7.7v7.7h-7.7zM620.08,768.73h7.7v7.7h-7.7zM626.24,772.13h7.7v7.7h-7.7zM632.39,775.79h7.7v7.7h-7.7zM638.55,779.57h7.7v7.7h-7.7zM644.70,783.57h7.7v7.7h-7.7zM650.85,787.43h7.7v7.7h-7.7zM657.01,792.06h7.7v7.7h-7.7zM663.16,796.79h7.7v7.7h-7.7zM669.32,800.98h7.7v7.7h-7.7zM675.47,805.75h7.7v7.7h-7.7zM681.62,810.72h7.7v7.7h-7.7zM687.78,815.36h7.7v7.7h-7.7zM693.93,819.98h7.7v7.7h-7.7z" fill="none" stroke="#4d4d4d" stroke-width="1.25"/><path d="M131.9,643.4H717.2V842.8" fill="none" stroke="#808080" stroke-width="2"/><path d="M131.9,642.4V843.8" fill="none" stroke="#808080" stroke-width="2"/><path d="M147.00,842.8v5.5M177.77,842.8v3.0M208.54,842.8v5.5M239.31,842.8v3.0M270.08,842.8v5.5M300.85,842.8v3.0M331.62,842.8v5.5M362.39,842.8v3.0M393.16,842.8v5.5M423.93,842.8v3.0M454.70,842.8v5.5M485.47,842.8v3.0M516.24,842.8v5.5M547.01,842.8v3.0M577.78,842.8v5.5M608.55,842.8v3.0M639.32,842.8v5.5M670.09,842.8v3.0M700.86,842.8v5.5M131.90,842.22h-2.9M131.90,828.00h-6M131.90,813.78h-2.9M131.90,799.56h-6M131.90,785.34h-2.9M131.90,771.12h-6M131.90,756.90h-2.9M131.90,742.68h-6M131.90,728.46h-2.9M131.90,714.24h-6M131.90,700.02h-2.9M131.90,685.80h-6M131.90,671.58h-2.9M131.90,657.36h-6" fill="none" stroke="#6a6a6a" stroke-width="1.6"/><text x="121.8" y="830.7" font-size="15.6" text-anchor="end" fill="#2e2e2e" stroke="#2e2e2e" stroke-width="0.6">0.0</text><text x="123.0" y="805.3" font-size="15.6" text-anchor="end" fill="#2e2e2e" stroke="#2e2e2e" stroke-width="0.6">2.0 <tspan dx="1">x</tspan> 10<tspan font-size="8.8" dy="-10.1" fill="#5a5a5a" stroke="#5a5a5a" stroke-width="0.3">-4</tspan></text><text x="123.0" y="776.8" font-size="15.6" text-anchor="end" fill="#2e2e2e" stroke="#2e2e2e" stroke-width="0.6">4.0 <tspan dx="1">x</tspan> 10<tspan font-size="8.8" dy="-10.1" fill="#5a5a5a" stroke="#5a5a5a" stroke-width="0.3">-4</tspan></text><text x="123.0" y="748.4" font-size="15.6" text-anchor="end" fill="#2e2e2e" stroke="#2e2e2e" stroke-width="0.6">6.0 <tspan dx="1">x</tspan> 10<tspan font-size="8.8" dy="-10.1" fill="#5a5a5a" stroke="#5a5a5a" stroke-width="0.3">-4</tspan></text><text x="123.0" y="719.9" font-size="15.6" text-anchor="end" fill="#2e2e2e" stroke="#2e2e2e" stroke-width="0.6">8.0 <tspan dx="1">x</tspan> 10<tspan font-size="8.8" dy="-10.1" fill="#5a5a5a" stroke="#5a5a5a" stroke-width="0.3">-4</tspan></text><text x="123.0" y="691.5" font-size="15.6" text-anchor="end" fill="#2e2e2e" stroke="#2e2e2e" stroke-width="0.6">1.0 <tspan dx="1">x</tspan> 10<tspan font-size="8.8" dy="-10.1" fill="#5a5a5a" stroke="#5a5a5a" stroke-width="0.3">-3</tspan></text><text x="123.0" y="663.1" font-size="15.6" text-anchor="end" fill="#2e2e2e" stroke="#2e2e2e" stroke-width="0.6">1.2 <tspan dx="1">x</tspan> 10<tspan font-size="8.8" dy="-10.1" fill="#5a5a5a" stroke="#5a5a5a" stroke-width="0.3">-3</tspan></text></g>
<g><path d="M820.38,820.60 L821.15,819.64 L821.92,818.71 L822.68,817.86 L823.45,817.09 L824.22,816.39 L824.99,815.73 L825.76,815.10 L826.53,814.49 L827.30,813.86 L828.07,813.22 L828.84,812.54 L829.61,811.80 L830.38,811.02 L831.15,810.20 L831.92,809.36 L832.68,808.50 L833.45,807.63 L834.22,806.75 L834.99,805.87 L835.76,805.00 L836.53,804.12 L837.30,803.22 L838.07,802.32 L838.84,801.40 L839.61,800.50 L840.38,799.61 L841.15,798.74 L841.92,797.90 L842.69,797.10 L843.45,796.33 L844.22,795.58 L844.99,794.85 L845.76,794.12 L846.53,793.37 L847.30,792.61 L848.07,791.83 L848.84,791.00 L849.61,790.12 L850.38,789.22 L851.15,788.30 L851.92,787.38 L852.69,786.48 L853.45,785.60 L854.22,784.77 L854.99,783.99 L855.76,783.23 L856.53,782.49 L857.30,781.75 L858.07,781.02 L858.84,780.27 L859.61,779.50 L860.38,778.70 L861.15,777.85 L861.92,776.96 L862.69,776.05 L863.45,775.12 L864.22,774.21 L864.99,773.32 L865.76,772.46 L866.53,771.65 L867.30,770.87 L868.07,770.10 L868.84,769.34 L869.61,768.60 L870.38,767.87 L871.15,767.14 L871.92,766.43 L872.69,765.72 L873.46,765.03 L874.22,764.36 L874.99,763.70 L875.76,763.04 L876.53,762.38 L877.30,761.71 L878.07,761.02 L878.84,760.30 L879.61,759.54 L880.38,758.75 L881.15,757.93 L881.92,757.10 L882.69,756.27 L883.46,755.45 L884.22,754.66 L884.99,753.90 L885.76,753.19 L886.53,752.51 L887.30,751.86 L888.07,751.22 L888.84,750.57 L889.61,749.92 L890.38,749.23 L891.15,748.50 L891.92,747.72 L892.69,746.84 L893.46,745.90 L894.22,744.94 L894.99,743.99 L895.76,743.08 L896.53,742.25 L897.30,741.52 L898.07,740.87 L898.84,740.28 L899.61,739.71 L900.38,739.17 L901.15,738.64 L901.92,738.09 L902.69,737.52 L903.46,736.90 L904.23,736.24 L904.99,735.54 L905.76,734.82 L906.53,734.09 L907.30,733.35 L908.07,732.62 L908.84,731.90 L909.61,731.20 L910.38,730.52 L911.15,729.84 L911.92,729.17 L912.69,728.51 L913.46,727.85 L914.23,727.21 L914.99,726.57 L915.76,725.95 L916.53,725.34 L917.30,724.74 L918.07,724.14 L918.84,723.56 L919.61,722.98 L920.38,722.41 L921.15,721.85 L921.92,721.30 L922.69,720.76 L923.46,720.24 L924.23,719.73 L924.99,719.22 L925.76,718.72 L926.53,718.22 L927.30,717.72 L928.07,717.21 L928.84,716.69 L929.61,716.15 L930.38,715.62 L931.15,715.08 L931.92,714.54 L932.69,714.01 L933.46,713.50 L934.23,713.00 L935.00,712.52 L935.76,712.05 L936.53,711.59 L937.30,711.14 L938.07,710.69 L938.84,710.23 L939.61,709.78 L940.38,709.31 L941.15,708.83 L941.92,708.33 L942.69,707.83 L943.46,707.34 L944.23,706.86 L945.00,706.40 L945.76,705.98 L946.53,705.60 L947.30,705.26 L948.07,704.95 L948.84,704.66 L949.61,704.39 L950.38,704.13 L951.15,703.86 L951.92,703.59 L952.69,703.32 L953.46,703.02 L954.23,702.70 L955.00,702.36 L955.76,702.02 L956.53,701.70 L957.30,701.39 L958.07,701.12 L958.84,700.90 L959.61,700.71 L960.38,700.53 L961.15,700.37 L961.92,700.22 L962.69,700.08 L963.46,699.95 L964.23,699.84 L965.00,699.74 L965.77,699.65 L966.53,699.57 L967.30,699.50 L968.07,699.44 L968.84,699.39 L969.61,699.33 L970.38,699.27 L971.15,699.20 L971.92,699.12 L972.69,699.03 L973.46,698.93 L974.23,698.83 L975.00,698.74 L975.77,698.67 L976.53,698.62 L977.30,698.60 L978.07,698.60 L978.84,698.60 L979.61,698.60 L980.38,698.60 L981.15,698.60 L981.92,698.60 L982.69,698.60 L983.46,698.60 L984.23,698.62 L985.00,698.67 L985.77,698.76 L986.53,698.86 L987.30,698.98 L988.07,699.10 L988.84,699.23 L989.61,699.35 L990.38,699.48 L991.15,699.62 L991.92,699.78 L992.69,699.95 L993.46,700.12 L994.23,700.31 L995.00,700.50 L995.77,700.70 L996.54,700.90 L997.30,701.12 L998.07,701.34 L998.84,701.58 L999.61,701.83 L1000.38,702.10 L1001.15,702.39 L1001.92,702.70 L1002.69,703.05 L1003.46,703.45 L1004.23,703.88 L1005.00,704.35 L1005.77,704.84 L1006.54,705.35 L1007.30,705.87 L1008.07,706.39 L1008.84,706.91 L1009.61,707.45 L1010.38,708.00 L1011.15,708.57 L1011.92,709.16 L1012.69,709.76 L1013.46,710.37 L1014.23,711.00 L1015.00,711.64 L1015.77,712.29 L1016.54,712.96 L1017.30,713.64 L1018.07,714.35 L1018.84,715.07 L1019.61,715.81 L1020.38,716.58 L1021.15,717.39 L1021.92,718.24 L1022.69,719.13 L1023.46,720.05 L1024.23,720.99 L1025.00,721.94 L1025.77,722.88 L1026.54,723.80 L1027.31,724.71 L1028.07,725.62 L1028.84,726.54 L1029.61,727.45 L1030.38,728.37 L1031.15,729.28 L1031.92,730.19 L1032.69,731.10 L1033.46,731.98 L1034.23,732.81 L1035.00,733.65 L1035.77,734.52 L1036.54,735.46 L1037.31,736.50 L1038.07,737.72 L1038.84,739.12 L1039.61,740.63 L1040.38,742.20 L1041.15,743.76 L1041.92,745.24 L1042.69,746.62 L1043.46,747.95 L1044.23,749.26 L1045.00,750.54 L1045.77,751.82 L1046.54,753.08 L1047.31,754.34 L1048.08,755.60 L1048.84,756.85 L1049.61,758.10 L1050.38,759.33 L1051.15,760.56 L1051.92,761.78 L1052.69,763.01 L1053.46,764.25 L1054.23,765.50 L1055.00,766.77 L1055.77,768.07 L1056.54,769.37 L1057.31,770.68 L1058.08,771.97 L1058.84,773.23 L1059.61,774.46 L1060.38,775.64 L1061.15,776.79 L1061.92,777.91 L1062.69,779.01 L1063.46,780.10 L1064.23,781.18 L1065.00,782.27 L1065.77,783.38 L1066.54,784.50 L1067.31,785.65 L1068.08,786.81 L1068.84,787.98 L1069.61,789.15 L1070.38,790.33 L1071.15,791.50 L1071.92,792.66 L1072.69,793.80 L1073.46,794.93 L1074.23,796.06 L1075.00,797.17 L1075.77,798.29 L1076.54,799.39 L1077.31,800.49 L1078.08,801.58 L1078.85,802.67 L1079.61,803.75 L1080.38,804.84 L1081.15,805.94 L1081.92,807.02 L1082.69,808.09 L1083.46,809.13 L1084.23,810.13 L1085.00,811.08 L1085.77,812.01 L1086.54,812.93 L1087.31,813.84 L1088.08,814.71 L1088.85,815.55 L1089.61,816.35 L1090.38,817.10 L1091.15,817.80 L1091.92,818.50 L1092.69,819.24 L1093.46,819.97 L1094.23,820.67 L1095.00,821.28 L1095.77,821.76 L1096.54,822.08 L1097.31,822.20 L1098.08,822.05 L1098.85,821.64 L1099.61,821.05 L1100.38,820.33 L1101.15,819.57 L1101.92,818.81 L1102.69,818.14 L1103.46,817.60 L1104.23,817.13 L1105.00,816.68 L1105.77,816.25 L1106.54,815.83 L1107.31,815.40 L1108.08,814.96 L1108.85,814.50 L1109.62,814.00 L1110.38,813.46 L1111.15,812.89 L1111.92,812.28 L1112.69,811.66 L1113.46,811.03 L1114.23,810.38 L1115.00,809.74 L1115.77,809.10 L1116.54,808.46 L1117.31,807.82 L1118.08,807.17 L1118.85,806.52 L1119.62,805.86 L1120.38,805.19 L1121.15,804.53 L1121.92,803.87 L1122.69,803.20 L1123.46,802.54 L1124.23,801.89 L1125.00,801.23 L1125.77,800.56 L1126.54,799.89 L1127.31,799.20 L1128.08,798.49 L1128.85,797.76 L1129.62,796.98 L1130.38,796.18 L1131.15,795.37 L1131.92,794.55 L1132.69,793.74 L1133.46,792.96 L1134.23,792.20 L1135.00,791.48 L1135.77,790.78 L1136.54,790.09 L1137.31,789.42 L1138.08,788.74 L1138.85,788.07 L1139.62,787.39 L1140.38,786.70 L1141.15,785.99 L1141.92,785.27 L1142.69,784.53 L1143.46,783.80 L1144.23,783.07 L1145.00,782.35 L1145.77,781.65 L1146.54,780.96 L1147.31,780.32 L1148.08,779.72 L1148.85,779.13 L1149.62,778.52 L1150.39,777.86 L1151.15,777.14 L1151.92,776.37 L1152.69,775.56 L1153.46,774.74 L1154.23,773.91 L1155.00,773.10 L1155.77,772.31 L1156.54,771.55 L1157.31,770.80 L1158.08,770.06 L1158.85,769.33 L1159.62,768.61 L1160.39,767.90 L1161.15,767.19 L1161.92,766.50 L1162.69,765.82 L1163.46,765.15 L1164.23,764.49 L1165.00,763.84 L1165.77,763.19 L1166.54,762.54 L1167.31,761.90 L1168.08,761.26 L1168.85,760.61 L1169.62,759.97 L1170.39,759.32 L1171.15,758.67 L1171.92,758.03 L1172.69,757.40 L1173.46,756.77 L1174.23,756.15 L1175.00,755.53 L1175.77,754.93 L1176.54,754.34 L1177.31,753.75 L1178.08,753.17 L1178.85,752.58 L1179.62,752.00 L1180.39,751.41 L1181.16,750.82 L1181.92,750.22 L1182.69,749.60 L1183.46,748.98 L1184.23,748.36 L1185.00,747.74 L1185.77,747.14 L1186.54,746.55 L1187.31,745.99 L1188.08,745.44 L1188.85,744.90 L1189.62,744.38 L1190.39,743.86 L1191.16,743.36 L1191.92,742.86 L1192.69,742.39 L1193.46,741.92 L1194.23,741.46 L1195.00,741.01 L1195.77,740.57 L1196.54,740.14 L1197.31,739.72 L1198.08,739.33 L1198.85,738.95 L1199.62,738.59 L1200.39,738.25 L1201.16,737.92 L1201.92,737.61 L1202.69,737.30 L1203.46,737.00 L1204.23,736.71 L1205.00,736.42 L1205.77,736.13 L1206.54,735.84 L1207.31,735.57 L1208.08,735.30 L1208.85,735.03 L1209.62,734.76 L1210.39,734.49 L1211.16,734.21 L1211.93,733.92 L1212.69,733.62 L1213.46,733.30 L1214.23,732.97 L1215.00,732.65 L1215.77,732.34 L1216.54,732.05 L1217.31,731.79 L1218.08,731.56 L1218.85,731.35 L1219.62,731.16 L1220.39,730.97 L1221.16,730.80 L1221.93,730.64 L1222.69,730.49 L1223.46,730.35 L1224.23,730.22 L1225.00,730.10 L1225.77,729.98 L1226.54,729.87 L1227.31,729.77 L1228.08,729.67 L1228.85,729.58 L1229.62,729.50 L1230.39,729.42 L1231.16,729.33 L1231.93,729.24 L1232.69,729.16 L1233.46,729.09 L1234.23,729.04 L1235.00,729.01 L1235.77,729.00 L1236.54,729.00 L1237.31,729.00 L1238.08,729.00 L1238.85,729.00 L1239.62,729.00 L1240.39,729.00 L1241.16,729.00 L1241.93,729.00 L1242.70,729.03 L1243.46,729.10 L1244.23,729.21 L1245.00,729.35 L1245.77,729.51 L1246.54,729.66 L1247.31,729.82 L1248.08,729.95 L1248.85,730.09 L1249.62,730.23 L1250.39,730.38 L1251.16,730.53 L1251.93,730.69 L1252.70,730.85 L1253.46,731.02 L1254.23,731.20 L1255.00,731.38 L1255.77,731.57 L1256.54,731.76 L1257.31,731.97 L1258.08,732.18 L1258.85,732.41 L1259.62,732.65 L1260.39,732.91 L1261.16,733.20 L1261.93,733.52 L1262.70,733.86 L1263.46,734.22 L1264.23,734.58 L1265.00,734.94 L1265.77,735.28 L1266.54,735.60 L1267.31,735.90 L1268.08,736.18 L1268.85,736.46 L1269.62,736.73 L1270.39,737.00 L1271.16,737.28 L1271.93,737.57 L1272.70,737.87 L1273.47,738.20 L1274.23,738.54 L1275.00,738.89 L1275.77,739.26 L1276.54,739.63 L1277.31,740.02 L1278.08,740.42 L1278.85,740.83 L1279.62,741.26 L1280.39,741.71 L1281.16,742.18 L1281.93,742.66 L1282.70,743.15 L1283.47,743.64 L1284.23,744.13 L1285.00,744.60 L1285.77,745.05 L1286.54,745.50 L1287.31,745.93 L1288.08,746.37 L1288.85,746.80 L1289.62,747.25 L1290.39,747.72 L1291.16,748.20 L1291.93,748.71 L1292.70,749.25 L1293.47,749.82 L1294.23,750.39 L1295.00,750.96 L1295.77,751.53 L1296.54,752.08 L1297.31,752.61 L1298.08,753.12 L1298.85,753.61 L1299.62,754.09 L1300.39,754.58 L1301.16,755.06 L1301.93,755.56 L1302.70,756.07 L1303.47,756.60 L1304.24,757.16 L1305.00,757.73 L1305.77,758.32 L1306.54,758.93 L1307.31,759.54 L1308.08,760.16 L1308.85,760.78 L1309.62,761.40 L1310.39,762.02 L1311.16,762.65 L1311.93,763.28 L1312.70,763.91 L1313.47,764.56 L1314.24,765.21 L1315.00,765.86 L1315.77,766.53 L1316.54,767.21 L1317.31,767.91 L1318.08,768.62 L1318.85,769.34 L1319.62,770.06 L1320.39,770.79 L1321.16,771.50 L1321.93,772.20 L1322.70,772.89 L1323.47,773.56 L1324.24,774.23 L1325.00,774.90 L1325.77,775.57 L1326.54,776.24 L1327.31,776.91 L1328.08,777.60 L1328.85,778.30 L1329.62,779.01 L1330.39,779.72 L1331.16,780.44 L1331.93,781.16 L1332.70,781.87 L1333.47,782.58 L1334.24,783.28 L1335.01,783.95 L1335.77,784.61 L1336.54,785.27 L1337.31,785.92 L1338.08,786.59 L1338.85,787.26 L1339.62,787.96 L1340.39,788.70 L1341.16,789.47 L1341.93,790.29 L1342.70,791.16 L1343.47,792.04 L1344.24,792.95 L1345.01,793.85 L1345.77,794.74 L1346.54,795.60 L1347.31,796.45 L1348.08,797.30 L1348.85,798.15 L1349.62,798.99 L1350.39,799.82 L1351.16,800.63 L1351.93,801.43 L1352.70,802.20 L1353.47,802.94 L1354.24,803.66 L1355.01,804.35 L1355.78,805.03 L1356.54,805.71 L1357.31,806.39 L1358.08,807.09 L1358.85,807.80 L1359.62,808.55 L1360.39,809.32 L1361.16,810.11 L1361.93,810.92 L1362.70,811.72 L1363.47,812.53 L1364.24,813.32 L1365.01,814.10 L1365.78,814.86 L1366.54,815.61 L1367.31,816.36 L1368.08,817.10 L1368.85,817.83 L1369.62,818.56 L1370.39,819.28 L1371.16,820.00" fill="none" stroke="#5a5a5a" stroke-width="1.3" stroke-linejoin="round"/><path d="M816.53,816.75h7.7v7.7h-7.7zM822.68,810.64h7.7v7.7h-7.7zM828.83,804.65h7.7v7.7h-7.7zM834.99,797.55h7.7v7.7h-7.7zM841.14,791.00h7.7v7.7h-7.7zM847.30,784.45h7.7v7.7h-7.7zM853.45,777.90h7.7v7.7h-7.7zM859.60,771.27h7.7v7.7h-7.7zM865.76,764.75h7.7v7.7h-7.7zM871.91,759.19h7.7v7.7h-7.7zM878.07,753.25h7.7v7.7h-7.7zM884.22,747.37h7.7v7.7h-7.7zM890.37,741.09h7.7v7.7h-7.7zM896.53,735.32h7.7v7.7h-7.7zM902.68,730.24h7.7v7.7h-7.7zM908.84,724.66h7.7v7.7h-7.7zM914.99,719.71h7.7v7.7h-7.7zM921.14,715.37h7.7v7.7h-7.7zM927.30,711.23h7.7v7.7h-7.7zM933.45,707.29h7.7v7.7h-7.7zM939.61,703.49h7.7v7.7h-7.7zM945.76,700.54h7.7v7.7h-7.7zM951.91,698.17h7.7v7.7h-7.7zM958.07,696.37h7.7v7.7h-7.7zM964.22,695.59h7.7v7.7h-7.7zM970.38,694.98h7.7v7.7h-7.7zM976.53,694.75h7.7v7.7h-7.7zM982.68,695.01h7.7v7.7h-7.7zM988.84,696.10h7.7v7.7h-7.7zM994.99,697.73h7.7v7.7h-7.7zM1001.15,700.50h7.7v7.7h-7.7zM1007.30,704.72h7.7v7.7h-7.7zM1013.45,709.79h7.7v7.7h-7.7zM1019.61,716.20h7.7v7.7h-7.7zM1025.76,723.60h7.7v7.7h-7.7zM1031.92,730.67h7.7v7.7h-7.7zM1038.07,741.39h7.7v7.7h-7.7zM1044.23,751.75h7.7v7.7h-7.7zM1050.38,761.65h7.7v7.7h-7.7zM1056.53,771.79h7.7v7.7h-7.7zM1062.69,780.65h7.7v7.7h-7.7zM1068.84,789.95h7.7v7.7h-7.7zM1075.00,798.82h7.7v7.7h-7.7zM1081.15,807.23h7.7v7.7h-7.7zM1087.30,813.95h7.7v7.7h-7.7zM1093.46,818.35h7.7v7.7h-7.7zM1099.61,813.75h7.7v7.7h-7.7zM1105.77,810.15h7.7v7.7h-7.7zM1111.92,805.25h7.7v7.7h-7.7zM1118.07,800.02h7.7v7.7h-7.7zM1124.23,794.64h7.7v7.7h-7.7zM1130.38,788.35h7.7v7.7h-7.7zM1136.54,782.85h7.7v7.7h-7.7zM1142.69,777.11h7.7v7.7h-7.7zM1148.84,771.71h7.7v7.7h-7.7zM1155.00,765.48h7.7v7.7h-7.7zM1161.15,759.99h7.7v7.7h-7.7zM1167.31,754.82h7.7v7.7h-7.7zM1173.46,749.90h7.7v7.7h-7.7zM1179.61,745.13h7.7v7.7h-7.7zM1185.77,740.53h7.7v7.7h-7.7zM1191.92,736.72h7.7v7.7h-7.7zM1198.08,733.76h7.7v7.7h-7.7zM1204.23,731.45h7.7v7.7h-7.7zM1210.38,729.12h7.7v7.7h-7.7zM1216.54,727.12h7.7v7.7h-7.7zM1222.69,726.02h7.7v7.7h-7.7zM1228.85,725.31h7.7v7.7h-7.7zM1235.00,725.15h7.7v7.7h-7.7zM1241.15,725.50h7.7v7.7h-7.7zM1247.31,726.68h7.7v7.7h-7.7zM1253.46,728.12h7.7v7.7h-7.7zM1259.62,730.37h7.7v7.7h-7.7zM1265.77,732.88h7.7v7.7h-7.7zM1271.92,735.41h7.7v7.7h-7.7zM1278.08,738.81h7.7v7.7h-7.7zM1284.23,742.52h7.7v7.7h-7.7zM1290.38,746.54h7.7v7.7h-7.7zM1296.54,750.73h7.7v7.7h-7.7zM1302.69,755.08h7.7v7.7h-7.7zM1308.85,760.06h7.7v7.7h-7.7zM1315.00,765.49h7.7v7.7h-7.7zM1321.15,771.05h7.7v7.7h-7.7zM1327.31,776.59h7.7v7.7h-7.7zM1333.46,782.07h7.7v7.7h-7.7zM1339.62,788.19h7.7v7.7h-7.7zM1345.77,795.14h7.7v7.7h-7.7zM1351.93,801.18h7.7v7.7h-7.7zM1358.08,807.07h7.7v7.7h-7.7zM1364.23,813.25h7.7v7.7h-7.7z" fill="none" stroke="#4d4d4d" stroke-width="1.25"/><path d="M801.9,643.4H1387.0V842.8" fill="none" stroke="#808080" stroke-width="2"/><path d="M801.9,642.4V843.8" fill="none" stroke="#808080" stroke-width="2"/><path d="M817.30,842.8v5.5M848.07,842.8v3.0M878.84,842.8v5.5M909.61,842.8v3.0M940.38,842.8v5.5M971.15,842.8v3.0M1001.92,842.8v5.5M1032.69,842.8v3.0M1063.46,842.8v5.5M1094.23,842.8v3.0M1125.00,842.8v5.5M1155.77,842.8v3.0M1186.54,842.8v5.5M1217.31,842.8v3.0M1248.08,842.8v5.5M1278.85,842.8v3.0M1309.62,842.8v5.5M1340.39,842.8v3.0M1371.16,842.8v5.5M801.90,842.51h-2.9M801.90,822.60h-6M801.90,802.69h-2.9M801.90,782.78h-6M801.90,762.87h-2.9M801.90,742.96h-6M801.90,723.05h-2.9M801.90,703.14h-6M801.90,683.23h-2.9M801.90,663.32h-6M801.90,643.41h-2.9" fill="none" stroke="#6a6a6a" stroke-width="1.6"/><text x="791.4" y="825.3" font-size="15.6" text-anchor="end" fill="#2e2e2e" stroke="#2e2e2e" stroke-width="0.6">0.0</text><text x="792.6" y="788.5" font-size="15.6" text-anchor="end" fill="#2e2e2e" stroke="#2e2e2e" stroke-width="0.6">2.0 <tspan dx="1">x</tspan> 10<tspan font-size="8.8" dy="-10.1" fill="#5a5a5a" stroke="#5a5a5a" stroke-width="0.3">-4</tspan></text><text x="792.6" y="748.7" font-size="15.6" text-anchor="end" fill="#2e2e2e" stroke="#2e2e2e" stroke-width="0.6">4.0 <tspan dx="1">x</tspan> 10<tspan font-size="8.8" dy="-10.1" fill="#5a5a5a" stroke="#5a5a5a" stroke-width="0.3">-4</tspan></text><text x="792.6" y="708.8" font-size="15.6" text-anchor="end" fill="#2e2e2e" stroke="#2e2e2e" stroke-width="0.6">6.0 <tspan dx="1">x</tspan> 10<tspan font-size="8.8" dy="-10.1" fill="#5a5a5a" stroke="#5a5a5a" stroke-width="0.3">-4</tspan></text><text x="792.6" y="669.0" font-size="15.6" text-anchor="end" fill="#2e2e2e" stroke="#2e2e2e" stroke-width="0.6">8.0 <tspan dx="1">x</tspan> 10<tspan font-size="8.8" dy="-10.1" fill="#5a5a5a" stroke="#5a5a5a" stroke-width="0.3">-4</tspan></text></g>
<path d="M128.9,244.6H718.2" fill="none" stroke="#525252" stroke-width="2"/>
<path d="M798.9,244.6H1388.0" fill="none" stroke="#525252" stroke-width="2"/>
<path d="M128.9,443.7H718.2" fill="none" stroke="#525252" stroke-width="2"/>
<path d="M798.9,443.7H1388.0" fill="none" stroke="#525252" stroke-width="2"/>
<path d="M128.9,643.4H718.2" fill="none" stroke="#525252" stroke-width="2"/>
<path d="M798.9,643.4H1388.0" fill="none" stroke="#525252" stroke-width="2"/>
<path d="M128.9,842.8H718.2" fill="none" stroke="#525252" stroke-width="2"/>
<path d="M798.9,842.8H1388.0" fill="none" stroke="#525252" stroke-width="2"/>
<text x="147.00" y="864.6" font-size="16" text-anchor="middle" fill="#2e2e2e" stroke="#2e2e2e" stroke-width="0.6">0</text>
<text x="208.54" y="864.6" font-size="16" text-anchor="middle" fill="#2e2e2e" stroke="#2e2e2e" stroke-width="0.6">20</text>
<text x="270.08" y="864.6" font-size="16" text-anchor="middle" fill="#2e2e2e" stroke="#2e2e2e" stroke-width="0.6">40</text>
<text x="331.62" y="864.6" font-size="16" text-anchor="middle" fill="#2e2e2e" stroke="#2e2e2e" stroke-width="0.6">60</text>
<text x="393.16" y="864.6" font-size="16" text-anchor="middle" fill="#2e2e2e" stroke="#2e2e2e" stroke-width="0.6">80</text>
<text x="454.70" y="864.6" font-size="16" text-anchor="middle" fill="#2e2e2e" stroke="#2e2e2e" stroke-width="0.6">100</text>
<text x="516.24" y="864.6" font-size="16" text-anchor="middle" fill="#2e2e2e" stroke="#2e2e2e" stroke-width="0.6">120</text>
<text x="577.78" y="864.6" font-size="16" text-anchor="middle" fill="#2e2e2e" stroke="#2e2e2e" stroke-width="0.6">140</text>
<text x="639.32" y="864.6" font-size="16" text-anchor="middle" fill="#2e2e2e" stroke="#2e2e2e" stroke-width="0.6">160</text>
<text x="700.86" y="864.6" font-size="16" text-anchor="middle" fill="#2e2e2e" stroke="#2e2e2e" stroke-width="0.6">180</text>
<text x="817.30" y="864.6" font-size="16" text-anchor="middle" fill="#2e2e2e" stroke="#2e2e2e" stroke-width="0.6">0</text>
<text x="878.84" y="864.6" font-size="16" text-anchor="middle" fill="#2e2e2e" stroke="#2e2e2e" stroke-width="0.6">20</text>
<text x="940.38" y="864.6" font-size="16" text-anchor="middle" fill="#2e2e2e" stroke="#2e2e2e" stroke-width="0.6">40</text>
<text x="1001.92" y="864.6" font-size="16" text-anchor="middle" fill="#2e2e2e" stroke="#2e2e2e" stroke-width="0.6">60</text>
<text x="1063.46" y="864.6" font-size="16" text-anchor="middle" fill="#2e2e2e" stroke="#2e2e2e" stroke-width="0.6">80</text>
<text x="1125.00" y="864.6" font-size="16" text-anchor="middle" fill="#2e2e2e" stroke="#2e2e2e" stroke-width="0.6">100</text>
<text x="1186.54" y="864.6" font-size="16" text-anchor="middle" fill="#2e2e2e" stroke="#2e2e2e" stroke-width="0.6">120</text>
<text x="1248.08" y="864.6" font-size="16" text-anchor="middle" fill="#2e2e2e" stroke="#2e2e2e" stroke-width="0.6">140</text>
<text x="1309.62" y="864.6" font-size="16" text-anchor="middle" fill="#2e2e2e" stroke="#2e2e2e" stroke-width="0.6">160</text>
<text x="1371.16" y="864.6" font-size="16" text-anchor="middle" fill="#2e2e2e" stroke="#2e2e2e" stroke-width="0.6">180</text>
<text x="424.5" y="900.5" font-size="27" text-anchor="middle" fill="#1a1a1a" stroke="#1a1a1a" stroke-width="0.3">Transmitted Angle</text>
<text x="1095" y="896.5" font-size="27" text-anchor="middle" fill="#1a1a1a" stroke="#1a1a1a" stroke-width="0.3">Transmitted Angle</text>
<text transform="translate(43.2,445.5) rotate(-90)" font-size="27" text-anchor="middle" fill="#1a1a1a" stroke="#1a1a1a" stroke-width="0.3">Transmitted Percentage</text>
<text x="141.1" y="74.7" font-size="28" font-weight="bold" fill="#000">(a)</text>
<text x="808.1" y="80.6" font-size="28" font-weight="bold" fill="#000">(b)</text>
<text x="142.0" y="289.2" font-size="28" font-weight="bold" fill="#000">(c)</text>
<text x="808.5" y="284.1" font-size="28" font-weight="bold" fill="#000">(d)</text>
<text x="142.1" y="483.5" font-size="28" font-weight="bold" fill="#000">(e)</text>
<text x="812.4" y="479.3" font-size="28" font-weight="bold" fill="#000">(f)</text>
<text x="141.0" y="677.9" font-size="28" font-weight="bold" fill="#000">(g)</text>
<text x="808.5" y="681.8" font-size="28" font-weight="bold" fill="#000">(h)</text>
<text x="151.6" y="201.1" font-size="27" fill="#1a1a1a" stroke="#1a1a1a" stroke-width="0.3">t = 0~25<tspan font-size="21.5" fill="#444" stroke="#444" stroke-width="0.1">&#916;</tspan>z/c</text>
<text x="822.3" y="204.9" font-size="27" fill="#1a1a1a" stroke="#1a1a1a" stroke-width="0.3">t = 25<tspan font-size="21.5" fill="#444" stroke="#444" stroke-width="0.1">&#916;</tspan>z/c~50<tspan font-size="21.5" fill="#444" stroke="#444" stroke-width="0.1">&#916;</tspan>z/c</text>
<text x="143.9" y="412.3" font-size="27" fill="#1a1a1a" stroke="#1a1a1a" stroke-width="0.3">t = 50<tspan font-size="21.5" fill="#444" stroke="#444" stroke-width="0.1">&#916;</tspan>z/c~75<tspan font-size="21.5" fill="#444" stroke="#444" stroke-width="0.1">&#916;</tspan>z/c</text>
<text x="817.2" y="413.5" font-size="27" fill="#1a1a1a" stroke="#1a1a1a" stroke-width="0.3">t = 75<tspan font-size="21.5" fill="#444" stroke="#444" stroke-width="0.1">&#916;</tspan>z/c~100<tspan font-size="21.5" fill="#444" stroke="#444" stroke-width="0.1">&#916;</tspan>z/c</text>
<text x="460.9" y="597.5" font-size="27" fill="#1a1a1a" stroke="#1a1a1a" stroke-width="0.3">t = 100<tspan font-size="21.5" fill="#444" stroke="#444" stroke-width="0.1">&#916;</tspan>z/c~125<tspan font-size="21.5" fill="#444" stroke="#444" stroke-width="0.1">&#916;</tspan>z/c</text>
<text x="1123.8" y="543.0" font-size="27" fill="#1a1a1a" stroke="#1a1a1a" stroke-width="0.3">t = 0</text>
<text x="1123.8" y="583.6" font-size="27" fill="#1a1a1a" stroke="#1a1a1a" stroke-width="0.3">t = 125<tspan font-size="21.5" fill="#444" stroke="#444" stroke-width="0.1">&#916;</tspan>z/c~150<tspan font-size="21.5" fill="#444" stroke="#444" stroke-width="0.1">&#916;</tspan>z/c</text>
<text x="461.7" y="738.6" font-size="27" fill="#1a1a1a" stroke="#1a1a1a" stroke-width="0.3">t = 150<tspan font-size="21.5" fill="#444" stroke="#444" stroke-width="0.1">&#916;</tspan>z/c~175<tspan font-size="21.5" fill="#444" stroke="#444" stroke-width="0.1">&#916;</tspan>z/c</text>
<text x="1119.0" y="720.3" font-size="27" fill="#1a1a1a" stroke="#1a1a1a" stroke-width="0.3">t = 175<tspan font-size="21.5" fill="#444" stroke="#444" stroke-width="0.1">&#916;</tspan>z/c~200<tspan font-size="21.5" fill="#444" stroke="#444" stroke-width="0.1">&#916;</tspan>z/c</text>
<rect x="207.3" y="57.4" width="17.5" height="17.5" fill="none" stroke="#333" stroke-width="2.2"/>
<path d="M192.1,92.7H240.7" stroke="#888" stroke-width="1.8"/>
<text x="246.3" y="73" font-size="21.95" fill="#222" stroke="#222" stroke-width="0.25">Monte Carlo Simulation</text>
<text x="246.9" y="100" font-size="21.95" fill="#222" stroke="#222" stroke-width="0.25">Time-based Markov Model</text>
</svg></body></html>
